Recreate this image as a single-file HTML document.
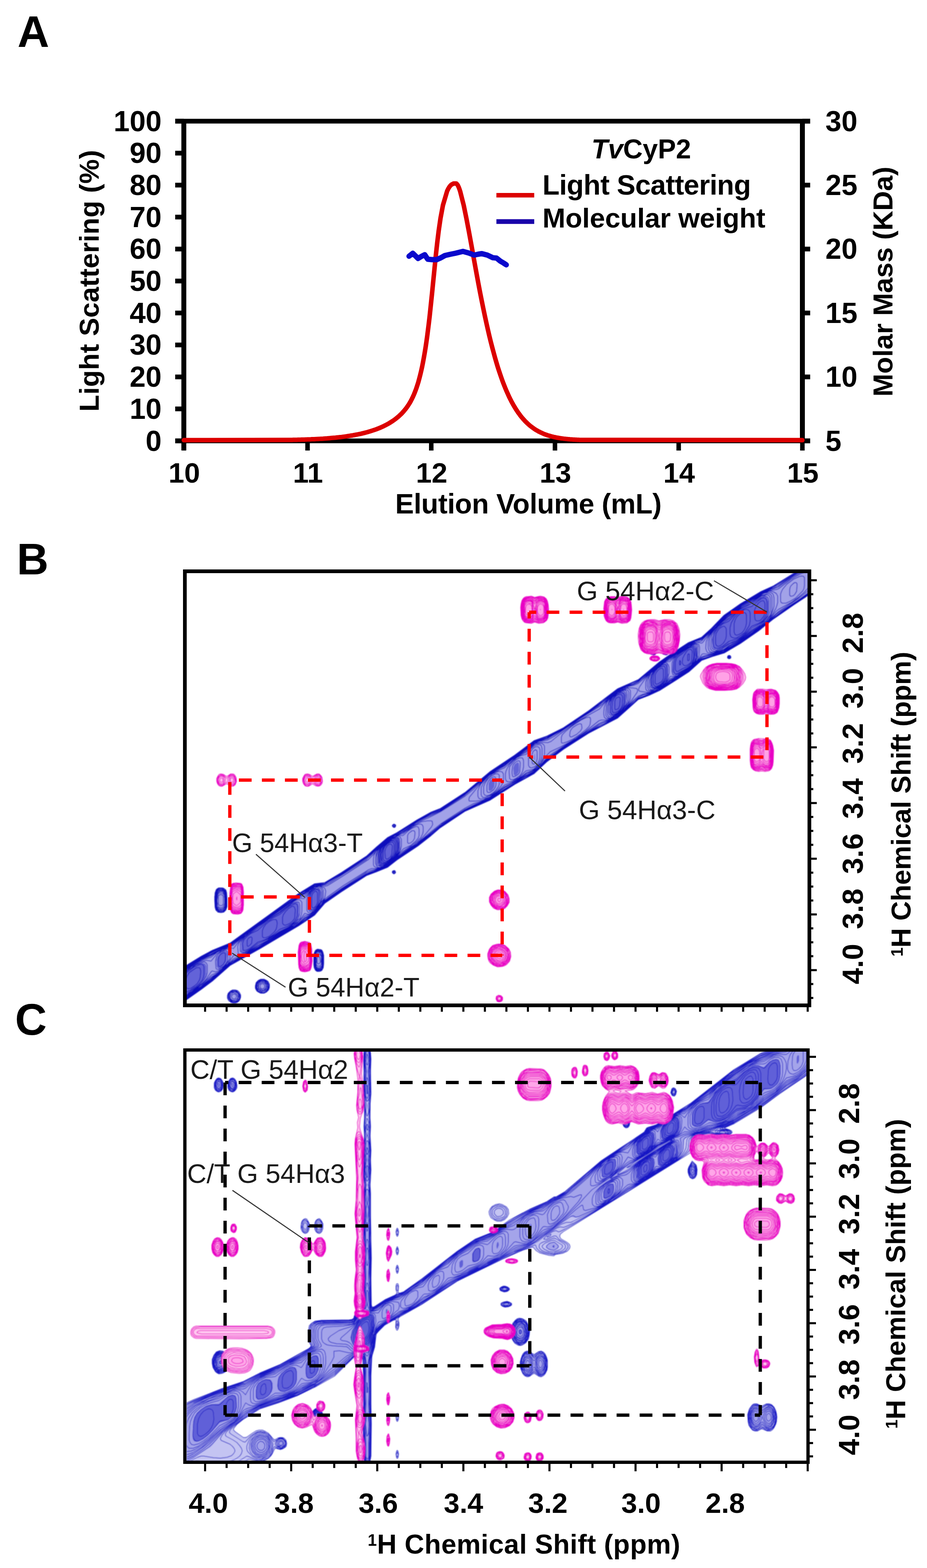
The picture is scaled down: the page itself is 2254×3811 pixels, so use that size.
<!DOCTYPE html>
<html><head><meta charset="utf-8"><title>Figure</title>
<style>html,body{margin:0;padding:0;background:#fff;}svg{display:block;}text{font-family:'Liberation Sans', Arial, Helvetica, sans-serif;}</style>
</head><body>
<svg width="2254" height="3811" viewBox="0 0 2254 3811">
<rect width="2254" height="3811" fill="#fff"/>
<text x="42.4" y="114.0" font-size="107" text-anchor="start" font-weight="bold" fill="#000" >A</text>
<line x1="426.0" y1="294.5" x2="1970.0" y2="294.5" stroke="#000" stroke-width="11.5"/>
<line x1="426.0" y1="1071.5" x2="1970.0" y2="1071.5" stroke="#000" stroke-width="11.5"/>
<line x1="447.0" y1="289.5" x2="447.0" y2="1094.5" stroke="#000" stroke-width="12"/>
<line x1="1951.0" y1="289.5" x2="1951.0" y2="1076.5" stroke="#000" stroke-width="12"/>
<line x1="426.0" y1="294.5" x2="447.0" y2="294.5" stroke="#000" stroke-width="11.5"/>
<text x="393.0" y="318.5" font-size="70" text-anchor="end" font-weight="bold" fill="#000" >100</text>
<line x1="426.0" y1="372.2" x2="447.0" y2="372.2" stroke="#000" stroke-width="11.5"/>
<text x="393.0" y="396.2" font-size="70" text-anchor="end" font-weight="bold" fill="#000" >90</text>
<line x1="426.0" y1="449.9" x2="447.0" y2="449.9" stroke="#000" stroke-width="11.5"/>
<text x="393.0" y="473.9" font-size="70" text-anchor="end" font-weight="bold" fill="#000" >80</text>
<line x1="426.0" y1="527.6" x2="447.0" y2="527.6" stroke="#000" stroke-width="11.5"/>
<text x="393.0" y="551.6" font-size="70" text-anchor="end" font-weight="bold" fill="#000" >70</text>
<line x1="426.0" y1="605.3" x2="447.0" y2="605.3" stroke="#000" stroke-width="11.5"/>
<text x="393.0" y="629.3" font-size="70" text-anchor="end" font-weight="bold" fill="#000" >60</text>
<line x1="426.0" y1="683.0" x2="447.0" y2="683.0" stroke="#000" stroke-width="11.5"/>
<text x="393.0" y="707.0" font-size="70" text-anchor="end" font-weight="bold" fill="#000" >50</text>
<line x1="426.0" y1="760.7" x2="447.0" y2="760.7" stroke="#000" stroke-width="11.5"/>
<text x="393.0" y="784.7" font-size="70" text-anchor="end" font-weight="bold" fill="#000" >40</text>
<line x1="426.0" y1="838.4" x2="447.0" y2="838.4" stroke="#000" stroke-width="11.5"/>
<text x="393.0" y="862.4" font-size="70" text-anchor="end" font-weight="bold" fill="#000" >30</text>
<line x1="426.0" y1="916.1" x2="447.0" y2="916.1" stroke="#000" stroke-width="11.5"/>
<text x="393.0" y="940.1" font-size="70" text-anchor="end" font-weight="bold" fill="#000" >20</text>
<line x1="426.0" y1="993.8" x2="447.0" y2="993.8" stroke="#000" stroke-width="11.5"/>
<text x="393.0" y="1017.8" font-size="70" text-anchor="end" font-weight="bold" fill="#000" >10</text>
<line x1="426.0" y1="1071.5" x2="447.0" y2="1071.5" stroke="#000" stroke-width="11.5"/>
<text x="393.0" y="1095.5" font-size="70" text-anchor="end" font-weight="bold" fill="#000" >0</text>
<line x1="1951.0" y1="294.5" x2="1970.0" y2="294.5" stroke="#000" stroke-width="11.5"/>
<text x="2007.0" y="318.5" font-size="70" text-anchor="start" font-weight="bold" fill="#000" >30</text>
<line x1="1951.0" y1="449.9" x2="1970.0" y2="449.9" stroke="#000" stroke-width="11.5"/>
<text x="2007.0" y="473.9" font-size="70" text-anchor="start" font-weight="bold" fill="#000" >25</text>
<line x1="1951.0" y1="605.3" x2="1970.0" y2="605.3" stroke="#000" stroke-width="11.5"/>
<text x="2007.0" y="629.3" font-size="70" text-anchor="start" font-weight="bold" fill="#000" >20</text>
<line x1="1951.0" y1="760.7" x2="1970.0" y2="760.7" stroke="#000" stroke-width="11.5"/>
<text x="2007.0" y="784.7" font-size="70" text-anchor="start" font-weight="bold" fill="#000" >15</text>
<line x1="1951.0" y1="916.1" x2="1970.0" y2="916.1" stroke="#000" stroke-width="11.5"/>
<text x="2007.0" y="940.1" font-size="70" text-anchor="start" font-weight="bold" fill="#000" >10</text>
<line x1="1951.0" y1="1071.5" x2="1970.0" y2="1071.5" stroke="#000" stroke-width="11.5"/>
<text x="2007.0" y="1095.5" font-size="70" text-anchor="start" font-weight="bold" fill="#000" >5</text>
<line x1="447.0" y1="1071.5" x2="447.0" y2="1095.0" stroke="#000" stroke-width="11"/>
<text x="448.0" y="1173.0" font-size="69" text-anchor="middle" font-weight="bold" fill="#000" >10</text>
<line x1="747.8" y1="1071.5" x2="747.8" y2="1095.0" stroke="#000" stroke-width="11"/>
<text x="748.8" y="1173.0" font-size="69" text-anchor="middle" font-weight="bold" fill="#000" >11</text>
<line x1="1048.6" y1="1071.5" x2="1048.6" y2="1095.0" stroke="#000" stroke-width="11"/>
<text x="1049.6" y="1173.0" font-size="69" text-anchor="middle" font-weight="bold" fill="#000" >12</text>
<line x1="1349.4" y1="1071.5" x2="1349.4" y2="1095.0" stroke="#000" stroke-width="11"/>
<text x="1350.4" y="1173.0" font-size="69" text-anchor="middle" font-weight="bold" fill="#000" >13</text>
<line x1="1650.2" y1="1071.5" x2="1650.2" y2="1095.0" stroke="#000" stroke-width="11"/>
<text x="1651.2" y="1173.0" font-size="69" text-anchor="middle" font-weight="bold" fill="#000" >14</text>
<line x1="1951.0" y1="1071.5" x2="1951.0" y2="1095.0" stroke="#000" stroke-width="11"/>
<text x="1952.0" y="1173.0" font-size="69" text-anchor="middle" font-weight="bold" fill="#000" >15</text>
<text x="961.0" y="1248.0" font-size="68" text-anchor="start" font-weight="bold" fill="#000" textLength="648" lengthAdjust="spacing">Elution Volume (mL)</text>
<text transform="translate(240.3,682.4) rotate(-90)" font-size="67" font-weight="bold" text-anchor="middle" textLength="636" lengthAdjust="spacing">Light Scattering (%)</text>
<text transform="translate(2169.6,684.4) rotate(-90)" font-size="67" font-weight="bold" text-anchor="middle" textLength="559" lengthAdjust="spacing">Molar Mass (KDa)</text>
<text x="1438" y="385" font-size="66" font-weight="bold"><tspan font-style="italic">Tv</tspan>CyP2</text>
<text x="1319.0" y="472.5" font-size="68" text-anchor="start" font-weight="bold" fill="#000" textLength="507" lengthAdjust="spacing">Light Scattering</text>
<text x="1319.0" y="552.6" font-size="67" text-anchor="start" font-weight="bold" fill="#000" textLength="542" lengthAdjust="spacing">Molecular weight</text>
<line x1="1207.0" y1="474.4" x2="1299.0" y2="474.4" stroke="#dc0000" stroke-width="11"/>
<line x1="1207.0" y1="538.4" x2="1299.0" y2="538.4" stroke="#1900aa" stroke-width="11.5"/>
<path d="M447.0,1069.8 L709.2,1069.2 L710.9,1069.2 L712.6,1069.1 L714.4,1069.1 L716.3,1069.0 L718.2,1069.0 L720.2,1068.9 L722.2,1068.9 L724.2,1068.8 L726.4,1068.8 L728.5,1068.7 L730.7,1068.7 L733.0,1068.6 L735.3,1068.5 L737.7,1068.4 L740.1,1068.4 L742.6,1068.3 L745.1,1068.2 L747.7,1068.1 L750.3,1068.0 L753.0,1067.9 L755.7,1067.8 L758.5,1067.6 L761.3,1067.5 L764.2,1067.4 L767.1,1067.2 L770.0,1067.1 L773.0,1066.9 L776.1,1066.7 L779.2,1066.6 L782.3,1066.4 L785.5,1066.2 L788.7,1065.9 L792.0,1065.7 L795.3,1065.5 L798.6,1065.2 L802.0,1064.9 L805.4,1064.6 L808.9,1064.3 L812.4,1064.0 L816.0,1063.7 L819.5,1063.3 L823.1,1062.9 L826.8,1062.5 L830.5,1062.1 L834.2,1061.6 L838.0,1061.1 L841.7,1060.6 L845.6,1060.0 L849.4,1059.4 L853.3,1058.8 L857.2,1058.2 L861.1,1057.5 L865.1,1056.7 L869.0,1056.0 L873.0,1055.1 L877.1,1054.3 L881.1,1053.3 L885.2,1052.3 L889.3,1051.3 L893.4,1050.2 L897.5,1049.0 L901.6,1047.8 L905.8,1046.4 L909.9,1045.1 L914.1,1043.6 L918.3,1042.0 L922.4,1040.3 L926.6,1038.6 L930.7,1036.7 L934.9,1034.7 L939.0,1032.6 L943.1,1030.4 L947.2,1028.0 L951.2,1025.5 L955.3,1022.9 L959.2,1020.1 L963.2,1017.1 L967.0,1014.0 L970.9,1010.6 L974.6,1007.1 L978.3,1003.3 L981.9,999.3 L985.4,995.1 L988.8,990.7 L992.1,985.9 L995.3,980.9 L998.4,975.6 L1001.3,969.9 L1004.2,964.0 L1007.0,957.6 L1009.7,950.9 L1012.3,943.8 L1014.8,936.3 L1017.3,928.3 L1019.6,919.8 L1021.9,910.8 L1024.2,901.3 L1026.4,891.3 L1028.5,880.6 L1030.6,869.2 L1032.7,857.2 L1034.8,844.5 L1036.8,831.0 L1038.8,816.8 L1040.7,801.6 L1042.7,785.6 L1044.7,768.6 L1046.6,750.5 L1048.6,731.4 L1050.7,711.2 L1052.8,689.7 L1055.1,667.0 L1057.5,642.9 L1060.1,617.3 L1063.1,590.2 L1066.6,561.5 L1071.0,531.1 L1077.0,498.9 L1087.1,464.7 L1090.1,458.5 L1092.0,455.4 L1094.2,452.2 L1097.2,449.1 L1102.7,446.0 L1106.0,446.0 L1109.7,446.0 L1112.4,449.1 L1114.1,452.2 L1115.5,455.4 L1116.7,458.5 L1118.8,464.7 L1127.5,498.9 L1134.1,531.1 L1139.9,561.5 L1145.2,590.2 L1150.1,617.3 L1154.7,642.9 L1159.1,667.0 L1163.3,689.7 L1167.4,711.2 L1171.4,731.4 L1175.3,750.5 L1179.1,768.6 L1182.8,785.6 L1186.4,801.6 L1189.9,816.8 L1193.4,831.0 L1196.9,844.5 L1200.3,857.2 L1203.6,869.2 L1206.9,880.6 L1210.1,891.3 L1213.3,901.3 L1216.5,910.8 L1219.6,919.8 L1222.7,928.3 L1225.8,936.3 L1228.8,943.8 L1231.8,950.9 L1234.8,957.6 L1237.7,964.0 L1240.6,969.9 L1243.5,975.6 L1246.4,980.9 L1249.2,985.9 L1252.1,990.7 L1254.8,995.1 L1257.6,999.3 L1260.3,1003.3 L1263.1,1007.1 L1265.7,1010.6 L1268.4,1014.0 L1271.1,1017.1 L1273.7,1020.1 L1276.3,1022.9 L1278.8,1025.5 L1281.4,1028.0 L1283.9,1030.4 L1286.4,1032.6 L1288.9,1034.7 L1291.4,1036.7 L1293.9,1038.6 L1296.3,1040.3 L1298.7,1042.0 L1301.1,1043.6 L1303.4,1045.1 L1305.8,1046.4 L1308.1,1047.8 L1310.4,1049.0 L1312.7,1050.2 L1315.0,1051.3 L1317.2,1052.3 L1319.4,1053.3 L1321.6,1054.3 L1323.8,1055.1 L1326.0,1056.0 L1328.1,1056.7 L1330.2,1057.5 L1332.3,1058.2 L1334.4,1058.8 L1336.5,1059.4 L1338.5,1060.0 L1340.6,1060.6 L1342.6,1061.1 L1344.6,1061.6 L1346.5,1062.1 L1348.5,1062.5 L1350.4,1062.9 L1352.3,1063.3 L1354.2,1063.7 L1356.0,1064.0 L1357.9,1064.3 L1359.7,1064.6 L1361.5,1064.9 L1363.3,1065.2 L1365.0,1065.5 L1366.7,1065.7 L1368.4,1065.9 L1370.1,1066.2 L1371.8,1066.4 L1373.4,1066.6 L1375.1,1066.7 L1376.7,1066.9 L1378.2,1067.1 L1379.8,1067.2 L1381.3,1067.4 L1382.8,1067.5 L1384.3,1067.6 L1385.7,1067.8 L1387.1,1067.9 L1388.5,1068.0 L1389.9,1068.1 L1391.3,1068.2 L1392.6,1068.3 L1393.9,1068.4 L1395.1,1068.4 L1396.4,1068.5 L1397.6,1068.6 L1398.8,1068.7 L1400.0,1068.7 L1401.1,1068.8 L1402.2,1068.8 L1403.3,1068.9 L1404.3,1068.9 L1405.4,1069.0 L1406.4,1069.0 L1407.3,1069.1 L1408.3,1069.1 L1409.2,1069.2 L1410.1,1069.2 L1951.0,1069.8" fill="none" stroke="#dc0000" stroke-width="11" stroke-linejoin="round" stroke-linecap="round"/>
<path d="M994.6,622.8 L1003.7,615.5 L1016.4,628.2 L1025.0,623.0 L1032.8,619.1 L1040.0,630.0 L1050.0,631.0 L1061.9,631.0 L1071.0,627.0 L1081.9,621.0 L1095.0,618.0 L1107.4,615.5 L1125.6,611.0 L1140.0,615.0 L1152.9,620.0 L1162.0,618.0 L1171.0,616.4 L1185.0,620.0 L1198.3,626.4 L1207.4,627.3 L1216.5,634.6 L1224.0,639.0 L1231.0,643.7" fill="none" stroke="#0a08cc" stroke-width="13" stroke-linejoin="round" stroke-linecap="round"/>
<text x="40.8" y="1395.8" font-size="107" text-anchor="start" font-weight="bold" fill="#000" >B</text>
<text x="36.5" y="2515.0" font-size="107" text-anchor="start" font-weight="bold" fill="#000" >C</text>
<defs><clipPath id="clipB"><rect x="454" y="1393" width="1510" height="1047"/></clipPath><filter id="soft" x="-5%" y="-5%" width="110%" height="110%"><feGaussianBlur stdDeviation="1.20"/></filter></defs>
<g clip-path="url(#clipB)"><g filter="url(#soft)">
<path fill="#bcbcf0" fill-rule="evenodd" stroke="none" d="M446 2435l-2 1 -1 -10 0 -64 1 -10 46 -28 26 -14 44 -18 166 -120 39 -24 25 -3 40 -24 61 -40 51 -45 23 -12 49 -31 34 -19 23 -9 60 -39 60 -50 60 -40 48 -36 31 -11 40 -20 61 -41 71 -54 50 -22 50 -42 26 -18 46 -30 32 -13 54 -53 40 -28 50 -30 31 -14 66 -41 27 -1 1 1 -1 58 -93 63 -35 28 -46 32 -39 23 -55 18 -30 27 -34 22 -38 24 -52 22 -50 45 -71 37 -61 39 -40 30 -31 29 -47 26 -61 39 -61 27 -60 40 -22 19 -32 25 -51 34 -23 18 -51 20 -62 40 -39 27 -25 29 -39 26 -166 96 -42 37 -28 21 -44 31M1590 1592l-8 -2 -1 -3 5 -3 7 1 2 3 -5 4M1620 1592l-8 -2 -1 -3 5 -3 7 1 3 3 -2 2 -4 2M1774 1601l-2 0 -3 -2 0 -3 3 -3 2 0 3 3 0 3 -3 2M960 2011l-3 0 -3 -3 2 -4 2 -1 4 2 0 3 -2 3M958 2124l-2 -1 -2 -2 0 -3 3 -2 3 0 2 4 -1 2 -3 2M544 2217l-7 1 -7 -1 -5 -5 -2 -7 0 -35 3 -8 6 -4 12 1 5 4 2 7 1 34 -3 8 -5 5M777 2361l-6 0 -4 -3 -4 -14 1 -28 3 -6 5 -3 8 1 3 2 4 12 -1 30 -3 6 -6 3M642 2414l-8 0 -6 -3 -4 -3 -3 -6 0 -6 2 -8 5 -5 6 -3 8 0 6 3 4 3 3 6 0 8 -2 6 -5 5 -6 3M573 2438l-6 0 -6 -2 -5 -4 -3 -6 0 -6 2 -6 5 -5 6 -3 6 0 6 2 4 4 3 6 0 6 -2 6 -4 5 -6 3"/>
<path fill="#a2a2e8" fill-rule="evenodd" stroke="none" d="M444 2432l-1 -38 1 -38 46 -29 73 -33 148 -108 30 -18 24 -17 25 -2 41 -24 60 -39 51 -48 34 -18 38 -23 57 -27 60 -39 60 -52 36 -22 72 -52 31 -10 40 -22 86 -59 46 -37 50 -20 53 -47 69 -45 32 -11 54 -54 42 -29 49 -30 41 -15 43 -29 24 -14 15 0 0 48 -34 26 -48 31 -42 38 -50 35 -40 23 -54 16 -32 30 -68 43 -18 9 -36 13 -50 47 -46 20 -86 55 -40 28 -31 31 -72 41 -36 24 -36 15 -24 11 -60 39 -57 47 -36 24 -36 28 -51 18 -59 39 -42 28 -25 31 -24 14 -31 22 -101 58 -45 25 -74 60 -46 32M542 2213l-8 0 -4 -1 -4 -5 -1 -7 0 -28 3 -6 6 -3 6 0 4 1 4 5 1 6 0 29 -3 6 -4 3M780 2355l-9 1 -3 -3 -2 -5 0 -28 2 -5 4 -3 8 1 4 7 1 24 -2 8 -3 3M644 2408l-10 0 -6 -5 -2 -9 3 -4 4 -4 9 0 4 3 3 3 0 10 -5 6M572 2432l-8 -1 -5 -7 2 -8 6 -4 7 2 5 6 -1 7 -6 5"/>
<path fill="#6464d8" fill-rule="evenodd" stroke="none" d="M1744 1578l-7 0 -4 -3 -2 -21 4 -15 11 -15 12 -10 15 -9 27 -23 12 -7 16 -5 23 -17 9 -3 5 2 3 9 0 25 -4 12 -8 11 -10 8 -18 9 -28 24 -12 7 -15 5 -15 11 -14 5M1644 1640l-6 -1 -3 -7 1 -21 4 -12 8 -9 26 -18 8 -2 6 0 3 6 0 17 -1 9 -4 8 -12 13 -30 17M1592 1673l-6 -1 -4 -4 0 -18 2 -10 8 -11 12 -10 10 -6 8 0 2 4 1 11 0 13 -3 9 -6 8 -8 7 -8 4 -8 4M1490 1739l-6 -2 -2 -5 0 -19 2 -9 6 -9 12 -10 8 -4 6 1 3 2 2 6 -1 16 -2 8 -6 10 -9 9 -13 6M1299 1848l0 -14 1 -2 1 13 -2 3M1254 1884l-3 1 -2 -3 -1 -16 3 -8 7 -5 3 1 1 3 0 17 -3 6 -5 4M1191 1923l-3 -3 0 -16 4 -8 8 -4 3 6 -1 14 -5 8 -6 3M933 2103l-9 0 -4 -5 -1 -20 4 -12 7 -11 12 -12 15 -7 11 0 2 2 1 8 0 16 -3 11 -6 9 -11 11 -9 7 -9 3M759 2214l-5 0 -3 -6 1 -30 3 -8 7 -7 3 -2 7 -1 5 3 2 5 -1 22 -3 8 -5 8 -5 5 -6 3M596 2313l-6 1 -4 -2 0 -16 2 -8 9 -11 12 -9 18 -11 27 -22 27 -16 25 -20 12 -6 5 0 2 1 2 8 0 22 -4 10 -8 8 -13 10 -22 11 -26 18 -26 12 -20 14 -12 6M534 2354l-4 0 -3 -4 -1 -16 2 -8 8 -10 7 -4 6 0 2 1 2 5 -2 18 -7 10 -10 8M448 2415l-4 0 0 -43 12 -12 20 -13 14 -7 9 2 3 6 0 18 -2 7 -4 7 -9 11 -13 11 -15 9 -11 4"/>
<path fill="none" stroke="#0c0cbc" stroke-width="1.60" stroke-linejoin="round" d="M446 2435l-2 1 -1 -10 0 -64 1 -10 46 -28 26 -14 44 -18 166 -120 39 -24 25 -3 40 -24 61 -40 24 -22 27 -23 23 -12 49 -31 34 -19 23 -9 60 -39 60 -50 60 -40 48 -36 31 -11 40 -20 61 -41 71 -54 50 -22 50 -42 26 -18 46 -30 32 -13 24 -22 30 -31 40 -28 50 -30 31 -14 66 -41 27 -1 1 1 0 45 -1 13 -44 29 -49 34 -35 28 -46 32 -39 23 -30 9 -25 9 -30 27 -34 22 -38 24 -26 12 -26 10 -50 45 -71 37 -61 39 -40 30 -31 29 -47 26 -61 39 -61 27 -60 40 -22 19 -32 25 -51 34 -23 18 -27 11 -24 9 -62 40 -39 27 -25 29 -39 26 -93 55 -73 41 -42 37 -28 21 -44 31M1590 1592l-8 -2 -1 -2 0 -1 5 -3 7 1 2 2 0 1 -2 3 -3 1M1620 1592l-8 -2 -1 -2 0 -1 5 -3 7 1 2 2 1 1 -2 2 -4 2M1774 1601l-2 0 -3 -2 0 -3 3 -3 2 0 3 3 0 3 -3 2M960 2011l-3 0 -3 -3 0 -2 2 -2 2 -1 4 2 0 3 -2 3M958 2124l-2 -1 -2 -2 0 -3 3 -2 3 0 2 4 -1 2 -3 2M544 2217l-7 1 -7 -1 -5 -5 -2 -7 -1 -19 1 -16 3 -8 4 -3 2 -1 8 0 4 1 5 4 2 7 1 14 0 20 -3 8 -5 5M777 2361l-6 0 -4 -3 -3 -6 -1 -8 0 -18 1 -10 3 -6 3 -2 2 -1 8 1 3 2 2 4 2 8 0 20 -1 10 -3 6 -3 2 -3 1M642 2414l-8 0 -6 -3 -4 -3 -3 -6 0 -6 2 -8 5 -5 6 -3 8 0 6 3 4 3 3 6 0 8 -2 6 -5 5 -6 3M573 2438l-6 0 -6 -2 -5 -4 -3 -6 0 -6 2 -6 5 -5 6 -3 6 0 6 2 4 4 3 6 0 6 -2 6 -4 5 -6 3M444 2435l-1 -8 0 -33 0 -33 1 -8 48 -29 26 -13 43 -19 71 -52 92 -66 41 -25 25 -4 41 -24 60 -39 51 -46 24 -12 48 -30 34 -18 22 -10 60 -38 61 -51 61 -41 48 -35 30 -11 40 -20 61 -41 71 -55 50 -21 50 -43 42 -28 32 -20 30 -12 24 -22 30 -31 40 -28 50 -30 30 -13 6 -4 63 -39 25 -1 1 1 0 43 -1 13 -86 58 -8 6 -30 26 -48 33 -42 25 -32 9 -22 8 -30 27 -32 21 -42 26 -50 21 -50 45 -70 36 -62 40 -40 30 -31 29 -46 26 -62 39 -60 27 -60 39 -23 19 -34 27 -48 32 -24 19 -26 11 -25 9 -63 41 -38 26 -25 29 -39 26 -94 56 -71 39 -43 38 -24 19 -50 34M1592 1591l-5 0 -3 -1 -2 -2 0 -1 4 -2 6 0 2 2 0 1 -2 3M1623 1590l-3 1 -4 0 -4 -2 0 -2 4 -2 6 0 2 2 0 1 -1 2M1773 1601l-3 -2 -1 -1 1 -4 3 -1 3 1 1 4 -1 1 -3 2M958 2011l-2 -1 -2 -3 1 -1 2 -2 3 0 2 3 -2 3 -2 1M960 2123l-3 0 -2 -1 -1 -2 2 -3 2 -1 3 2 0 3 -1 2M540 2217l-8 0 -4 -2 -3 -5 -2 -10 -1 -20 2 -11 2 -5 2 -3 6 -2 8 0 4 2 4 7 1 7 1 21 -2 12 -4 7 -6 2M778 2360l-6 0 -4 -2 -3 -4 -1 -6 -1 -18 1 -12 2 -5 2 -3 4 -2 6 0 4 2 3 4 1 8 1 18 -1 10 -3 7 -5 3M644 2412l-6 1 -6 -1 -5 -3 -4 -6 -1 -6 1 -6 4 -6 6 -3 6 -1 6 2 5 3 3 6 1 6 -2 6 -3 5 -5 3M573 2436l-6 1 -6 -3 -4 -4 -2 -4 0 -6 1 -5 4 -5 6 -2 6 0 4 1 4 4 3 5 1 4 -2 6 -3 5 -6 3M444 2434l-1 -8 0 -32 0 -32 1 -8 46 -28 29 -15 42 -18 72 -53 84 -60 48 -30 25 -3 41 -25 60 -38 51 -47 33 -18 37 -23 36 -19 22 -9 61 -40 29 -23 31 -27 60 -40 48 -35 31 -11 40 -21 62 -41 32 -24 38 -31 50 -21 52 -44 38 -26 32 -20 32 -12 54 -54 40 -28 50 -30 30 -13 10 -5 62 -39 22 -1 1 1 0 41 -1 13 -84 57 -10 8 -30 26 -50 34 -40 24 -30 8 -24 9 -30 27 -34 22 -38 25 -23 10 -29 11 -50 45 -40 19 -30 17 -62 40 -40 29 -31 30 -48 27 -60 38 -31 13 -29 14 -61 40 -22 18 -36 28 -38 26 -32 24 -20 8 -31 12 -60 38 -41 29 -25 30 -48 31 -84 49 -72 41 -42 36 -29 22 -46 32M1590 1590l-5 0 -2 -2 0 -1 4 -1 5 0 1 2 -3 2M1620 1590l-5 0 -2 -2 0 -1 4 -1 5 0 1 2 -3 2M1774 1599l-1 1 -2 -1 -1 -3 2 -1 2 -1 2 2 0 2 -2 1M960 2009l-3 1 -1 -2 0 -2 1 -2 3 1 1 2 -1 2M958 2123l-1 0 -2 -2 0 -1 2 -3 3 1 1 2 0 1 -3 2M542 2216l-8 0 -4 -2 -4 -4 -2 -6 -1 -18 1 -14 3 -8 3 -2 2 -2 8 0 4 2 4 4 2 6 1 20 -1 13 -3 7 -5 4M778 2358l-6 1 -4 -3 -2 -4 -2 -6 0 -16 1 -11 3 -7 4 -3 6 1 4 1 2 3 2 8 0 16 -1 11 -2 6 -5 3M644 2411l-5 1 -6 -1 -5 -3 -3 -5 -2 -6 2 -6 3 -5 5 -3 6 -1 6 2 4 4 3 4 1 5 -2 6 -3 5 -4 3M572 2435l-6 0 -5 -3 -3 -4 -2 -4 0 -4 2 -5 4 -4 5 -2 5 0 4 2 4 4 2 5 0 6 -3 4 -3 3 -4 2M446 2432l-2 1 -1 -12 0 -54 1 -12 46 -28 40 -20 31 -13 75 -55 76 -55 12 -8 18 -10 23 -16 25 -2 41 -24 60 -39 51 -48 36 -18 34 -22 36 -18 22 -9 61 -40 27 -22 33 -29 39 -25 48 -34 21 -16 31 -10 40 -22 61 -41 21 -15 50 -40 13 -6 24 -8 13 -6 50 -44 27 -18 15 -11 32 -19 30 -11 54 -54 40 -28 50 -30 18 -8 13 -4 11 -5 32 -22 32 -19 19 0 -1 51 -34 25 -50 32 -39 35 -48 33 -43 26 -44 13 -10 3 -30 29 -32 21 -15 8 -27 18 -20 8 -30 12 -50 46 -48 23 -23 13 -61 39 -40 28 -31 31 -22 11 -48 29 -38 25 -34 14 -26 12 -61 40 -58 47 -34 23 -36 28 -18 7 -18 6 -15 5 -60 39 -41 28 -25 31 -24 14 -17 12 -13 9 -78 45 -72 41 -33 28 -38 30 -44 31M1590 1589l-3 0 -2 -1 1 -1 2 0 2 0 1 1 -1 1M1620 1589l-3 0 -2 -1 1 -1 2 0 2 0 1 1 -1 1M1774 1598l-1 1 -1 -1 0 -2 1 -1 1 1 0 2M958 2009l-1 -1 -1 -1 1 -1 1 -1 2 2 -2 2M958 2122l-1 -1 0 -2 1 -1 2 2 -2 2M542 2214l-8 0 -4 -1 -4 -5 -2 -6 0 -16 0 -12 3 -8 3 -3 2 -1 8 0 4 1 4 5 2 6 0 18 -1 12 -3 7 -4 3M778 2357l-6 0 -2 -1 -4 -4 -1 -8 0 -16 0 -9 3 -6 4 -2 6 0 4 2 2 3 1 6 1 15 -1 11 -2 6 -5 3M642 2409l-6 1 -4 -2 -5 -4 -2 -4 0 -4 1 -5 4 -4 4 -3 5 0 5 1 3 3 3 4 1 6 -1 5 -4 4 -4 2M572 2433l-5 0 -5 -2 -2 -3 -2 -4 0 -4 2 -5 2 -2 5 -2 5 0 4 2 3 3 1 4 0 4 -2 4 -3 4 -3 1M446 2430l-2 1 -1 -11 0 -52 1 -12 46 -28 44 -22 29 -12 43 -33 104 -73 14 -10 17 -9 24 -18 25 -2 41 -24 60 -39 15 -13 19 -19 17 -16 35 -18 35 -22 59 -27 60 -39 24 -20 36 -32 37 -23 51 -36 20 -16 12 -4 19 -5 40 -23 86 -58 29 -25 17 -13 16 -7 21 -6 13 -6 12 -10 22 -21 19 -17 23 -14 18 -13 28 -18 15 -6 17 -4 54 -54 40 -29 50 -30 16 -7 15 -4 11 -4 34 -24 27 -15 10 -5 11 0 0 46 -36 28 -46 30 -41 38 -49 34 -42 25 -18 5 -29 7 -7 3 -18 18 -14 13 -30 20 -14 8 -24 15 -19 9 -23 7 -12 6 -13 11 -20 20 -17 16 -17 8 -19 7 -10 5 -86 54 -40 28 -31 32 -19 10 -23 14 -28 16 -38 25 -36 14 -24 12 -57 36 -62 50 -34 23 -36 29 -15 6 -21 6 -15 6 -60 38 -41 29 -25 31 -24 14 -17 12 -18 11 -100 59 -42 22 -32 27 -42 34 -44 30M540 2213l-6 0 -4 -2 -3 -5 -2 -6 0 -18 1 -10 3 -6 2 -2 3 -1 6 0 4 2 4 5 1 6 0 17 -1 11 -2 6 -3 2 -3 1M778 2355l-6 1 -2 -2 -3 -4 -1 -4 -1 -15 1 -11 2 -5 4 -3 8 1 2 3 2 6 1 12 -1 12 -2 6 -4 3M642 2408l-4 0 -5 -1 -3 -2 -2 -3 -1 -5 1 -5 2 -3 4 -3 5 0 5 1 2 3 3 4 0 4 -1 4 -2 2 -4 4M573 2430l-3 1 -4 0 -4 -2 -2 -3 0 -5 1 -3 5 -5 2 0 5 1 4 4 1 3 0 5 -5 4M444 2430l-1 -9 0 -27 0 -27 1 -9 24 -16 22 -13 23 -10 23 -12 24 -10 6 -3 36 -29 49 -35 65 -45 8 -6 17 -8 24 -18 11 -2 15 0 10 -5 30 -19 60 -38 13 -12 19 -21 19 -17 36 -17 34 -22 29 -12 30 -15 60 -38 21 -17 39 -37 15 -10 21 -11 30 -23 23 -15 19 -15 12 -5 19 -3 17 -9 57 -39 52 -33 8 -6 20 -20 18 -14 19 -8 19 -4 12 -5 11 -9 23 -24 20 -18 23 -13 17 -13 30 -19 13 -4 15 -2 3 -2 32 -35 21 -20 42 -30 27 -16 22 -13 17 -7 19 -3 6 -2 30 -23 23 -13 10 -4 8 -2 6 0 4 2 0 25 -6 10 -13 14 -14 12 -15 11 -33 18 -6 5 -18 22 -18 16 -23 15 -28 20 -40 24 -22 6 -25 5 -6 2 -3 2 -15 18 -13 12 -30 20 -17 8 -24 17 -19 9 -22 5 -12 5 -12 10 -20 22 -18 17 -18 8 -20 6 -8 4 -54 35 -55 35 -17 12 -18 21 -13 12 -19 10 -23 14 -30 16 -36 26 -13 5 -26 8 -21 11 -59 38 -31 25 -29 25 -34 23 -36 29 -18 7 -20 4 -13 5 -60 39 -30 21 -11 8 -25 32 -9 5 -15 7 -24 19 -66 39 -49 28 -36 19 -6 4 -23 20 -25 19 -23 20 -45 30M543 2210l-6 1 -6 -1 -3 -4 -2 -6 0 -16 1 -10 3 -7 4 -2 6 0 3 1 3 4 2 5 0 9 0 15 -2 7 -3 4M777 2354l-5 0 -2 -2 -2 -3 -2 -6 1 -21 2 -6 3 -2 5 0 3 1 2 4 2 6 0 13 -1 9 -2 5 -4 2M639 2406l-5 -1 -2 -2 -3 -3 0 -3 0 -3 3 -3 2 -2 4 -1 4 1 3 2 2 6 -2 6 -3 2 -3 1M573 2427l-5 1 -2 -1 -2 -1 -1 -5 3 -4 4 -1 4 2 1 4 -2 5M1911 1466l-5 0 -4 0 -3 -2 -1 -3 0 -17 2 -6 3 -6 10 -12 16 -12 15 -7 6 -1 4 1 2 3 0 3 0 15 -1 8 -3 6 -8 8 -10 10 -12 7 -11 5M1582 1682l-8 1 -19 -3 -2 -2 0 -4 3 -6 21 -30 10 -10 15 -14 14 -8 13 -7 15 -12 32 -21 10 -4 6 -1 4 0 8 2 3 0 3 -3 13 -18 9 -10 22 -23 6 -6 43 -31 26 -14 21 -13 12 -5 8 -3 6 0 6 2 6 4 3 6 0 15 -2 8 -3 8 -7 12 -8 11 -10 11 -11 9 -22 15 -28 20 -28 16 -12 7 -16 5 -12 3 -10 1 -12 -1 -3 1 -15 21 -18 17 -30 20 -15 6 -25 19 -22 9M1156 1947l-15 0 -1 -3 1 -6 28 -34 12 -12 11 -11 14 -8 21 -11 19 -16 16 -11 18 -10 20 -18 16 -3 16 1 8 -3 22 -18 38 -28 24 -14 34 -19 23 -27 21 -17 13 -6 12 -2 19 2 3 1 1 2 0 4 -1 3 -20 29 -11 13 -16 15 -11 5 -11 4 -7 1 -11 0 -6 2 -34 27 -22 16 -36 20 -26 12 -8 8 -17 23 -14 14 -19 9 -23 16 -13 7 -17 8 -21 16 -15 10 -18 7 -17 2M446 2428l-2 0 -1 -12 0 -44 1 -13 21 -14 24 -14 24 -10 25 -15 22 -7 7 -4 31 -26 54 -39 26 -18 39 -27 7 -5 17 -7 13 -11 11 -8 12 -2 13 2 5 -1 7 -4 32 -20 62 -40 10 -10 18 -23 18 -17 15 -7 23 -9 22 -15 14 -7 10 -4 14 -2 8 0 3 1 1 8 -3 6 -15 18 -13 14 -16 13 -25 17 -23 20 -15 12 -18 6 -8 1 -12 0 -8 3 -62 39 -28 20 -11 8 -5 4 -13 20 -12 14 -9 5 -15 6 -16 14 -9 7 -36 20 -30 19 -53 30 -30 14 -7 6 -23 20 -24 18 -24 20 -23 16 -20 14M542 2208l-6 1 -5 -2 -3 -3 -1 -5 0 -15 1 -9 2 -5 4 -3 6 0 3 2 2 3 2 4 0 23 -2 6 -3 3M778 2351l-4 1 -3 -1 -2 -2 -1 -5 -1 -10 1 -10 2 -5 2 -2 5 -1 2 2 3 6 1 19 -1 5 -4 3M639 2403l-3 0 -2 -1 -2 -5 2 -5 4 -1 4 1 2 5 -2 5 -3 1M1924 1449l-2 0 -2 -3 0 -12 1 -6 2 -4 5 -5 4 -3 4 0 2 3 0 3 -1 15 -4 7 -4 4 -5 1M1734 1587l-10 0 -4 -1 -2 -4 -2 -6 1 -16 3 -9 4 -7 9 -12 13 -14 14 -13 12 -8 26 -20 32 -17 20 -14 8 -4 10 -2 6 0 5 3 2 5 1 6 0 19 -2 9 -6 14 -12 14 -12 12 -23 14 -27 20 -27 15 -13 9 -14 4 -12 3M1582 1680l-7 0 -4 -3 -1 -6 0 -13 2 -8 4 -8 12 -14 16 -14 12 -7 14 -7 14 -12 30 -20 8 -3 8 -2 5 1 4 2 1 3 1 5 -1 19 -5 12 -11 13 -10 9 -26 17 -19 9 -13 11 -12 8 -12 6 -10 2M1485 1746l-6 1 -5 0 -4 -3 -1 -2 -1 -8 1 -14 2 -7 3 -6 11 -13 17 -14 8 -4 10 -2 6 -1 4 2 2 2 1 3 0 15 -1 7 -5 10 -9 12 -15 14 -9 5 -9 3M1370 1806l-4 0 -1 -2 0 -12 2 -6 8 -8 17 -14 21 -14 13 -6 6 -1 3 1 1 5 -1 11 -3 6 -7 7 -15 12 -16 11 -15 7 -9 3M1178 1941l-10 1 -4 -2 -2 -5 0 -13 3 -8 4 -8 17 -18 6 -5 12 -7 23 -10 21 -19 14 -10 18 -9 20 -19 12 -2 6 0 4 3 2 4 0 4 0 14 -1 7 -4 7 -4 8 -13 14 -8 5 -14 5 -18 14 -14 8 -21 8 -17 15 -12 9 -7 5 -13 4M924 2109l-8 0 -6 -3 -2 -4 0 -14 1 -8 5 -10 7 -9 6 -7 17 -15 16 -8 20 -5 18 -13 10 -6 10 -4 5 0 3 1 2 3 1 3 0 10 -1 6 -5 10 -8 8 -15 12 -20 13 -20 19 -18 15 -18 6M446 2426l-2 1 -1 -12 0 -41 1 -13 21 -14 23 -14 25 -10 18 -11 11 -6 25 -8 23 -21 16 -13 106 -75 12 -7 17 -5 13 -14 11 -8 9 -1 6 0 5 2 4 2 2 4 1 4 -1 9 -1 6 -9 17 -16 19 -11 6 -13 3 -17 16 -13 10 -31 18 -24 15 -50 29 -18 9 -20 7 -28 27 -10 8 -17 10 -25 23 -22 15 -20 13M542 2205l-5 1 -5 -1 -1 -1 -2 -5 -1 -9 1 -12 2 -6 3 -2 8 1 2 3 1 2 1 8 0 12 -2 5 -2 4M778 2348l-6 0 -2 -2 -1 -3 0 -17 1 -4 2 -2 6 0 3 5 0 15 0 4 -3 4M1740 1584l-10 1 -4 -1 -2 -3 -2 -6 0 -15 1 -9 3 -7 8 -11 9 -11 17 -15 13 -9 19 -15 11 -8 25 -13 24 -15 14 -4 4 0 4 2 2 3 1 6 0 28 -2 8 -3 6 -10 13 -12 11 -22 13 -28 22 -27 14 -13 9 -11 4 -9 2M1588 1677l-6 1 -5 -1 -2 -5 -1 -6 0 -12 2 -7 4 -9 8 -9 11 -10 7 -6 11 -5 13 -5 15 -15 29 -19 6 -2 8 -2 4 0 3 2 2 3 0 5 -1 21 -4 10 -8 11 -10 9 -27 17 -18 7 -13 12 -11 8 -17 7M1484 1745l-5 0 -3 -2 -2 -2 -1 -4 1 -21 1 -6 3 -6 9 -10 15 -13 14 -5 5 0 5 1 2 3 1 3 0 15 -1 8 -5 8 -8 11 -12 11 -11 6 -8 3M1390 1791l-3 0 -2 -3 1 -9 2 -5 5 -6 11 -7 6 -2 4 1 1 10 -3 6 -10 9 -12 6M1245 1899l-6 1 -5 0 -3 -2 -2 -5 0 -12 1 -6 4 -9 5 -8 8 -8 11 -9 8 -4 14 -4 13 -15 7 -6 10 -2 3 0 3 2 1 3 1 5 0 19 -3 9 -6 10 -7 7 -4 4 -6 2 -11 2 -3 1 -16 16 -17 9M1179 1938l-5 0 -2 -2 -2 -4 0 -18 5 -10 12 -14 11 -9 14 -6 4 0 5 1 3 5 0 15 -2 8 -4 7 -8 9 -12 10 -7 4 -12 4M926 2108l-7 0 -4 -4 -2 -6 0 -13 1 -7 2 -6 4 -8 7 -9 15 -14 6 -3 18 -7 4 -1 8 1 3 -1 12 -11 9 -6 9 -4 3 0 3 1 2 6 0 15 -2 6 -6 7 -13 11 -17 8 -19 22 -20 17 -16 6M444 2424l-1 -14 0 -40 1 -7 3 -2 18 -13 21 -12 10 -4 18 -6 15 -12 11 -6 15 -4 7 0 5 1 1 0 13 -17 16 -16 57 -41 26 -17 28 -21 16 -9 6 -1 8 1 3 -1 11 -15 6 -6 7 -6 12 -1 5 2 2 2 2 4 0 6 0 11 -1 7 -8 13 -12 16 -6 3 -6 3 -5 0 -7 -2 -14 18 -15 12 -32 18 -24 16 -29 15 -25 16 -11 5 -9 3 -6 0 -8 -1 -14 20 -14 13 -10 8 -16 7 -22 22 -15 12 -18 12 -15 8M540 2201l-6 0 -2 -2 -1 -3 0 -16 1 -4 4 -2 4 1 2 1 1 5 0 15 -1 3 -2 2M777 2342l-3 1 -2 -1 -1 -4 0 -8 1 -4 2 -1 3 1 1 2 1 10 -2 4M1737 1583l-7 -2 -3 -5 -1 -7 0 -17 2 -6 3 -7 7 -9 8 -9 14 -12 12 -7 19 -16 11 -8 26 -13 23 -16 12 -3 4 0 3 2 2 2 1 6 0 29 -5 12 -10 13 -10 9 -21 12 -27 22 -27 13 -17 11 -10 4 -9 2M1588 1676l-6 0 -3 -4 -1 -6 0 -12 0 -6 2 -6 3 -6 7 -7 12 -11 9 -6 7 -3 10 -1 2 -1 14 -16 30 -21 10 -3 5 0 3 1 2 4 0 4 0 22 -4 10 -7 9 -9 8 -27 17 -7 2 -10 0 -11 14 -9 8 -10 5 -12 5M1488 1742l-4 0 -4 0 -3 -5 0 -21 3 -10 7 -11 15 -13 12 -4 7 0 3 4 1 7 0 15 -3 9 -7 11 -12 11 -7 4 -8 3M1293 1866l-3 0 -3 -2 -2 -4 0 -16 1 -8 4 -9 6 -8 6 -4 6 0 3 2 2 5 0 17 -1 7 -4 8 -4 6 -5 4 -6 2M1248 1895l-6 0 -3 -3 -1 -18 1 -10 6 -8 9 -9 9 -5 7 0 2 3 1 5 0 14 -2 10 -3 6 -5 6 -7 5 -8 4M1184 1934l-4 -1 -2 -1 -2 -4 0 -16 3 -8 7 -10 8 -7 10 -6 7 0 3 3 0 6 0 15 -2 7 -6 8 -6 6 -9 6 -7 2M998 2049l-5 1 -2 -2 0 -11 0 -6 2 -5 5 -4 4 -3 4 0 2 1 1 4 -1 13 -3 6 -7 6M926 2106l-7 -2 -2 -2 -1 -5 0 -19 2 -8 3 -6 9 -10 12 -12 10 -6 10 -3 6 -1 4 1 2 3 2 4 0 16 -2 10 -4 8 -12 14 -16 13 -10 4 -6 1M756 2219l-3 0 -3 -1 -2 -2 -2 -5 0 -23 2 -10 6 -10 10 -9 6 -2 7 1 4 2 2 6 0 16 -2 8 -5 10 -8 11 -4 4 -8 4M586 2319l-5 0 -2 -3 -1 -16 2 -6 3 -5 11 -12 12 -10 22 -15 23 -17 29 -18 30 -23 8 -5 6 -2 5 0 3 3 2 3 0 6 0 15 -1 8 -4 10 -10 10 -13 10 -26 14 -29 19 -24 13 -25 15 -16 6M444 2422l-1 -28 1 -28 21 -16 24 -13 13 -3 11 2 1 -1 13 -16 11 -8 12 -4 5 0 3 1 1 6 0 16 -5 8 -8 10 -9 8 -7 4 -6 2 -8 -2 -2 1 -12 18 -13 14 -23 17 -12 7 -10 5M1742 1580l-6 -1 -4 -2 -1 -2 -1 -6 0 -17 1 -7 3 -6 5 -7 7 -9 14 -11 13 -8 16 -14 11 -9 10 -6 18 -7 23 -16 9 -3 6 2 2 3 1 6 0 26 -4 12 -8 11 -9 7 -20 11 -18 16 -10 8 -10 6 -18 7 -17 11 -13 5M1642 1641l-2 0 -4 -1 -1 -4 -1 -4 0 -20 2 -7 3 -6 9 -9 26 -18 9 -3 3 0 3 1 2 2 1 4 0 18 -1 8 -4 8 -6 7 -7 6 -26 16 -6 2M1593 1673l-7 0 -2 -1 -2 -2 -1 -18 2 -11 7 -11 12 -11 12 -7 4 -1 4 1 3 4 2 6 0 14 -3 11 -4 7 -8 8 -8 6 -11 5M1492 1739l-7 0 -2 -1 -2 -2 -1 -6 0 -14 2 -10 7 -11 13 -11 8 -3 5 -1 3 1 3 3 1 6 -1 16 -2 8 -6 10 -9 8 -4 3 -8 4M1299 1857l-3 0 -2 -3 -1 -18 3 -9 3 -3 3 -2 3 2 1 3 0 17 -2 8 -5 5M1252 1887l-4 1 -2 -2 -1 -8 1 -14 2 -6 4 -4 5 -4 5 -1 2 2 1 3 -1 20 -1 4 -3 4 -8 5M1191 1926l-5 0 -2 -3 0 -13 1 -6 3 -6 4 -5 6 -4 5 -1 2 2 1 4 0 12 -1 6 -5 8 -9 6M933 2103l-9 1 -3 -2 -2 -4 0 -20 1 -6 2 -6 8 -11 12 -12 16 -8 5 -1 5 1 3 3 1 8 0 18 -3 9 -6 9 -12 11 -9 7 -9 3M758 2216l-5 -1 -3 -5 0 -22 1 -10 4 -9 7 -7 4 -2 8 0 4 3 2 5 0 16 -1 8 -5 8 -6 9 -3 3 -7 4M594 2315l-6 0 -3 -2 -1 -5 0 -10 1 -6 2 -4 9 -11 12 -9 20 -13 26 -21 27 -16 27 -21 12 -5 4 0 3 1 1 3 1 6 0 15 -1 7 -4 10 -8 8 -14 11 -22 11 -28 18 -24 12 -21 14 -13 7M532 2356l-4 0 -2 -1 -1 -3 -1 -16 2 -10 4 -6 7 -6 7 -3 6 -1 3 3 1 3 0 14 -1 6 -4 6 -5 6 -6 4 -6 4M447 2417l-3 0 0 -46 13 -13 20 -13 15 -6 5 -1 4 2 2 3 1 3 0 18 -2 8 -5 8 -9 11 -14 11 -15 10 -12 5M1748 1575l-6 1 -5 -2 -2 -4 -1 -7 0 -13 2 -8 4 -8 7 -8 11 -10 14 -6 17 -18 11 -8 12 -6 16 -4 16 -14 7 -5 6 -2 5 2 2 3 1 6 0 24 -4 10 -6 10 -10 7 -17 7 -16 17 -12 10 -12 5 -16 5 -14 11 -10 5M1647 1637l-3 1 -3 -1 -2 -2 -1 -5 0 -20 2 -6 2 -5 7 -7 25 -18 8 -3 4 1 2 2 1 4 0 15 -1 9 -3 8 -4 6 -7 6 -27 15M1596 1670l-8 1 -1 -1 -2 -4 -1 -18 2 -8 6 -10 10 -9 10 -6 6 0 3 3 1 6 0 17 -2 7 -3 6 -6 7 -7 6 -8 3M1494 1736l-4 0 -3 0 -3 -5 0 -18 2 -9 6 -9 8 -8 8 -3 6 0 3 2 1 4 0 17 -2 7 -4 8 -6 6 -4 4 -8 4M934 2102l-4 1 -4 -1 -3 -2 -1 -3 -1 -23 4 -10 6 -9 11 -11 15 -7 5 -1 4 1 2 3 1 8 0 16 -2 9 -6 9 -9 9 -10 8 -8 3M762 2211l-4 1 -2 -1 -2 -3 -1 -9 1 -19 2 -8 5 -6 4 -3 6 -1 4 2 1 5 0 21 -2 6 -3 6 -6 7 -3 2M596 2310l-4 0 -1 -3 -1 -15 3 -8 7 -7 10 -8 17 -8 23 -21 12 -8 19 -10 24 -20 11 -5 2 -1 4 2 1 2 1 5 -1 21 -4 9 -6 7 -13 9 -20 8 -16 13 -12 8 -8 4 -17 6 -18 14 -7 4 -6 2M536 2349l-4 0 -1 -3 0 -14 1 -6 2 -4 3 -3 5 -3 4 0 2 2 0 2 0 11 -1 6 -4 7 -7 5M453 2411l-6 0 -2 -2 -1 -3 0 -24 3 -9 9 -11 15 -11 15 -7 4 0 4 1 1 3 1 2 0 17 -1 7 -3 8 -8 9 -10 8 -12 8 -9 4M1845 1509l-6 0 -3 -3 -1 -8 0 -16 4 -9 5 -7 6 -5 6 -1 2 2 2 5 0 17 -1 8 -2 6 -4 5 -3 4 -5 2M1791 1550l-5 1 -4 -1 -4 -2 -2 -3 -1 -6 0 -13 3 -12 8 -14 11 -11 12 -7 5 -1 5 1 2 2 2 2 1 6 0 17 -2 11 -5 8 -7 10 -10 7 -9 5M1746 1571l-4 -2 -2 -5 0 -16 1 -8 4 -7 5 -6 6 -4 5 -1 4 4 1 4 0 15 -1 7 -4 8 -3 4 -6 5 -6 2M1648 1632l-2 0 -2 -1 -2 -4 0 -17 3 -10 5 -5 10 -7 12 -11 6 -3 5 0 2 2 1 4 1 12 -1 10 -3 8 -5 5 -4 4 -14 6 -12 7M1599 1667l-5 1 -2 -1 -3 -3 -1 -16 1 -8 4 -8 7 -8 8 -4 6 -1 2 1 2 4 0 17 -1 7 -3 6 -4 5 -5 5 -6 3M1498 1731l-6 1 -3 -2 -1 -10 1 -14 4 -8 5 -7 6 -3 6 0 2 1 2 5 -1 19 -2 6 -3 5 -5 4 -5 3M934 2100l-6 0 -2 -2 -2 -2 0 -22 2 -10 6 -9 10 -10 12 -6 6 -1 3 1 2 3 2 7 0 17 -3 8 -4 8 -9 9 -9 7 -8 2M762 2207l-3 -1 -1 -4 0 -22 1 -6 3 -4 3 -3 3 -1 3 2 1 4 0 20 -1 4 -3 6 -3 3 -3 2M693 2249l-4 -2 -2 -3 0 -14 2 -7 5 -7 8 -8 8 -5 4 0 2 2 2 6 -1 15 -1 7 -5 6 -6 5 -6 3 -6 2M646 2279l-6 0 -2 -3 0 -14 3 -8 5 -7 10 -8 8 -4 7 0 2 3 1 6 -1 9 -2 6 -4 6 -7 6 -6 5 -8 3M604 2300l-2 0 -1 -2 0 -12 3 -6 6 -3 2 1 1 2 -1 12 -3 4 -5 4M458 2403l-4 -1 -2 -5 0 -17 3 -8 5 -8 10 -7 8 -5 7 0 2 3 1 6 -1 13 -2 8 -5 8 -7 6 -9 6 -6 1M1791 1544l-4 -2 -2 -6 0 -20 2 -8 4 -8 6 -6 7 -5 6 0 4 2 1 6 0 18 -2 9 -4 8 -5 6 -7 4 -6 2M1671 1617l-6 1 -2 -1 -3 -3 -1 -4 1 -10 4 -8 5 -8 5 -5 5 -1 3 2 1 4 -1 20 -1 4 -3 4 -7 5M1653 1617l-1 -5 1 -7 1 1 1 4 0 4 -2 3M1600 1662l-4 1 -2 -1 -1 -3 0 -12 0 -7 3 -6 4 -5 5 -4 5 -1 2 2 1 3 0 19 -2 5 -3 4 -8 5M1498 1725l-2 0 -1 -3 0 -16 1 -5 2 -4 4 -2 2 -1 3 1 1 3 -1 16 -3 8 -6 3M939 2097l-7 1 -4 -1 -1 -3 -1 -18 2 -10 5 -10 9 -9 10 -5 8 -1 3 3 1 5 0 17 -2 8 -4 8 -6 6 -8 7 -5 2M1674 1606l-2 -1 0 -6 0 -7 2 -3 2 1 0 6 0 8 -2 2M938 2096l-4 0 -2 -1 -3 -4 0 -18 2 -9 4 -8 7 -7 9 -5 6 0 3 2 1 4 0 17 -1 7 -3 6 -7 8 -8 6 -4 2M939 2093l-5 -1 -2 -4 0 -16 1 -8 3 -6 6 -7 6 -3 6 -1 3 2 1 5 0 13 -1 7 -3 6 -4 6 -6 5 -5 2M942 2088l-3 0 -1 -2 -1 -2 -1 -14 1 -6 2 -4 3 -5 4 -3 5 0 2 2 1 2 -1 18 -3 8 -5 4 -3 2"/>
<path fill="#ffc4ef" fill-rule="evenodd" stroke="none" d="M1320 1514l-10 1 -10 -3 -8 3 -10 -1 -6 -1 -4 -4 -5 -13 -1 -20 3 -16 6 -8 9 -2 8 -1 8 3 14 -3 9 2 5 4 3 6 2 9 0 24 -4 14 -5 4 -4 2M1524 1514l-12 1 -10 -3 -8 2 -9 0 -6 -1 -5 -4 -5 -12 -1 -18 2 -17 6 -9 9 -3 9 0 8 2 13 -3 9 2 6 4 5 15 0 24 -3 14 -8 6M1618 1590l-16 -3 -14 3 -14 -1 -8 -3 -7 -6 -6 -18 -1 -22 5 -20 9 -10 8 -3 8 -1 20 3 14 -3 12 0 10 3 8 7 5 12 2 14 -1 15 -3 15 -4 9 -5 5 -8 3 -14 1M1596 1607l-12 -2 -4 -3 0 -3 4 -4 4 -1 12 1 4 4 0 3 -3 3 -5 2M1779 1677l-39 1 -12 -3 -9 -4 -10 -11 -5 -12 0 -8 7 -12 5 -6 8 -5 19 -5 36 1 9 2 10 5 7 8 6 10 2 8 -1 6 -6 10 -8 8 -8 5 -11 2M1881 1736l-9 0 -9 -1 -17 1 -7 -2 -5 -4 -3 -11 -1 -19 2 -14 6 -8 10 -3 15 1 12 -1 11 3 4 4 4 7 1 7 -1 24 -4 11 -9 5M1868 1874l-30 0 -6 -3 -5 -5 -3 -18 0 -27 3 -17 3 -4 4 -3 10 -2 22 1 8 4 3 6 4 18 -1 28 -4 16 -4 4 -4 2M566 1911l-6 -1 -10 -5 -10 6 -8 -2 -3 -4 -2 -6 0 -7 3 -6 7 -5 6 1 7 5 11 -6 5 0 3 1 5 8 1 9 -3 8 -6 4M774 1911l-6 -1 -8 -5 -10 6 -4 0 -4 -1 -4 -5 -2 -6 0 -7 3 -6 3 -4 5 -1 13 6 11 -6 7 2 5 7 1 9 -4 9 -6 3M578 2222l-11 -1 -4 -3 -3 -7 -2 -13 1 -29 2 -15 5 -7 8 -1 11 1 3 2 3 7 1 13 0 31 -2 14 -4 6 -8 2M1218 2211l-9 0 -9 -4 -6 -7 -4 -8 0 -11 4 -8 8 -7 8 -3 11 0 7 4 7 8 3 9 0 9 -5 9 -6 6 -9 3M747 2361l-6 1 -11 -3 -3 -7 -1 -10 -1 -28 2 -16 5 -8 9 -2 12 3 3 5 2 11 1 29 -2 14 -4 9 -6 2M1221 2349l-11 1 -10 -4 -8 -6 -5 -10 -1 -12 4 -11 8 -9 10 -3 10 -1 10 4 9 8 4 8 1 11 -3 11 -7 8 -11 5M1216 2435l-7 -1 -3 -6 1 -6 5 -3 6 1 4 4 0 6 -6 5"/>
<path fill="#ffa2e6" fill-rule="evenodd" stroke="none" d="M1314 1508l-8 -2 -6 -6 -10 7 -9 0 -6 -3 -3 -10 -1 -18 2 -10 3 -7 5 -2 9 0 10 7 8 -7 8 0 6 1 3 3 4 12 -1 24 -5 8 -9 3M1518 1508l-8 -1 -8 -7 -10 7 -8 0 -6 -3 -4 -8 -1 -18 2 -12 4 -7 5 -2 8 0 10 7 10 -7 9 0 6 3 4 13 -1 23 -4 8 -8 4M1630 1581l-14 0 -14 -7 -9 6 -6 2 -13 -1 -8 -4 -5 -11 -2 -18 2 -18 5 -11 6 -3 10 -2 11 2 9 6 15 -7 13 0 8 3 4 6 3 9 0 29 -5 13 -4 4 -6 2M1594 1602l-4 0 -2 -2 5 -1 3 1 -2 2M1760 1673l-24 -3 -9 -4 -5 -6 -3 -8 1 -16 3 -8 7 -6 14 -4 28 0 13 3 9 8 2 7 1 12 -2 10 -3 6 -12 6 -20 3M1882 1729l-12 0 -7 -5 -11 5 -8 0 -5 -3 -4 -7 -1 -13 1 -14 4 -7 5 -2 8 0 11 5 6 -4 6 -1 7 0 5 3 4 10 0 18 -3 10 -6 5M1868 1865l-8 0 -8 -3 -7 3 -7 0 -5 -2 -2 -3 -3 -12 -1 -24 3 -12 4 -6 10 -1 8 3 6 -3 8 0 4 1 4 4 3 14 -1 26 -3 10 -5 5M580 2214l-6 1 -8 -2 -4 -5 -1 -9 0 -25 1 -14 4 -5 8 -2 12 3 4 12 -1 37 -3 7 -6 2M1216 2204l-6 -1 -6 -2 -4 -5 -3 -6 1 -8 3 -6 5 -4 6 -2 6 1 6 3 5 6 2 6 -1 6 -3 6 -5 4 -6 2M744 2355l-10 -1 -4 -3 -2 -17 0 -22 2 -11 3 -5 9 -2 11 4 3 8 1 12 -1 19 -2 12 -2 4 -8 2M1218 2342l-8 0 -7 -3 -5 -5 -3 -8 -1 -7 3 -7 6 -7 7 -3 8 0 8 4 5 6 3 7 -1 7 -3 8 -6 5 -6 3"/>
<path fill="none" stroke="#e800c4" stroke-width="1.60" stroke-linejoin="round" d="M1320 1514l-10 1 -10 -3 -8 3 -10 -1 -6 -1 -4 -4 -3 -5 -2 -8 -1 -20 1 -8 2 -8 3 -5 3 -3 5 -2 4 0 8 -1 8 3 8 -2 6 -1 9 2 5 4 3 6 2 9 1 12 -1 12 -1 8 -3 6 -5 4 -4 2M1524 1514l-12 1 -10 -3 -8 2 -9 0 -6 -1 -5 -4 -3 -6 -2 -6 -1 -18 2 -17 2 -4 4 -5 3 -2 6 -1 9 0 8 2 7 -2 6 -1 9 2 6 4 4 7 1 8 1 12 -1 12 -1 8 -2 6 -4 3 -4 3M1618 1590l-16 -3 -14 3 -14 -1 -8 -3 -7 -6 -3 -8 -3 -10 -1 -11 0 -11 2 -12 3 -8 4 -6 5 -4 8 -3 8 -1 10 0 10 3 14 -3 12 0 10 3 4 4 4 3 5 12 2 14 -1 15 -3 15 -4 9 -5 5 -8 3 -14 1M1596 1607l-6 0 -6 -2 -4 -3 0 -3 4 -4 4 -1 6 0 6 1 4 4 0 3 -3 3 -5 2M1779 1677l-17 1 -22 0 -12 -3 -9 -4 -5 -5 -5 -6 -5 -12 -1 -4 1 -4 7 -12 5 -6 8 -5 8 -3 11 -2 23 0 13 1 9 2 10 5 7 8 6 10 2 8 -1 6 -6 10 -8 8 -8 5 -11 2M1881 1736l-9 0 -9 -1 -9 1 -8 0 -7 -2 -5 -4 -2 -5 -1 -6 -1 -19 2 -14 2 -4 4 -4 4 -3 6 0 6 0 9 1 12 -1 11 3 4 4 4 7 1 7 0 14 -1 10 -2 6 -2 5 -4 3 -5 2M1868 1874l-8 1 -8 -1 -7 1 -7 -1 -6 -3 -5 -5 -2 -8 -1 -10 0 -27 1 -9 2 -8 3 -4 4 -3 10 -2 22 1 4 1 4 3 3 6 2 6 2 12 -1 28 -1 8 -3 8 -4 4 -4 2M566 1911l-6 -1 -6 -4 -4 -1 -10 6 -4 0 -4 -2 -3 -4 -2 -6 0 -7 3 -6 3 -4 4 -1 6 1 7 5 4 -1 7 -5 5 0 3 1 3 4 2 4 1 9 -3 8 -4 3 -2 1M774 1911l-6 -1 -8 -5 -2 1 -8 5 -4 0 -4 -1 -4 -5 -2 -6 0 -7 3 -6 3 -4 5 -1 5 1 6 4 2 1 11 -6 5 0 2 2 3 3 2 4 1 9 -1 5 -3 4 -3 2 -3 1M578 2222l-11 -1 -4 -3 -3 -7 -2 -13 1 -29 2 -15 1 -4 4 -3 8 -1 11 1 3 2 3 7 1 13 0 31 -2 14 -4 6 -8 2M1218 2211l-9 0 -9 -4 -6 -7 -4 -8 0 -11 4 -8 8 -7 8 -3 11 0 7 4 7 8 3 9 0 9 -5 9 -6 6 -9 3M747 2361l-6 1 -7 -1 -4 -2 -3 -7 -1 -10 -1 -28 2 -16 2 -5 3 -3 9 -2 12 3 3 5 2 11 1 29 -2 14 -2 6 -2 3 -6 2M1221 2349l-11 1 -10 -4 -8 -6 -3 -4 -2 -6 -1 -6 0 -6 4 -11 4 -5 4 -4 10 -3 10 -1 10 4 9 8 4 8 1 11 -3 11 -7 8 -5 3 -6 2M1216 2435l-4 0 -3 -1 -3 -6 1 -6 5 -3 6 1 4 4 0 6 -2 3 -4 2M1322 1512l-12 1 -10 -3 -8 3 -10 0 -6 -2 -4 -3 -2 -5 -2 -7 -1 -18 2 -16 2 -4 4 -4 5 -2 8 -1 5 0 7 3 8 -3 6 0 9 1 5 4 2 5 2 7 1 11 -1 12 -1 9 -2 6 -3 3 -4 3M1524 1512l-12 1 -10 -3 -8 3 -9 0 -6 -1 -5 -4 -2 -5 -2 -6 -1 -18 2 -15 2 -6 3 -3 3 -3 6 -1 9 0 8 3 7 -3 6 0 7 1 6 3 4 6 2 7 1 12 -1 12 0 6 -3 8 -3 4 -4 2M1632 1587l-16 1 -14 -3 -12 3 -12 0 -9 -2 -6 -4 -4 -6 -3 -8 -1 -10 -1 -12 1 -10 1 -9 3 -7 5 -6 5 -4 7 -2 14 0 12 3 10 -3 8 0 15 2 7 5 4 6 4 12 1 15 -1 15 -2 9 -4 8 -6 5 -6 2M1599 1605l-6 1 -7 -1 -5 -3 0 -3 3 -2 4 -2 10 1 3 2 2 2 -1 4 -3 1M1768 1677l-19 0 -13 -1 -11 -4 -8 -6 -3 -4 -3 -6 -2 -12 1 -6 2 -8 7 -8 6 -4 11 -4 12 -1 19 0 11 1 8 2 8 3 6 5 5 10 2 8 0 10 -5 10 -5 6 -7 5 -11 3 -11 1M1881 1734l-9 1 -9 -3 -9 3 -8 0 -6 -2 -4 -3 -3 -6 -2 -6 0 -18 2 -12 2 -5 3 -3 2 -2 6 -1 8 0 9 2 6 -2 6 0 9 1 6 5 3 6 1 7 0 23 -2 6 -3 5 -3 3 -5 1M1866 1872l-6 1 -8 -2 -7 2 -7 -1 -6 -3 -4 -5 -2 -6 -2 -10 1 -28 3 -14 3 -4 3 -3 10 -2 8 2 8 -2 6 1 6 2 4 6 3 9 1 11 -1 28 -2 8 -3 6 -4 3 -4 1M564 1910l-4 -2 -8 -7 -2 0 -8 8 -5 0 -3 -1 -3 -3 -3 -6 0 -6 3 -6 5 -4 4 0 4 2 6 6 2 0 5 -5 4 -3 5 0 2 1 5 6 1 9 -2 5 -2 3 -3 2 -3 1M747 1910l-3 -1 -3 -2 -2 -3 -2 -5 1 -9 4 -6 4 -1 4 0 4 3 5 5 1 0 6 -6 5 -2 5 0 4 4 3 6 0 6 -3 6 -3 3 -3 1 -4 0 -10 -8 -1 0 -7 7 -5 2M579 2220l-12 0 -3 -2 -4 -7 -1 -12 0 -29 2 -14 1 -4 4 -3 8 -2 11 2 3 2 3 6 1 11 0 28 -1 15 -2 5 -3 3 -7 1M1218 2210l-9 0 -7 -4 -7 -6 -4 -8 0 -10 4 -8 7 -6 8 -4 10 1 7 3 7 7 3 7 0 10 -4 8 -7 7 -8 3M748 2360l-7 1 -9 -2 -4 -5 -2 -10 0 -28 2 -18 2 -4 2 -3 9 -2 9 2 3 1 3 6 2 9 0 27 -1 15 -3 7 -2 3 -4 1M1221 2348l-11 0 -8 -2 -9 -8 -5 -8 -1 -11 4 -11 7 -8 10 -4 10 0 9 3 8 7 5 8 1 11 -4 11 -7 7 -9 5M1218 2433l-3 1 -3 0 -4 -3 -1 -5 1 -4 2 -2 4 0 2 0 5 4 0 4 -3 5M1322 1511l-12 1 -10 -4 -8 3 -8 1 -6 -1 -4 -4 -3 -4 -2 -6 -1 -19 2 -14 2 -5 3 -4 5 -2 8 -1 5 1 7 3 6 -3 6 -1 10 1 4 3 4 6 1 6 0 23 -1 9 -2 4 -2 4 -4 3M1524 1511l-12 1 -10 -4 -8 3 -9 1 -6 -2 -3 -2 -4 -6 -1 -6 -1 -20 2 -14 3 -4 3 -3 4 -2 9 -1 5 1 6 3 8 -3 6 -1 8 1 4 4 3 4 2 9 1 21 -1 7 -2 6 -4 5 -3 2M1632 1586l-16 0 -14 -4 -12 4 -12 0 -8 -1 -6 -4 -3 -5 -3 -7 -2 -11 0 -12 0 -10 2 -9 3 -7 3 -5 6 -4 6 -1 14 0 12 4 10 -4 8 -1 14 2 7 4 4 6 3 11 1 13 0 15 -2 10 -4 8 -5 5 -6 3M1596 1605l-6 1 -4 -2 -3 -2 0 -3 3 -2 4 -1 4 0 5 1 2 2 0 3 -5 3M1773 1676l-21 0 -14 -1 -10 -3 -8 -6 -4 -4 -2 -6 -2 -12 2 -12 3 -4 3 -5 6 -4 8 -3 9 -2 15 0 15 0 9 2 8 3 6 4 5 7 3 10 0 10 -3 9 -3 6 -7 6 -7 3 -11 2M1882 1733l-10 0 -9 -3 -9 3 -8 0 -6 -1 -3 -2 -3 -5 -2 -6 0 -17 1 -13 2 -5 3 -3 4 -2 4 -1 8 0 9 3 6 -2 6 -1 7 1 6 4 3 5 2 6 0 12 0 12 -2 6 -2 4 -2 2 -5 3M1864 1871l-6 0 -6 -2 -8 2 -8 -1 -4 -2 -4 -6 -2 -6 -1 -11 1 -27 3 -12 3 -4 2 -2 8 -1 10 2 8 -2 6 1 6 2 4 6 2 6 1 12 0 18 -1 12 -2 6 -2 4 -5 4 -5 1M542 1907l-5 0 -3 -1 -2 -2 -2 -5 0 -5 1 -4 3 -4 3 -1 3 0 4 2 2 3 2 4 -1 6 -5 7M567 1907l-3 0 -4 -1 -4 -4 -2 -4 0 -4 2 -4 4 -4 2 -1 4 0 2 1 4 7 0 8 -2 3 -3 3M750 1907l-4 0 -4 -1 -3 -7 0 -5 1 -4 2 -4 4 -1 2 0 5 2 2 3 2 4 0 4 -2 4 -5 5M776 1907l-5 0 -3 -1 -3 -4 -2 -4 1 -5 2 -5 4 -3 2 0 4 0 2 2 3 7 -1 8 -2 3 -2 2M580 2219l-6 0 -8 -1 -4 -3 -2 -7 -1 -18 1 -27 2 -10 2 -2 3 -1 9 -1 9 1 3 2 3 8 1 24 -1 24 -2 6 -2 3 -2 1 -5 1M1220 2208l-10 0 -7 -2 -6 -6 -4 -7 -1 -9 3 -8 7 -7 7 -3 9 0 8 3 6 6 3 7 0 10 -3 7 -5 5 -7 4M742 2360l-10 -3 -3 -3 -2 -11 -1 -18 1 -18 2 -11 3 -3 10 -3 10 2 3 4 2 10 1 19 -1 19 -2 10 -3 4 -10 2M1221 2346l-11 1 -8 -3 -8 -7 -4 -7 -1 -11 3 -9 6 -8 10 -4 10 -1 9 3 7 7 4 9 1 9 -3 9 -6 7 -9 5M1215 2433l-5 -1 -2 -4 0 -2 1 -3 5 -2 2 0 3 1 1 5 -1 5 -4 1M1322 1509l-12 1 -10 -5 -8 5 -10 0 -4 -1 -4 -3 -2 -4 -2 -6 -1 -18 2 -14 4 -7 5 -3 8 0 5 1 7 4 8 -5 6 0 8 1 4 3 2 4 2 8 0 22 -2 12 -3 4 -3 1M1524 1509l-4 1 -8 0 -10 -5 -8 5 -9 0 -5 -1 -4 -3 -2 -4 -2 -6 -1 -18 2 -12 1 -6 4 -4 4 -2 9 0 5 1 6 4 8 -5 6 0 8 1 4 3 3 4 1 8 1 21 -3 12 -3 4 -3 2M1630 1584l-14 1 -14 -6 -12 5 -12 1 -8 -2 -6 -4 -3 -5 -2 -6 -2 -10 0 -12 0 -10 2 -9 2 -6 4 -5 5 -3 6 -2 14 1 12 5 10 -5 8 -1 14 1 6 4 4 6 3 10 1 13 -1 17 -2 10 -3 6 -6 4 -6 2M1598 1604l-5 1 -5 -1 -2 -1 -2 -3 2 -2 2 -1 8 0 3 2 1 1 0 2 -2 2M1774 1674l-19 1 -15 -1 -10 -3 -8 -5 -5 -7 -2 -12 1 -13 2 -5 3 -5 5 -4 6 -2 8 -2 12 -1 26 1 8 3 7 4 5 6 3 7 0 12 -1 10 -4 6 -5 5 -7 3 -10 2M1882 1731l-10 1 -9 -4 -9 4 -8 0 -6 -1 -2 -3 -4 -8 -2 -14 2 -16 4 -7 4 -3 8 0 6 0 6 3 12 -3 8 1 5 2 3 5 2 6 0 20 -1 8 -2 4 -3 4 -4 1M1862 1869l-10 -2 -8 2 -8 -1 -4 -2 -3 -4 -3 -14 0 -27 3 -12 3 -5 2 -2 10 -1 8 2 8 -2 6 0 6 3 3 5 2 7 1 11 0 17 -1 12 -2 6 -3 4 -4 2 -6 1M538 1905l-4 -2 -2 -3 -1 -4 1 -4 2 -3 4 -2 4 1 1 2 2 6 -2 6 -1 2 -4 1M564 1905l-3 -1 -2 -2 -2 -6 2 -6 2 -2 3 -1 4 2 3 7 -3 7 -4 2M747 1905l-5 -2 -2 -7 2 -7 5 -2 3 1 2 2 2 6 -2 6 -2 2 -3 1M772 1905l-2 -1 -2 -2 -2 -6 2 -6 2 -2 2 -1 5 2 2 3 1 4 -1 4 -2 3 -5 2M582 2217l-8 1 -8 -2 -3 -2 -2 -4 -1 -16 0 -28 2 -11 2 -2 3 -2 9 -1 9 1 3 3 2 6 1 18 0 27 -3 9 -3 3 -3 0M1218 2207l-8 0 -7 -3 -5 -5 -4 -7 0 -8 3 -8 6 -6 7 -3 8 0 8 3 4 5 4 7 0 8 -3 8 -5 6 -8 3M744 2358l-3 0 -7 -1 -4 -2 -2 -7 -1 -14 0 -24 2 -12 3 -4 10 -2 10 2 2 2 2 8 1 12 0 22 -2 12 -1 4 -2 2 -8 2M1220 2345l-10 0 -8 -3 -7 -6 -4 -8 0 -9 3 -9 6 -7 9 -4 9 0 8 3 6 5 5 9 0 9 -3 9 -6 6 -8 5M1216 2432l-4 0 -3 -3 0 -4 3 -3 4 0 3 4 0 2 -3 4M1322 1508l-5 1 -7 0 -5 -2 -5 -4 -1 0 -6 5 -5 1 -8 -1 -5 -3 -2 -3 -2 -6 -1 -17 2 -13 4 -8 5 -3 9 0 3 1 6 5 1 0 6 -5 6 -1 8 1 4 2 3 4 2 8 1 20 -3 12 -3 4 -2 2M1515 1509l-6 -1 -6 -5 -1 0 -6 5 -6 1 -10 -1 -4 -4 -2 -6 -2 -6 0 -18 2 -10 2 -4 3 -3 5 -2 8 0 5 2 5 4 8 -5 8 -1 6 1 4 4 2 6 2 8 0 16 -1 8 -3 6 -2 3 -5 2 -6 0M1630 1583l-14 0 -14 -6 -10 5 -14 1 -8 -1 -5 -4 -3 -4 -2 -8 -2 -21 1 -11 1 -7 3 -6 3 -4 8 -3 12 -1 7 1 7 5 4 0 8 -5 10 -1 12 1 6 4 3 6 3 9 1 13 -1 16 -1 7 -4 7 -5 5 -6 2M1594 1604l-6 -1 -2 -1 0 -2 1 -1 3 -1 6 1 2 1 0 2 -4 2M1776 1673l-14 1 -19 -1 -11 -2 -7 -5 -6 -7 -2 -11 1 -13 4 -9 4 -4 6 -3 8 -2 9 -1 27 1 9 3 6 3 5 6 2 6 1 11 -1 10 -3 6 -4 5 -6 3 -9 3M1882 1730l-10 0 -9 -4 -9 4 -8 1 -6 -2 -2 -2 -2 -3 -2 -6 -1 -16 1 -10 4 -8 4 -2 8 -1 6 1 7 4 6 -4 5 -1 8 1 5 3 3 4 1 6 0 21 -3 9 -2 4 -4 1M1869 1866l-9 1 -8 -3 -7 3 -7 0 -5 -2 -3 -3 -2 -6 -1 -8 0 -24 2 -14 3 -4 2 -2 10 -1 8 3 6 -3 8 0 4 2 4 4 2 6 1 7 0 26 -2 12 -3 4 -3 2M540 1901l-3 0 -1 -1 -2 -2 1 -5 2 -2 3 0 2 3 0 5 -2 2M566 1901l-4 0 -2 -3 0 -5 4 -3 2 2 2 2 -1 5 -1 2M748 1901l-2 0 -3 -3 1 -5 3 -3 3 2 1 2 0 5 -3 2M774 1901l-3 0 -2 -3 0 -5 3 -3 4 2 1 2 -1 5 -2 2M580 2216l-6 0 -8 -1 -4 -5 -2 -10 0 -28 2 -14 4 -5 8 -1 10 1 2 1 3 4 2 10 0 25 -1 13 -4 8 -6 2M1218 2205l-8 0 -6 -2 -5 -5 -3 -6 0 -8 2 -7 5 -5 7 -3 8 0 6 2 5 5 3 8 0 8 -3 6 -5 5 -6 2M744 2357l-3 0 -7 -2 -4 -2 -2 -7 -1 -14 0 -20 2 -12 3 -4 10 -3 10 2 2 3 2 8 1 10 0 21 -2 12 -3 6 -8 2M1218 2343l-9 0 -7 -3 -6 -6 -3 -8 0 -8 3 -8 6 -6 8 -3 8 0 8 3 6 6 3 8 0 8 -3 8 -6 6 -8 3M1215 2430l-3 0 -2 -2 1 -2 3 -3 2 1 2 3 -2 3 -1 0M1322 1506l-5 1 -7 0 -5 -2 -5 -5 -1 0 -5 5 -4 2 -9 0 -5 -3 -2 -3 -2 -5 -1 -17 2 -13 3 -7 5 -2 9 0 4 2 5 5 1 0 5 -5 5 -2 8 0 4 1 2 2 3 4 1 6 1 20 -2 10 -3 4 -2 2M1524 1506l-6 1 -8 0 -2 -2 -5 -5 -1 0 -5 5 -5 2 -8 0 -4 -1 -2 -2 -4 -8 -1 -14 1 -14 4 -8 2 -2 4 -1 8 0 5 2 5 5 1 0 5 -5 4 -2 9 0 5 3 3 4 1 6 1 18 -2 12 -2 4 -3 2M1629 1581l-9 1 -6 -1 -4 -3 -6 -4 -2 0 -9 6 -6 1 -13 0 -5 -2 -3 -3 -3 -4 -2 -6 -2 -18 2 -18 2 -6 3 -5 6 -3 10 -2 6 1 5 1 9 6 3 -1 6 -4 6 -2 13 0 8 4 4 5 3 9 0 12 0 17 -2 7 -3 7 -5 3 -6 2M1594 1602l-4 0 -1 -2 4 -1 2 1 -1 2M1778 1671l-12 1 -22 0 -10 -2 -8 -4 -5 -7 -2 -11 1 -13 2 -5 3 -4 5 -4 6 -2 16 -2 24 1 8 2 6 3 4 5 2 7 1 11 -1 9 -3 6 -3 4 -5 3 -7 2M1882 1728l-7 1 -5 0 -7 -6 -1 1 -6 4 -4 1 -8 0 -5 -3 -2 -2 -2 -5 -1 -13 1 -14 4 -7 5 -2 8 0 4 1 6 4 1 0 6 -4 6 -1 7 1 4 2 3 4 1 6 1 18 -3 10 -2 3 -4 1M1868 1865l-8 0 -8 -3 -7 3 -7 0 -5 -2 -2 -3 -3 -12 0 -24 2 -12 2 -3 2 -3 10 -1 8 3 6 -3 8 0 4 2 4 3 2 6 0 8 0 26 -3 10 -3 3 -2 2M580 2214l-6 1 -8 -2 -4 -5 -1 -8 0 -25 1 -15 4 -5 8 -2 10 1 2 2 3 4 1 8 0 24 -1 13 -3 7 -1 1 -5 1M1216 2204l-6 -1 -6 -2 -4 -5 -2 -6 0 -8 3 -6 5 -4 6 -2 6 1 6 3 5 6 2 6 -1 6 -3 5 -5 4 -6 3M744 2355l-3 1 -9 -4 -3 -6 -1 -12 0 -22 2 -11 2 -3 2 -1 8 -3 10 3 1 2 2 7 1 12 0 19 -2 11 -2 5 -8 2M1216 2342l-7 -1 -7 -4 -5 -5 -3 -7 1 -7 3 -8 6 -5 8 -3 8 1 7 4 5 6 2 7 -1 8 -3 6 -6 5 -8 3M1320 1505l-8 1 -4 -1 -3 -3 -5 -6 -1 0 -5 7 -4 2 -9 0 -5 -2 -3 -7 -1 -14 1 -14 3 -7 5 -2 9 0 4 2 5 7 1 0 5 -6 5 -3 8 0 5 2 3 4 1 5 1 20 -2 10 -3 3 -3 2M1522 1505l-7 1 -5 -1 -4 -3 -3 -6 -1 0 -5 6 -5 3 -8 0 -5 -2 -4 -7 -1 -16 1 -13 4 -6 5 -2 8 0 5 3 5 6 1 0 5 -7 4 -2 9 0 5 2 2 3 1 6 1 20 -2 10 -2 3 -4 2M1628 1580l-8 0 -6 -1 -4 -3 -6 -6 -2 0 -8 7 -6 2 -13 0 -5 -1 -2 -2 -4 -4 -2 -6 -1 -15 1 -19 2 -6 3 -5 3 -3 5 -1 13 0 6 2 8 7 2 0 7 -7 6 -2 13 0 5 1 3 3 4 6 2 7 0 16 -1 13 -2 7 -3 5 -4 3 -6 2M1764 1671l-16 0 -10 -1 -7 -3 -6 -5 -2 -4 -1 -5 -1 -13 3 -10 5 -6 7 -3 7 -1 24 -1 13 2 6 3 4 4 3 6 2 7 -1 12 -2 7 -4 5 -6 3 -8 2 -10 1M1882 1727l-7 1 -5 -1 -2 -2 -5 -5 -1 1 -5 4 -5 2 -8 0 -4 -2 -4 -6 -1 -11 1 -13 3 -8 5 -2 8 -1 4 2 6 5 1 1 5 -5 4 -2 9 0 5 2 2 3 1 5 1 18 -2 9 -2 3 -4 2M1866 1863l-8 0 -6 -4 -7 4 -7 0 -4 -1 -2 -3 -3 -11 -1 -22 2 -12 4 -6 4 -1 6 0 8 4 6 -4 8 0 4 2 3 3 2 6 1 8 -1 24 -3 10 -3 2 -3 1M578 2213l-4 0 -8 -2 -4 -6 -1 -9 0 -22 2 -12 3 -5 8 -2 10 1 2 2 3 6 1 10 0 20 -2 12 -3 5 -7 2M1220 2201l-5 1 -6 -1 -5 -3 -3 -5 -2 -6 2 -6 3 -5 5 -3 6 -1 6 2 5 4 2 4 1 6 -2 5 -3 5 -4 3M744 2354l-3 0 -9 -4 -3 -6 -1 -12 0 -19 2 -11 4 -3 8 -3 8 2 3 3 2 6 1 11 0 18 -2 10 -2 5 -8 3M1220 2339l-8 0 -6 -1 -5 -4 -4 -6 -1 -8 2 -6 5 -6 6 -3 7 0 6 2 6 5 3 6 0 7 -2 6 -4 5 -5 3M1290 1504l-8 0 -4 -2 -3 -4 -1 -4 -1 -12 1 -12 2 -7 5 -2 7 -1 5 2 3 5 2 6 2 9 -2 10 -3 8 -5 4M1320 1503l-8 1 -4 -1 -4 -5 -3 -8 0 -11 2 -9 3 -8 5 -2 6 0 5 2 2 3 2 5 1 12 -1 12 -2 6 -4 3M1492 1503l-7 1 -5 -2 -2 -3 -2 -5 -1 -12 1 -12 3 -7 5 -3 7 0 5 2 2 5 3 7 0 11 -1 9 -3 6 -5 3M1522 1503l-7 1 -5 -1 -4 -5 -2 -7 -2 -9 2 -10 3 -8 5 -4 6 0 4 1 4 2 2 5 1 10 0 14 -3 8 -4 3M1632 1577l-10 1 -8 -1 -4 -3 -6 -9 -2 0 -7 9 -5 3 -4 1 -10 0 -7 -3 -5 -7 -2 -14 1 -20 1 -6 4 -5 2 -3 5 -1 13 0 6 3 8 9 2 0 6 -9 6 -3 13 0 5 1 2 2 4 5 2 6 1 9 0 15 -1 7 -3 6 -3 4 -4 3M1766 1670l-24 -1 -8 -3 -6 -4 -4 -8 0 -13 1 -9 5 -6 6 -3 7 -2 24 -1 13 3 5 2 4 4 3 6 0 6 0 11 -2 7 -4 5 -6 3 -6 2 -8 1M1882 1725l-7 1 -5 -1 -3 -3 -4 -8 -1 1 -4 7 -4 3 -9 1 -5 -2 -3 -5 -1 -9 1 -14 3 -7 2 -2 3 -1 9 1 3 2 5 8 1 1 4 -8 3 -3 8 -1 6 2 2 2 2 5 1 15 -2 10 -1 3 -4 2M1868 1861l-8 0 -8 -5 -1 0 -5 4 -4 1 -6 -1 -4 -3 -3 -11 0 -19 2 -11 3 -6 4 -1 6 0 8 5 6 -4 6 -1 5 1 3 3 3 11 0 22 -3 11 -4 4M580 2210l-6 1 -8 -3 -2 -3 -2 -6 0 -23 1 -12 3 -4 8 -3 11 2 2 4 2 6 0 21 -1 12 -2 6 -6 2M1215 2199l-5 0 -4 -3 -3 -4 -1 -5 1 -5 3 -4 3 -2 5 -1 4 0 4 3 3 4 1 5 -1 5 -3 4 -2 2 -5 1M742 2352l-8 -3 -3 -3 -2 -8 0 -13 0 -13 2 -8 3 -3 8 -3 9 3 2 3 2 8 0 13 0 13 -2 8 -2 3 -9 3M1215 2337l-6 -1 -5 -2 -3 -4 -2 -6 1 -6 3 -6 5 -4 6 -1 6 1 5 4 3 4 1 6 -1 6 -3 4 -4 4 -6 1M1288 1502l-6 0 -3 -2 -3 -3 -1 -6 -1 -13 1 -8 3 -6 4 -2 6 0 4 1 2 4 2 6 1 12 -1 9 -3 5 -5 3M1317 1502l-6 0 -3 -2 -2 -3 -2 -6 -1 -12 1 -9 2 -5 5 -3 6 0 5 2 2 3 1 6 1 13 -2 9 -2 5 -5 2M1491 1502l-6 0 -4 -2 -3 -3 -1 -5 -1 -13 1 -9 2 -4 5 -3 6 -1 4 2 2 3 2 5 1 10 -1 10 -2 7 -5 3M1520 1502l-6 0 -4 -1 -2 -4 -2 -6 -1 -12 1 -9 3 -5 5 -3 6 0 3 2 3 3 1 6 1 13 -1 8 -3 6 -4 2M1588 1575l-10 1 -6 -2 -4 -4 -3 -7 -2 -15 2 -15 1 -5 3 -4 6 -3 12 0 6 2 5 7 3 10 1 12 -3 12 -5 7 -6 4M1630 1575l-12 1 -6 -3 -4 -5 -4 -11 -1 -11 3 -13 5 -9 6 -3 11 -1 6 2 4 5 2 6 2 15 -2 15 -4 8 -6 4M1764 1668l-14 0 -8 -1 -8 -3 -4 -4 -4 -7 0 -13 2 -8 4 -5 6 -3 6 -1 23 -1 12 2 5 3 2 3 3 5 1 7 0 11 -3 6 -3 4 -5 3 -6 1 -9 1M1852 1724l-6 0 -4 -1 -2 -3 -2 -4 -1 -12 1 -9 2 -4 5 -3 6 0 3 1 3 3 2 6 1 10 -1 8 -2 4 -5 4M1881 1724l-6 0 -5 -1 -2 -3 -2 -6 -1 -7 1 -9 2 -6 4 -4 6 0 4 1 3 3 2 3 1 9 -1 12 -2 4 -4 4M1863 1859l-5 -1 -6 -7 -1 0 -5 6 -2 1 -8 0 -3 -3 -3 -10 0 -19 2 -10 4 -4 6 -1 3 1 6 7 1 0 5 -5 3 -2 8 0 3 3 2 5 1 6 -1 22 -3 8 -2 2 -5 1M578 2208l-4 0 -8 -3 -2 -3 -1 -8 0 -18 1 -10 3 -4 7 -2 11 2 2 4 1 8 0 19 -1 9 -2 4 -7 2M1215 2196l-5 0 -2 -2 -3 -4 0 -3 0 -3 3 -4 2 -2 4 0 4 1 3 2 2 6 -2 6 -3 2 -3 1M744 2349l-3 1 -9 -5 -2 -5 0 -8 0 -16 1 -9 3 -3 8 -4 10 5 2 5 0 9 0 15 -1 9 -1 2 -8 4M1215 2334l-5 0 -4 -3 -3 -5 -1 -4 1 -4 3 -5 3 -2 5 -1 4 0 4 3 3 5 1 4 -1 4 -3 5 -2 2 -5 1M1290 1499l-3 0 -6 0 -3 -3 -2 -4 0 -10 0 -10 3 -5 3 -2 8 1 3 2 1 5 1 9 -1 9 -1 5 -3 3M1318 1499l-6 0 -2 -1 -3 -2 -1 -5 -1 -9 1 -9 2 -6 3 -2 6 0 3 1 3 6 1 7 0 12 -2 6 -4 2M1491 1499l-6 0 -3 -1 -2 -2 -2 -5 0 -12 1 -7 2 -5 4 -2 5 0 2 1 3 2 1 5 1 9 -1 9 -2 6 -3 2M1521 1499l-6 0 -3 0 -3 -3 -1 -5 -1 -9 1 -9 2 -6 4 -2 7 1 3 2 2 4 0 7 0 12 -2 5 -3 3M1590 1572l-6 1 -10 -1 -5 -3 -3 -6 -1 -12 1 -17 3 -7 3 -2 3 -2 9 0 6 1 4 3 3 6 1 11 0 14 -3 10 -5 4M1630 1573l-8 0 -6 -1 -5 -3 -3 -7 -1 -11 1 -15 3 -9 3 -2 3 -2 9 0 6 1 4 4 3 5 1 12 -1 17 -3 7 -6 4M1773 1665l-9 1 -16 0 -8 -2 -6 -3 -4 -5 -2 -8 1 -10 3 -8 4 -2 4 -2 12 -2 20 0 6 2 4 3 4 5 1 4 0 15 -2 5 -2 2 -4 3 -6 2M1852 1721l-4 1 -4 -1 -4 -3 -1 -4 0 -16 2 -4 4 -3 7 0 4 2 1 3 1 6 0 11 -2 6 -4 2M1881 1721l-6 1 -3 -1 -3 -3 -1 -4 -1 -7 1 -9 1 -4 5 -3 7 0 3 2 2 4 0 7 0 10 -2 5 -3 2M1845 1854l-3 1 -6 -1 -3 -3 -1 -5 -1 -10 1 -12 2 -6 4 -3 6 0 2 1 3 5 1 6 0 17 -2 6 -3 4M1868 1855l-6 0 -4 -1 -3 -6 -2 -8 0 -10 2 -8 3 -6 4 -1 4 0 3 1 3 8 0 22 -2 5 -2 4M578 2205l-4 0 -7 -3 -2 -4 -1 -8 0 -16 2 -7 1 -1 9 -3 9 4 1 3 1 8 0 14 -1 7 -2 3 -6 3M1214 2192l-3 -2 -1 -3 1 -3 4 -1 3 2 0 3 -2 3 -2 1M744 2347l-3 0 -7 -5 -2 -4 -1 -7 0 -13 1 -8 2 -2 6 -4 2 -1 10 6 1 10 0 15 -1 6 -2 3 -6 4M1216 2330l-6 -1 -2 -2 -2 -3 0 -4 1 -2 5 -4 6 1 3 3 1 2 -1 6 -5 4M1287 1496l-6 -2 -2 -2 -1 -4 0 -9 1 -6 2 -3 3 -1 3 -1 3 2 2 2 1 4 0 9 -1 6 -2 3 -3 2M1314 1496l-3 -1 -2 -3 -2 -4 0 -6 0 -6 2 -4 2 -3 3 -1 4 1 3 3 1 4 0 6 0 6 -1 4 -3 3 -4 1M1488 1496l-4 -1 -3 -3 -1 -4 0 -6 0 -6 1 -4 3 -3 4 -1 3 1 2 3 2 4 0 6 0 6 -2 4 -2 3 -3 1M1516 1496l-2 -1 -3 -3 -2 -7 1 -12 2 -3 3 -2 5 1 2 1 1 3 1 5 0 10 -1 4 -2 3 -5 1M1588 1570l-6 0 -7 0 -5 -4 -2 -4 -1 -11 1 -14 2 -7 5 -4 7 0 6 0 5 4 2 4 1 11 -1 13 -2 7 -5 5M1630 1569l-7 1 -6 0 -5 -4 -2 -4 -1 -11 1 -13 2 -8 5 -4 6 0 7 1 5 3 2 4 1 10 0 14 -3 8 -5 3M1770 1664l-22 0 -8 -2 -4 -3 -3 -5 -2 -7 1 -9 3 -6 7 -4 10 -2 18 0 6 2 4 2 2 4 2 4 1 9 -1 6 -2 5 -3 2 -9 4M1851 1718l-5 0 -2 -1 -3 -5 1 -14 2 -3 2 -1 6 1 3 5 0 13 -1 3 -3 2M1880 1718l-6 0 -3 -2 -1 -3 0 -13 1 -4 3 -2 4 0 3 1 3 5 0 13 -2 3 -2 2M1844 1850l-5 1 -3 -1 -2 -6 0 -18 2 -5 3 -2 3 0 3 2 2 6 0 17 -1 4 -2 2M1868 1850l-5 1 -3 -1 -3 -6 0 -18 1 -4 4 -3 6 1 2 6 0 16 -1 6 -1 2M576 2201l-3 -1 -6 -5 -1 -11 1 -11 6 -5 3 -1 8 7 1 3 0 7 0 7 -1 3 -8 7M742 2344l-2 -2 -6 -8 -1 -9 1 -9 6 -8 2 -2 8 8 1 11 -1 11 -8 8M1314 1483l0 -2 0 2M1488 1483l0 -2 0 2M1516 1483l0 -1 0 -1 0 2M1587 1566l-5 1 -6 -1 -3 -2 -3 -4 -1 -9 1 -12 2 -6 4 -3 6 -1 5 1 4 3 2 5 0 7 0 12 -2 6 -4 3M1628 1566l-6 1 -5 -1 -3 -3 -2 -5 0 -10 0 -10 2 -5 4 -3 8 -1 4 2 4 3 1 4 1 10 -1 10 -3 6 -4 2M1770 1661l-8 1 -13 -1 -6 -1 -4 -2 -3 -5 -1 -6 1 -8 2 -5 6 -4 10 -2 14 1 8 3 3 3 2 5 -1 12 -3 6 -7 3M576 2188l-1 -4 1 -4 0 8M742 2338l-1 0 -1 -3 -1 -10 1 -10 1 -3 1 0 3 4 0 9 0 9 -3 4M1584 1560l-4 0 -4 -1 -2 -5 0 -8 0 -6 2 -3 4 -1 6 0 2 3 1 3 0 14 -2 3 -3 1M1624 1560l-2 0 -4 -1 -1 -2 -1 -5 0 -12 2 -3 4 -1 4 0 3 2 2 6 -1 12 -1 2 -5 2M1764 1658l-14 -1 -4 -1 -3 -2 -2 -4 -1 -4 1 -6 2 -4 6 -3 9 -1 9 1 6 3 2 5 0 11 -5 4 -6 2"/>
</g></g>
<defs><clipPath id="clipC"><rect x="454" y="2556" width="1507" height="994"/></clipPath><filter id="softC" x="-5%" y="-5%" width="110%" height="110%"><feGaussianBlur stdDeviation="1.20"/></filter></defs>
<g clip-path="url(#clipC)"><g filter="url(#softC)">
<path fill="#c4c4f2" fill-rule="evenodd" stroke="none" d="M578 3560l-135 0 0 -114 1 -32 96 -39 51 -17 41 -21 48 -20 41 -23 29 -16 6 -6 -5 -15 -1 -23 2 -12 6 -6 8 -5 16 -2 74 -2 4 -3 8 -20 11 -8 3 -4 2 -65 -1 -48 2 -103 0 -56 1 -20 -2 -37 2 -127 0 -32 -2 -26 1 -54 -1 -26 1 -23 4 -9 8 0 2 4 3 24 -1 30 1 54 -2 26 0 32 2 127 -2 37 1 20 0 56 2 102 -1 50 1 62 1 6 2 1 4 -1 26 -17 27 -13 2 -4 -2 -16 3 -6 3 6 -1 16 4 1 9 -3 45 -32 86 -67 43 -29 45 -18 39 -29 49 -26 41 -18 18 -12 5 0 22 -13 88 -75 104 -69 6 -10 23 -8 85 -53 104 -81 66 -40 44 -14 53 -1 24 0 1 1 -1 61 -121 85 -65 39 -23 10 -1 1 18 7 1 4 -3 3 -9 3 -13 1 -31 -5 -35 6 -4 4 -2 5 -1 30 -313 194 -7 6 -1 6 3 5 14 8 7 7 0 8 -6 7 -11 5 -18 3 -4 3 -34 -7 -8 -5 -8 -9 -24 7 -50 22 -109 53 -87 57 -53 30 -5 6 2 16 -2 8 -2 3 -4 -7 1 -17 -1 -2 -6 2 -21 12 -20 21 -4 32 -7 26 -2 44 0 195 -2 11 -4 7 -5 0 -3 -3 -4 -14 0 -194 -2 -40 -3 -8 -11 -4 -8 5 -47 46 -90 47 -45 17 -46 15 -41 26 -15 12 -8 10 0 4 24 18 8 -1 14 -10 8 -5 16 -2 7 3 7 4 14 16 15 -5 9 1 5 5 2 8 -1 7 -8 6 -6 2 -12 -3 -2 1 -10 18 -6 6 -7 4 -15 3 -26 -5 -26 13M532 2654l-4 -1 -4 -3 -3 -12 3 -12 4 -5 4 -1 5 2 3 4 3 12 -3 11 -3 3 -5 2M566 2654l-5 -1 -4 -3 -3 -12 3 -12 4 -5 5 -1 4 2 3 4 3 12 -3 11 -3 3 -4 2M1640 2664l-5 -1 -4 -7 2 -8 5 -4 4 2 3 6 -2 8 -3 4M1524 2741l-3 0 -4 -3 -3 -10 2 -11 6 -4 6 3 4 10 -2 10 -6 5M1688 2864l-5 1 -5 -3 -3 -6 -2 -7 2 -13 8 -14 10 10 2 11 -1 12 -3 6 -3 3M1218 2968l-9 0 -7 -3 -8 -5 -4 -8 -1 -7 3 -7 5 -6 7 -4 10 -2 8 2 9 5 5 7 1 10 -4 8 -6 6 -9 4M742 2998l-4 -2 -3 -3 -3 -13 3 -13 3 -3 4 -2 4 1 3 5 3 12 -2 12 -3 4 -5 2M776 2998l-5 -2 -3 -3 -3 -13 3 -13 3 -3 5 -2 2 1 4 5 3 12 -2 12 -3 4 -4 2M966 3005l-2 -3 -1 -8 1 -6 2 -3 2 3 1 6 -1 8 -2 3M1333 3006l7 -6 -5 2 -5 4 3 0M966 3050l-2 -3 -1 -7 1 -6 2 -4 2 4 1 6 -1 7 -2 3M966 3095l-2 -3 -1 -8 1 -6 2 -3 2 3 1 6 -1 8 -2 3M1233 3139l-7 1 -6 -2 -4 -2 -1 -5 4 -3 5 -2 10 2 4 3 1 3 -6 5M1236 3176l-14 -1 -4 -3 0 -4 3 -2 6 -2 12 1 5 3 0 4 -8 4M1270 3269l-8 1 -10 -5 -6 -9 -4 -14 1 -14 4 -12 7 -8 9 -4 7 1 9 5 5 10 4 12 -1 12 -2 10 -7 10 -8 5M540 3338l-8 1 -8 -5 -6 -10 -2 -10 0 -10 4 -10 6 -8 8 -3 8 1 6 4 5 8 3 10 0 11 -4 11 -4 6 -8 4M1317 3346l-7 -1 -11 -7 -11 7 -7 1 -6 -3 -4 -5 -5 -12 -1 -16 5 -16 6 -8 5 -2 5 0 13 8 11 -7 6 -1 6 3 4 5 5 14 0 17 -5 15 -4 5 -5 3M1874 3478l-8 0 -12 -5 -12 5 -6 0 -6 -2 -5 -6 -6 -15 -1 -17 4 -13 8 -11 4 -2 6 0 14 5 10 -5 6 0 6 2 6 6 6 16 0 19 -6 15 -8 8M776 3470l-6 1 -6 -3 -4 -6 -3 -10 0 -10 3 -11 4 -5 6 -4 4 1 5 3 5 8 1 8 1 8 -2 10 -4 6 -4 4M966 3455l-2 -3 -1 -8 1 -6 2 -3 2 3 1 6 -1 8 -2 3M966 3545l-2 -3 -1 -8 1 -6 2 -3 2 3 1 6 -1 8 -2 3"/>
<path fill="#a4a4ea" fill-rule="evenodd" stroke="none" d="M446 3556l-2 1 -1 -25 1 -105 27 -16 29 -14 60 -24 34 -10 38 -21 46 -19 54 -29 27 -16 7 -6 0 -4 -6 -11 -1 -9 1 -20 5 -8 9 -5 12 -2 70 -1 6 -6 9 -18 13 -8 2 -10 2 -63 -1 -49 4 -132 -2 -26 3 -11 4 3 1 8 -2 26 4 130 -1 38 2 78 2 8 2 2 13 -6 21 -14 43 -18 46 -31 86 -69 42 -28 45 -18 86 -52 38 -16 23 -15 29 -14 55 -47 31 -30 11 -7 55 -35 23 -18 18 -12 7 -9 22 -7 36 -24 34 -18 102 -78 51 -33 29 -16 61 -21 36 -1 25 1 -1 51 -25 20 -34 21 -28 22 -44 31 -56 34 -47 20 -48 10 -19 9 -7 7 -1 21 -5 12 -12 14 -19 14 -68 42 -32 16 -36 26 -24 14 -60 29 -8 1 -8 -2 -4 1 -66 43 -32 23 -38 13 -38 22 -100 49 -98 63 -76 43 -17 14 -6 7 -4 8 -3 25 -7 21 -1 10 -2 35 0 77 2 49 -2 77 -1 7 -3 4 -4 -2 -2 -9 -2 -77 2 -49 0 -77 -1 -30 -3 -12 -4 -3 -8 -2 -8 2 -14 9 -36 33 -48 32 -60 29 -74 26 -35 18 -55 45 -30 35 -42 26 -24 13M892 2678l-4 -14 -1 -20 3 -40 -2 -24 1 -14 1 -8 2 -4 4 2 1 8 1 16 -2 24 3 40 -1 22 -2 8 -4 4M534 2647l-3 0 -3 -1 -3 -7 1 -7 5 -5 5 1 3 6 -1 8 -4 5M567 2647l-3 0 -3 -1 -3 -7 1 -7 5 -5 4 1 4 6 -1 8 -4 5M1638 2659l-3 -5 3 -5 3 5 -3 5M1522 2735l-2 -2 -2 -5 1 -6 3 -3 5 3 1 6 -2 6 -4 1M894 2748l-2 0 -2 -6 2 -11 2 1 2 6 -2 10M1762 2756l-13 0 -6 -4 3 -4 9 -1 10 1 5 4 -2 2 -6 2M892 2872l-3 -10 -1 -19 2 -23 -1 -19 0 -18 3 -12 4 4 1 8 1 18 -2 19 2 23 -1 21 -3 7 -2 1M1507 2852l23 -12 32 -23 68 -43 4 -3 0 -1 -5 1 -28 15 -32 22 -38 22 -28 22 4 0M1686 2857l-3 1 -3 -2 -3 -7 1 -9 5 -7 5 3 3 7 -1 9 -4 5M1347 3040l-14 -4 -6 -4 1 -4 8 -7 10 -3 2 1 10 7 1 4 -2 4 -10 6M1230 3136l-6 0 -2 -4 4 -2 4 0 2 2 -2 4M1232 3173l-6 -1 0 -4 6 -1 4 1 0 4 -4 1M1269 3263l-7 0 -8 -4 -5 -8 -2 -11 0 -10 4 -10 6 -7 7 -3 6 1 7 5 4 8 2 9 0 11 -3 8 -5 8 -6 3M537 3334l-6 -1 -6 -5 -4 -6 -1 -10 0 -7 4 -9 6 -6 6 -2 6 2 5 4 4 8 1 8 0 8 -4 8 -5 6 -6 2M1316 3338l-8 -2 -9 -12 -12 13 -6 1 -5 -3 -5 -9 -1 -12 1 -10 5 -9 5 -3 6 1 12 13 7 -10 5 -4 6 0 5 4 4 10 1 14 -4 12 -7 6M1869 3470l-6 -2 -9 -7 -15 9 -6 -1 -5 -5 -4 -9 -1 -13 3 -12 6 -8 4 -2 4 0 14 9 14 -9 6 1 4 4 5 13 0 16 -5 12 -4 3 -5 1M774 3466l-4 0 -6 -4 -3 -6 -2 -7 1 -7 2 -8 4 -5 5 -2 5 2 3 3 4 12 -2 14 -7 8M640 3541l-10 0 -9 -3 -8 -8 -4 -9 0 -11 4 -10 8 -9 9 -4 9 0 9 4 6 7 4 10 0 10 -3 10 -6 8 -9 5M687 3515l-6 1 -6 -4 0 -6 3 -5 6 -1 6 4 1 6 -4 5"/>
<path fill="#6060d8" fill-rule="evenodd" stroke="none" d="M1940 2585l-2 0 -1 -3 0 -10 1 -5 3 -3 2 3 0 11 -3 7M1698 2738l-8 1 -5 -3 -3 -4 0 -6 2 -22 5 -10 7 -7 11 -6 15 -3 18 -24 15 -14 15 -10 21 -10 19 -17 12 -8 11 -4 7 -2 17 5 14 -14 8 -4 8 -2 7 4 4 12 -1 28 -5 14 -10 10 -10 5 -12 1 -3 1 -16 23 -13 12 -16 10 -21 8 -27 19 -12 5 -10 2 -20 -5 -14 11 -10 4M1616 2770l-6 -2 -2 -6 0 -16 4 -10 8 -8 12 -9 10 -4 6 1 3 6 1 8 -1 14 -2 8 -9 8 -24 10M1556 2807l-6 -1 -3 -5 0 -17 3 -8 6 -8 12 -9 13 -7 6 0 3 3 1 7 0 12 -3 9 -6 7 -7 7 -11 7 -8 3M1611 2833l-7 1 -4 -4 -1 -14 2 -9 6 -9 10 -8 12 -7 7 0 3 5 0 7 0 11 -3 7 -10 11 -15 9M1558 2866l-6 0 -3 -5 0 -17 2 -8 8 -10 10 -7 11 -5 7 -1 4 5 0 6 0 10 -4 9 -11 12 -18 11M1470 2861l-4 1 -3 -4 0 -14 2 -7 6 -7 9 -9 10 -4 6 0 1 3 1 11 -3 11 -11 12 -14 7M1473 2914l-5 -1 -1 -4 0 -12 2 -6 4 -6 7 -6 6 -2 5 0 2 7 -2 14 -7 10 -11 6M1290 2993l-2 -1 -1 -5 1 -9 2 -4 2 2 1 8 -3 9M1210 3034l-1 1 -1 -1 -1 -5 1 -7 2 -4 2 2 1 6 -3 8M1155 3068l-5 0 -2 -4 0 -17 7 -11 9 -4 3 2 2 4 -1 18 -4 8 -9 4M1119 3082l-2 -4 0 -10 3 -4 4 -2 2 3 0 9 -2 5 -5 3M940 3193l-2 -1 0 -2 0 -6 2 -3 2 1 0 4 -2 7M874 3275l-10 0 -7 -9 -5 -15 4 -15 20 -33 16 -10 14 2 3 2 1 5 1 18 -13 46 -6 8 -7 -1 -11 2M1264 3244l-2 -3 -1 -3 1 -5 2 -3 4 2 1 6 -1 4 -4 2M758 3350l-8 1 -5 -4 -2 -9 1 -20 3 -8 7 -10 8 -5 8 -1 3 2 2 6 0 27 -7 13 -10 8M537 3316l-3 0 -2 -4 1 -4 3 -2 2 1 2 3 -1 4 -2 2M694 3382l-12 0 -6 -5 -2 -9 2 -16 7 -12 10 -10 13 -7 10 0 4 3 2 8 0 18 -2 8 -4 8 -6 6 -16 8M634 3401l-7 1 -5 -5 0 -17 2 -10 6 -10 8 -5 10 -3 9 1 3 3 3 6 0 12 -2 8 -5 7 -6 6 -16 6M483 3503l-6 1 -5 -1 -3 -5 -1 -8 2 -35 3 -11 6 -10 10 -9 12 -8 13 -4 18 -1 24 -19 10 -3 6 2 3 8 1 20 -3 11 -5 9 -13 11 -21 7 -27 30 -13 10 -11 5"/>
<path fill="none" stroke="#1414c4" stroke-width="1.40" stroke-linejoin="round" d="M578 3560l-134 1 -1 -1 0 -114 1 -32 27 -12 69 -27 51 -17 41 -21 48 -20 41 -23 29 -16 4 -3 2 -3 0 -3 -4 -6 -1 -6 -1 -23 2 -12 6 -6 8 -5 16 -2 67 -1 7 -1 4 -3 4 -14 4 -6 4 -4 7 -4 3 -4 2 -65 -1 -48 2 -103 0 -56 1 -20 -2 -19 0 -18 1 -23 -1 -25 2 -35 -1 -22 1 -22 0 -32 -2 -26 1 -54 -1 -26 1 -23 2 -6 2 -3 8 0 2 4 2 8 1 16 -1 30 1 54 -2 26 0 32 1 22 -1 22 2 36 -1 24 1 23 -1 19 -1 18 1 20 0 56 2 102 -1 50 1 62 1 6 2 1 4 -1 26 -17 22 -10 5 -3 2 -4 -2 -8 0 -8 1 -5 2 -1 2 1 1 5 -1 16 4 1 9 -3 45 -32 86 -67 43 -29 45 -18 39 -29 49 -26 41 -18 18 -12 5 0 22 -13 88 -75 104 -69 6 -10 4 -2 13 -4 6 -2 85 -53 104 -81 66 -40 44 -14 53 -1 24 0 1 1 0 45 -1 16 -75 51 -46 34 -65 39 -23 10 -1 1 12 4 6 3 1 3 0 1 -3 3 -9 3 -13 1 -12 -1 -11 -3 -8 -1 -19 3 -16 3 -4 4 -2 5 -1 30 -313 194 -7 6 -1 4 0 2 3 5 14 8 5 4 2 3 1 4 -1 4 -3 4 -3 3 -11 5 -18 3 -3 3 -1 0 -11 -1 -23 -6 -8 -5 -8 -9 -4 1 -20 6 -50 22 -109 53 -87 57 -53 30 -4 3 -1 3 2 9 0 7 -2 8 -2 3 -2 -1 -2 -6 1 -17 -1 -2 -6 2 -21 12 -15 15 -5 6 -1 6 -3 26 -6 20 -1 6 -2 44 0 68 1 49 -1 78 -2 11 -2 4 -2 3 -5 0 -3 -3 -2 -4 -2 -10 -1 -79 1 -49 0 -66 -2 -40 -1 -6 -2 -2 -11 -4 -2 1 -6 4 -47 46 -43 24 -47 23 -45 17 -46 15 -41 26 -15 12 -8 10 0 4 4 4 20 14 5 0 3 -1 14 -10 8 -5 8 -2 8 0 7 3 7 4 14 16 3 0 7 -4 5 -1 5 0 4 1 5 5 2 8 -1 7 -3 3 -5 3 -6 2 -12 -3 -2 1 -6 12 -4 6 -6 6 -7 4 -7 2 -8 1 -21 -5 -5 0 -4 2 -15 8 -7 3M532 2654l-4 -1 -4 -3 -3 -6 0 -6 0 -6 3 -6 4 -5 4 -1 5 2 3 4 2 4 1 8 0 6 -3 5 -3 3 -5 2M566 2654l-5 -1 -4 -3 -3 -6 0 -6 0 -6 3 -6 4 -5 5 -1 4 2 3 4 2 4 1 8 0 6 -3 5 -3 3 -4 2M1640 2664l-5 -1 -2 -3 -2 -4 2 -8 2 -3 3 -1 4 2 3 6 -2 8 -3 4M1524 2741l-3 0 -4 -3 -2 -4 -1 -6 1 -6 1 -5 4 -3 2 -1 4 0 2 3 3 4 1 6 -1 6 -1 4 -3 4 -3 1M1688 2864l-5 1 -5 -3 -3 -6 -2 -7 0 -7 2 -6 8 -14 6 6 4 4 2 11 -1 12 -3 6 -3 3M1218 2968l-9 0 -7 -3 -8 -5 -4 -8 -1 -7 3 -7 5 -6 7 -4 10 -2 8 2 9 5 5 7 1 10 -4 8 -6 6 -9 4M742 2998l-4 -2 -3 -3 -3 -6 0 -7 1 -8 2 -5 3 -3 4 -2 4 1 3 5 3 6 0 6 0 6 -2 6 -3 4 -5 2M776 2998l-5 -2 -3 -3 -3 -6 0 -7 1 -8 2 -5 3 -3 5 -2 2 1 4 5 3 6 0 6 0 6 -2 6 -3 4 -4 2M966 3005l-2 -3 -1 -8 1 -6 2 -3 2 3 1 6 -1 8 -2 3M1333 3006l5 -2 2 -4 -2 0 -3 2 -5 4 0 1 3 -1M966 3050l-2 -3 -1 -7 1 -6 2 -4 2 4 1 6 -1 7 -2 3M966 3095l-2 -3 -1 -8 1 -6 2 -3 2 3 1 6 -1 8 -2 3M1233 3139l-7 1 -6 -2 -4 -2 -1 -5 4 -3 5 -2 4 0 6 2 4 3 1 3 -3 3 -3 2M1236 3176l-8 1 -6 -2 -4 -3 0 -4 3 -2 6 -2 6 -1 6 2 5 3 0 4 -3 2 -5 2M1270 3269l-4 1 -4 0 -5 -2 -5 -3 -6 -9 -4 -14 1 -14 4 -12 7 -8 4 -3 5 -1 7 1 9 5 5 10 4 12 -1 12 -2 10 -7 10 -8 5M540 3338l-8 1 -4 -2 -4 -3 -6 -10 -2 -10 0 -10 4 -10 6 -8 8 -3 8 1 6 4 5 8 3 10 0 11 -4 11 -4 6 -8 4M1317 3346l-3 0 -4 -1 -11 -7 -3 1 -8 6 -4 1 -3 0 -6 -3 -4 -5 -5 -12 -1 -8 0 -8 2 -8 3 -8 2 -4 4 -4 5 -2 5 0 4 2 6 5 3 1 11 -7 6 -1 6 3 4 5 3 7 2 7 0 17 -1 7 -4 8 -4 5 -5 3M1874 3478l-8 0 -12 -5 -3 0 -9 5 -6 0 -6 -2 -5 -6 -4 -6 -2 -9 -1 -17 4 -13 4 -6 4 -5 4 -2 6 0 11 5 3 0 10 -5 6 0 6 2 6 6 4 8 2 8 1 8 -1 11 -2 7 -4 8 -4 5 -4 3M776 3470l-6 1 -6 -3 -4 -6 -3 -10 0 -10 3 -11 4 -5 6 -4 4 1 5 3 5 8 1 8 1 8 -2 10 -4 6 -4 4M966 3455l-2 -3 -1 -8 1 -6 2 -3 2 3 1 6 -1 8 -2 3M966 3545l-2 -3 -1 -8 1 -6 2 -3 2 3 1 6 -1 8 -2 3M552 3560l-108 1 -1 -1 0 -108 1 -35 26 -12 70 -29 51 -17 41 -21 48 -20 43 -24 29 -16 4 -3 2 -3 0 -3 -4 -7 -1 -5 -1 -21 2 -12 2 -4 3 -4 9 -4 14 -2 66 -1 8 -1 3 -2 2 -3 4 -12 3 -6 5 -4 7 -4 2 -3 1 -7 2 -59 -1 -49 2 -103 0 -56 1 -20 -2 -19 0 -18 1 -23 -1 -25 2 -35 -1 -22 2 -22 -1 -32 -3 -26 2 -54 -1 -28 1 -20 2 -6 3 -3 3 -1 2 1 3 5 1 8 1 14 -1 30 1 54 -2 26 -1 32 2 22 -1 22 2 35 -1 25 1 23 0 18 -2 19 1 20 0 56 1 24 -1 28 2 50 -1 36 2 76 0 6 1 2 2 1 6 -3 26 -17 22 -10 6 -4 6 -1 9 -3 44 -31 87 -68 43 -29 45 -18 33 -23 17 -11 38 -21 41 -18 18 -11 6 -2 21 -12 88 -75 102 -69 4 -3 3 -6 3 -2 17 -6 6 -2 82 -52 105 -80 50 -31 17 -10 47 -15 49 -1 24 0 1 1 0 44 -1 15 -69 48 -52 37 -65 39 -24 11 -5 2 2 2 12 2 5 2 3 4 -1 2 -4 3 -6 1 -12 1 -11 -1 -12 -4 -8 -1 -34 6 -3 1 -4 4 -3 4 -2 21 -3 9 -8 8 -21 15 -172 107 -82 49 -18 10 -12 6 -4 1 -6 -3 -7 2 -15 9 -7 8 -1 1 1 1 6 0 18 -8 5 0 8 9 14 7 5 4 2 4 0 4 -3 4 -3 4 -10 4 -15 3 -3 2 -11 -1 -14 -3 -10 -4 -5 -5 -2 -2 -2 -6 -1 -2 -2 0 -40 15 -148 72 -88 57 -51 28 -9 7 -7 2 -21 13 -18 16 -4 8 -4 30 -7 24 -2 37 0 77 1 49 -1 77 -1 10 -2 4 -2 3 -5 0 -3 -3 -2 -6 -1 -7 -1 -78 1 -49 0 -66 -1 -40 -2 -7 -2 -2 -10 -5 -4 1 -8 6 -44 42 -42 25 -49 25 -42 16 -49 16 -42 26 -15 12 -14 13 -3 5 0 3 3 3 30 19 5 1 2 -2 12 -13 10 -7 7 -3 7 -1 10 2 7 4 6 6 6 9 3 4 12 -8 6 -1 4 1 6 6 2 4 0 4 -3 6 -3 3 -4 2 -8 0 -10 -5 -2 1 -5 15 -4 6 -7 6 -8 4 -8 1 -8 0 -8 -3 -14 -6 -4 -1 -22 14 -12 4 -14 3M532 2653l-4 -2 -3 -2 -3 -5 0 -6 1 -8 2 -4 3 -3 4 -2 5 2 3 4 2 5 0 6 -1 6 -2 4 -3 4 -4 1M566 2653l-5 -2 -3 -2 -3 -5 0 -6 1 -8 2 -4 3 -3 5 -2 4 2 3 4 2 5 0 6 -1 6 -2 4 -4 4 -2 1M1641 2662l-1 1 -4 0 -2 -3 -2 -3 1 -7 3 -5 4 0 1 1 3 5 0 6 -3 5M1524 2740l-3 0 -3 -3 -2 -3 -1 -6 2 -10 3 -3 2 -1 4 1 2 2 2 5 1 4 -2 9 -2 3 -3 2M1686 2863l-3 1 -6 -4 -2 -6 -1 -6 0 -6 2 -6 7 -11 5 3 3 4 2 5 1 6 0 7 -2 6 -3 5 -3 2M1218 2965l-8 0 -7 -2 -6 -5 -3 -6 -1 -6 1 -6 4 -6 6 -3 8 -2 9 2 7 3 4 6 1 8 -2 8 -5 5 -8 4M744 2995l-3 0 -4 -2 -2 -5 -2 -6 0 -6 2 -6 3 -4 3 -1 3 0 3 3 3 4 1 6 -2 10 -2 5 -3 2M777 2995l-3 0 -4 -2 -2 -5 -2 -6 0 -6 2 -6 3 -4 3 -1 3 0 3 3 3 4 1 6 -2 10 -2 5 -3 2M966 3001l-2 -3 0 -4 1 -2 1 -3 1 3 1 2 0 4 -2 3M966 3046l-2 -3 0 -3 1 -4 1 -2 1 2 1 4 0 3 -2 3M966 3091l-2 -3 0 -4 1 -2 1 -3 1 3 1 2 0 4 -2 3M966 3137l-2 -2 0 -4 0 -5 2 -2 2 2 0 5 0 4 -2 2M1230 3139l-6 0 -4 -2 -4 -3 1 -3 3 -2 4 -2 6 0 4 2 3 2 0 3 -2 3 -5 2M1238 3175l-8 1 -6 -1 -4 -3 0 -4 2 -2 5 -2 11 1 3 2 2 3 -2 3 -3 2M1270 3268l-4 1 -4 -1 -8 -4 -7 -8 -3 -12 0 -14 4 -12 6 -8 4 -3 5 -1 7 0 8 6 5 8 4 12 -1 12 -3 10 -5 8 -8 6M966 3229l-2 -2 -1 -7 1 -8 2 -2 2 4 1 6 -1 7 -2 2M542 3337l-8 1 -4 -2 -4 -2 -6 -8 -3 -10 0 -11 4 -11 5 -6 8 -4 8 1 6 5 5 8 2 8 0 10 -2 8 -5 8 -6 5M1316 3344l-6 -1 -11 -8 -3 1 -8 7 -4 1 -6 -1 -5 -5 -4 -6 -2 -8 -1 -13 3 -13 4 -6 3 -4 5 -2 5 0 4 2 6 6 3 1 9 -8 3 -1 5 0 4 2 4 4 4 7 2 7 1 10 -1 8 -2 8 -4 6 -4 4 -4 2M1872 3476l-8 0 -10 -6 -3 1 -9 5 -6 0 -6 -2 -5 -6 -3 -6 -2 -7 -1 -15 2 -8 2 -7 4 -6 5 -4 4 -1 4 0 11 5 3 1 10 -6 6 0 6 2 6 6 3 6 2 9 1 9 -1 8 -2 8 -3 6 -6 6 -4 2M772 3470l-6 -1 -5 -5 -3 -8 -1 -8 1 -10 3 -7 4 -5 6 -2 5 1 4 5 4 7 1 9 -1 9 -2 6 -4 6 -6 3M966 3451l-2 -3 0 -4 1 -2 1 -3 1 3 1 2 0 4 -2 3M966 3541l-2 -3 0 -4 1 -2 1 -3 1 3 1 2 0 4 -2 3M453 3560l-9 0 -1 -99 1 -41 27 -14 69 -28 52 -18 41 -21 47 -20 49 -26 25 -15 7 -6 0 -3 -4 -7 -2 -5 0 -23 1 -10 3 -4 3 -3 9 -4 12 -2 73 -2 3 -1 2 -3 4 -11 4 -8 4 -4 7 -3 3 -3 1 -8 2 -61 -1 -48 2 -51 -1 -28 1 -24 0 -56 2 -20 -3 -19 0 -18 1 -23 -1 -25 1 -17 2 -18 -2 -22 2 -22 -1 -32 -3 -26 0 -20 2 -34 -1 -26 1 -20 2 -6 2 -3 1 -1 3 1 3 5 1 7 1 15 -1 28 2 35 0 19 -3 26 -1 32 2 22 -2 22 2 23 1 17 -1 20 1 23 0 18 -3 19 2 20 0 56 1 22 -1 30 2 50 -1 36 2 76 1 8 3 2 5 -2 27 -18 22 -10 6 -3 15 -5 44 -30 87 -69 44 -30 44 -17 34 -23 52 -30 43 -19 18 -12 5 -2 24 -12 53 -46 33 -29 65 -43 41 -28 6 -10 22 -7 36 -23 38 -22 10 -7 104 -80 43 -26 23 -13 52 -18 45 -1 24 0 1 1 0 40 -1 16 -123 87 -64 39 -30 13 -4 3 16 2 6 2 4 4 -2 2 -8 4 -12 0 -11 -2 -10 -4 -8 -1 -35 6 -6 3 -4 4 -4 4 -1 4 -1 14 -1 6 -3 6 -5 6 -14 12 -16 11 -65 41 -43 24 -59 39 -74 42 -20 9 -4 1 -8 -1 -6 2 -27 16 -21 17 -20 11 -38 15 -41 21 -97 48 -88 56 -51 29 -7 5 -9 4 -19 11 -16 15 -7 7 -3 6 -2 25 -7 22 -1 11 -2 41 0 68 1 49 -1 48 0 29 -1 8 -3 7 -4 1 -3 -3 -2 -5 -1 -7 0 -31 -1 -47 1 -49 0 -66 -1 -40 -1 -7 -2 -3 -4 -3 -8 -2 -6 2 -13 11 -37 34 -44 28 -48 24 -41 15 -49 16 -41 25 -26 21 -14 13 -3 5 0 3 2 3 17 9 9 6 7 8 4 6 2 6 -2 7 -4 6 -7 5 -7 4 -8 3 -21 3 -26 0 -37 -3 -9 3 -15 6M532 2651l-2 0 -4 -3 -2 -4 -1 -6 0 -6 2 -5 3 -3 4 -1 4 1 3 3 2 5 0 6 0 4 -2 4 -3 4 -4 1M566 2651l-4 0 -3 -3 -2 -4 -1 -6 0 -6 2 -5 3 -3 5 -1 2 1 4 3 2 5 0 6 0 4 -2 4 -4 4 -2 1M1638 2662l-3 -2 -2 -6 2 -6 3 -2 3 2 2 6 -2 6 -3 2M1524 2738l-3 0 -3 -3 -2 -7 1 -8 3 -3 2 -2 4 1 2 2 2 8 -1 8 -2 3 -3 1M1686 2861l-3 1 -5 -3 -2 -4 -1 -6 0 -6 1 -6 7 -9 3 1 3 3 3 5 1 6 0 6 -1 6 -3 4 -3 2M1220 2960l-6 1 -6 0 -5 -3 -4 -4 -2 -4 0 -6 2 -5 4 -3 6 -3 7 0 6 2 5 4 2 6 0 6 -3 6 -6 3M744 2992l-3 0 -3 -2 -3 -8 1 -8 2 -4 3 -2 3 0 3 2 2 8 -1 9 -4 5M777 2992l-3 0 -3 -2 -3 -8 1 -8 2 -4 3 -2 3 0 3 2 2 8 -1 9 -4 5M1347 3047l-12 -2 -12 -3 -6 -3 -4 -4 -2 -3 0 -4 1 -4 4 -3 4 -2 27 -10 5 2 21 13 2 4 0 2 -1 4 -2 2 -7 5 -15 3 -3 3M1232 3138l-6 0 -5 -1 -3 -3 0 -3 3 -2 5 -1 7 1 2 2 1 3 -4 4M1234 3175l-6 0 -4 -1 -3 -2 0 -4 3 -2 4 -1 10 1 3 2 0 4 -2 1 -5 2M1269 3266l-5 1 -4 -1 -8 -5 -5 -9 -3 -12 1 -12 4 -10 7 -8 4 -2 4 -1 8 2 7 6 5 9 2 10 -1 11 -4 11 -5 6 -7 4M966 3224l-1 -4 1 -4 1 4 -1 4M542 3335l-8 1 -8 -3 -5 -7 -3 -9 0 -12 3 -9 5 -7 8 -3 8 1 6 4 4 7 2 8 0 10 -2 8 -4 7 -6 4M1318 3341l-4 1 -4 -1 -11 -9 -1 0 -8 8 -4 2 -6 0 -6 -4 -3 -4 -2 -8 -2 -14 1 -7 2 -6 3 -5 3 -4 5 -2 5 0 4 2 8 8 1 0 9 -8 4 -2 6 1 5 4 3 5 2 6 2 7 0 7 -2 8 -2 8 -3 4 -5 3M1874 3473l-4 1 -4 0 -12 -6 -3 0 -9 6 -4 0 -6 -2 -5 -4 -2 -4 -3 -8 -2 -13 3 -13 3 -6 4 -5 4 -3 5 0 5 1 7 5 3 0 10 -6 5 0 6 1 5 4 3 7 2 6 2 8 -1 8 -1 8 -3 8 -4 4 -4 3M772 3469l-6 -1 -3 -4 -4 -6 -1 -9 0 -9 3 -8 4 -5 6 -2 5 1 4 5 3 7 1 8 0 8 -3 7 -4 6 -5 2M636 3547l-10 -1 -12 -6 -10 -10 -3 -4 -1 -5 0 -6 2 -6 3 -7 5 -8 5 -5 6 -4 6 -3 6 -1 11 2 8 6 7 9 5 12 -3 16 -5 10 -10 7 -10 4M684 3520l-4 -1 -5 -2 -4 -3 -2 -5 1 -3 2 -4 4 -4 5 -2 5 1 4 2 3 3 1 4 0 4 -2 5 -4 3 -4 2M446 3560l-2 0 -1 -27 0 -83 1 -26 26 -15 30 -13 56 -23 37 -11 39 -21 46 -19 54 -29 25 -15 6 -6 1 -3 -6 -12 -1 -11 1 -19 2 -5 4 -4 8 -4 12 -2 72 -2 5 -3 6 -15 3 -5 4 -4 7 -3 3 -3 1 -7 0 -32 2 -31 -1 -48 2 -51 -1 -28 2 -24 0 -34 -1 -22 3 -20 -4 -22 0 -18 2 -21 -2 -21 1 -21 4 -17 -3 -14 0 -8 3 -20 2 2 2 7 1 13 -3 20 4 22 1 18 -2 20 2 24 -1 18 -3 18 3 20 -1 21 0 33 2 26 -1 28 2 50 -1 36 2 46 0 32 1 6 1 2 1 1 6 -2 28 -18 43 -18 45 -31 87 -69 42 -28 45 -18 26 -17 60 -36 41 -17 20 -13 5 -2 24 -13 54 -45 32 -30 8 -6 61 -40 19 -14 18 -12 8 -10 22 -7 32 -22 40 -21 104 -81 10 -6 40 -25 26 -15 31 -11 19 -5 7 -3 40 -1 24 0 1 1 0 39 -1 15 -25 19 -34 21 -28 22 -34 24 -26 17 -40 24 -34 14 -10 6 -50 9 -13 6 -5 4 -2 5 -2 19 -5 11 -14 15 -20 14 -33 20 -34 23 -35 18 -36 25 -30 18 -65 33 -8 4 -11 0 -11 4 -40 25 -21 16 -17 11 -38 14 -38 20 -100 49 -24 15 -65 43 -85 48 -16 14 -7 7 -3 6 -3 27 -7 23 -2 11 -1 31 0 77 2 49 -2 47 0 30 -1 7 -2 6 -4 1 -2 -3 -2 -4 -1 -7 0 -30 -2 -47 2 -49 0 -77 -2 -31 -1 -6 -2 -5 -7 -3 -5 -1 -6 3 -14 10 -36 33 -44 29 -47 23 -13 6 -29 11 -49 16 -31 17 -11 7 -42 35 -8 9 -4 8 0 2 2 3 21 9 6 5 4 5 2 4 0 4 -3 5 -5 5 -11 4 -16 2 -16 -1 -25 -4 -6 0 -9 3 -34 18M892 2713l-2 -11 1 -18 -4 -21 -1 -19 3 -40 -2 -24 1 -18 2 -8 2 -3 2 0 2 3 2 8 1 18 -2 24 3 40 -1 19 -4 24 1 16 -2 8 -2 2M536 2648l-4 1 -4 -1 -2 -3 -2 -5 0 -6 1 -4 3 -4 3 -1 3 0 3 2 3 6 0 9 -4 6M568 2648l-2 1 -5 -1 -2 -3 -2 -5 0 -6 1 -4 3 -4 3 -1 3 0 3 2 3 6 0 9 -5 6M1638 2660l-3 -2 -1 -4 1 -4 3 -2 3 2 1 4 -1 4 -3 2M1524 2737l-3 -1 -2 -1 -1 -3 -1 -4 2 -8 3 -3 4 1 1 2 2 6 -1 8 -4 3M1767 2756l-9 1 -10 -1 -8 -3 -1 -3 1 -2 6 -1 10 -1 10 1 4 2 3 3 -2 2 -4 2M1526 2838l8 -4 35 -23 60 -37 3 -3 -2 0 -29 17 -26 17 -33 20 -18 13 2 0M1684 2860l-2 -1 -4 -3 -2 -8 1 -10 6 -7 3 1 3 3 2 3 1 6 0 6 -2 5 -2 4 -4 1M1218 2956l-8 1 -3 -1 -3 -4 -2 -2 0 -5 1 -3 3 -3 4 -2 5 0 5 2 3 3 1 3 0 5 -2 2 -4 4M744 2988l-3 0 -1 -1 -3 -5 1 -7 3 -3 3 0 3 6 -1 6 -2 4M777 2988l-3 0 -2 -1 -2 -5 1 -7 3 -3 3 0 3 6 -1 6 -2 4M1347 3043l-12 -1 -12 -6 -4 -4 -1 -3 2 -3 6 -5 12 -5 9 -2 20 12 1 4 -3 5 -5 3 -10 3 -3 2M1228 3137l-4 0 -3 -1 -1 -2 0 -3 3 -1 4 -1 6 2 1 1 0 2 -2 2 -4 1M1236 3173l-4 1 -5 0 -3 -2 -1 -2 1 -2 3 -2 7 0 4 2 1 2 0 2 -3 1M1269 3265l-7 0 -5 -2 -3 -3 -5 -8 -3 -12 0 -12 4 -10 7 -7 7 -2 8 2 6 5 4 8 3 10 -1 11 -3 9 -6 7 -6 4M542 3334l-8 1 -6 -3 -6 -6 -3 -9 0 -9 3 -10 4 -7 8 -4 6 1 6 3 4 7 3 7 0 9 -2 9 -4 6 -5 5M1317 3340l-3 0 -4 -1 -11 -11 -3 2 -6 7 -4 3 -6 0 -5 -4 -5 -10 -1 -12 0 -8 2 -6 5 -8 5 -2 6 1 5 3 6 7 1 1 7 -9 5 -3 6 0 5 3 2 5 3 6 1 7 0 7 -1 8 -2 6 -3 5 -5 3M1872 3472l-3 0 -5 -1 -10 -7 -3 1 -7 6 -5 1 -6 -1 -5 -4 -5 -11 -1 -7 0 -7 3 -12 3 -6 4 -4 4 -2 4 0 5 2 6 5 3 1 9 -6 6 -2 6 2 4 4 3 6 3 7 0 7 0 8 -2 8 -3 6 -4 3 -4 3M774 3467l-4 1 -6 -4 -4 -8 -1 -7 0 -9 2 -6 4 -5 3 -2 3 -1 5 2 3 3 3 6 1 7 0 10 -2 6 -3 4 -4 3M638 3544l-11 -1 -11 -5 -7 -8 -2 -6 -1 -4 1 -12 2 -6 4 -6 8 -8 5 -2 6 -2 10 1 9 6 6 9 4 10 -1 12 -5 11 -9 7 -8 4M687 3517l-3 1 -4 -1 -5 -2 -2 -3 -1 -3 1 -5 2 -2 3 -3 3 -1 5 0 3 2 3 3 1 3 0 4 -3 5 -3 2M446 3556l-2 0 -1 -26 0 -75 1 -27 27 -17 30 -14 55 -22 40 -12 36 -21 46 -19 26 -14 29 -15 29 -18 4 -4 0 -4 -5 -11 -1 -9 1 -20 1 -4 4 -4 8 -4 12 -2 70 -2 4 -2 2 -2 5 -14 4 -6 13 -8 2 -8 0 -32 2 -33 -1 -51 2 -48 0 -28 2 -24 -1 -17 2 -13 -2 -26 0 -6 2 -4 2 1 2 3 0 6 -2 26 2 13 -1 18 2 23 0 28 2 48 -1 38 2 46 0 32 1 8 3 2 5 -1 8 -5 21 -14 34 -13 9 -5 19 -14 27 -17 32 -26 31 -23 23 -20 42 -27 31 -12 14 -6 21 -14 36 -20 30 -20 36 -14 7 -4 17 -12 29 -14 16 -13 36 -31 34 -32 10 -7 22 -15 34 -20 23 -19 18 -12 7 -8 22 -8 34 -23 14 -8 16 -7 6 -3 30 -24 26 -19 44 -35 16 -10 40 -26 26 -14 32 -11 18 -5 12 -5 35 -1 24 0 1 1 -1 50 -10 8 -20 16 -29 18 -26 21 -48 33 -54 33 -48 20 -46 10 -12 4 -9 5 -4 2 -3 5 -1 21 -1 6 -4 6 -11 14 -19 14 -30 17 -38 25 -32 15 -36 27 -26 15 -57 26 -7 1 -6 -3 -5 1 -47 32 -22 14 -16 13 -16 10 -38 13 -38 22 -27 12 -23 12 -50 25 -23 13 -33 23 -45 29 -39 21 -34 20 -17 14 -6 6 -4 10 -3 24 -7 21 -2 12 -1 33 1 43 -1 34 2 49 -2 47 0 28 -1 9 -3 4 -3 -1 -1 -2 -2 -8 0 -29 -2 -48 2 -49 -1 -34 1 -43 -1 -30 -2 -9 -1 -4 -4 -2 -8 -2 -8 2 -14 9 -12 11 -24 22 -48 32 -43 21 -17 8 -74 25 -35 19 -7 5 -49 40 -25 28 -8 7 -38 26 -24 13M892 2677l-2 -7 -2 -6 -1 -20 4 -40 -3 -24 1 -14 1 -8 2 -3 2 0 2 2 1 8 1 15 -3 24 4 40 -1 22 -2 7 -2 3 -2 1M534 2647l-3 0 -3 -2 -3 -6 1 -7 2 -3 3 -2 5 1 3 6 -1 8 -4 5M567 2647l-3 0 -3 -2 -3 -6 1 -7 2 -3 3 -2 4 1 4 6 -1 8 -4 5M1640 2658l-2 0 -2 0 -1 -2 1 -5 2 -1 2 0 1 2 0 4 -1 2M1526 2734l-2 1 -3 -1 -3 -5 1 -6 2 -3 1 -1 4 1 2 4 0 5 -2 5M894 2746l-2 1 -1 -5 0 -6 1 -3 2 0 1 5 -1 8M1761 2756l-12 -1 -5 -2 -1 -1 1 -2 3 -2 9 0 8 0 4 2 2 2 -1 1 -2 1 -6 2M1504 2854l14 -6 10 -6 29 -22 17 -11 22 -13 16 -11 21 -13 2 -1 0 -1 -5 0 -30 16 -31 22 -39 22 -12 8 -17 16 1 0 2 0M894 2870l-2 1 -1 -2 -1 -5 -2 -21 3 -23 -2 -25 1 -17 2 -6 2 1 2 4 1 21 -2 21 2 21 0 18 -1 8 -2 4M1686 2857l-3 1 -2 -2 -2 -2 -2 -5 1 -9 5 -7 5 3 3 7 -1 9 -4 5M1347 3039l-7 -1 -6 -2 -5 -4 0 -2 0 -2 5 -5 4 -2 9 -2 1 0 8 7 2 4 -3 4 -8 5M1228 3136l-4 -1 -2 -1 0 -2 4 -2 5 1 1 1 0 2 -4 2M1234 3172l-6 0 -2 0 -1 -2 1 -2 2 0 5 -1 3 1 1 2 -3 2M1268 3263l-8 0 -7 -6 -4 -7 -2 -11 1 -11 3 -8 6 -7 7 -2 6 1 7 4 5 10 1 8 0 10 -4 10 -5 7 -6 2M542 3332l-8 1 -6 -2 -5 -7 -3 -8 0 -10 3 -8 5 -7 6 -2 6 0 4 3 5 6 3 7 0 7 -2 10 -3 6 -5 4M1318 3337l-4 1 -4 -1 -5 -5 -6 -9 -1 0 -6 10 -5 4 -6 1 -5 -3 -5 -9 -1 -10 2 -12 4 -9 5 -3 3 0 3 1 5 5 6 9 1 0 6 -9 5 -5 6 -1 4 3 3 3 2 6 2 6 0 7 -3 12 -2 5 -4 3M1872 3469l-4 1 -4 -1 -10 -8 -3 1 -6 5 -5 2 -6 0 -4 -3 -5 -10 -2 -13 3 -12 6 -8 4 -2 4 0 5 2 6 5 3 1 9 -7 5 -2 6 2 4 3 2 5 3 7 0 13 -1 6 -3 6 -3 4 -4 3M774 3466l-4 0 -6 -4 -3 -6 -2 -7 1 -7 2 -8 4 -5 5 -1 5 1 3 3 2 5 2 7 -1 8 -1 6 -3 4 -4 4M639 3541l-5 0 -6 0 -8 -5 -7 -8 -3 -8 0 -11 4 -11 8 -7 10 -4 8 1 9 4 6 8 3 10 -1 11 -3 9 -8 7 -7 4M686 3515l-6 0 -3 -1 -2 -4 0 -2 1 -4 4 -3 6 0 4 4 0 5 -1 4 -3 1M444 3551l-1 -51 1 -68 27 -18 27 -14 63 -25 15 -5 14 -2 7 -3 35 -21 46 -20 26 -14 28 -13 33 -21 5 -4 1 -3 -6 -11 -1 -4 0 -22 2 -8 5 -5 7 -2 12 -2 64 -1 4 -1 3 -3 3 -4 6 -14 4 -5 10 -4 2 -4 1 -5 0 -34 3 -32 0 -14 -2 -38 1 -20 2 -18 1 -6 2 1 1 5 2 23 1 19 -2 34 0 16 3 30 0 33 1 8 2 2 2 1 6 -2 8 -5 20 -14 32 -12 11 -5 21 -15 24 -15 34 -29 30 -22 23 -19 42 -28 12 -5 18 -6 15 -7 21 -13 23 -11 10 -6 33 -23 11 -5 24 -8 8 -5 17 -12 29 -14 18 -13 34 -30 34 -34 12 -9 22 -14 24 -12 8 -6 22 -19 21 -14 7 -8 21 -7 19 -15 17 -10 12 -6 15 -6 4 -2 32 -25 26 -19 40 -32 20 -14 37 -24 29 -14 8 -3 24 -10 22 -5 12 -6 31 -1 24 0 1 1 -1 47 -18 16 -18 13 -23 13 -28 23 -26 17 -25 19 -49 29 -22 10 -24 9 -58 14 -15 4 -9 5 -2 3 2 9 0 17 -1 6 -2 6 -5 7 -6 6 -18 13 -30 17 -18 13 -19 12 -11 4 -13 4 -7 4 -34 26 -16 11 -14 8 -12 4 -26 7 -4 -1 -1 -1 -2 -10 -1 -1 -3 1 -13 10 -26 23 -30 22 -24 14 -20 15 -12 9 -10 3 -20 5 -8 3 -26 17 -12 7 -27 12 -19 11 -30 14 -40 21 -10 6 -30 22 -48 30 -18 10 -18 9 -34 21 -18 14 -5 6 -5 10 -3 25 -7 23 -3 16 -1 26 1 44 -1 32 2 52 -2 47 0 29 0 5 -2 2 -2 0 -1 -1 -1 -6 0 -29 -2 -47 2 -52 -1 -32 1 -44 -1 -26 -2 -10 -2 -7 -5 -3 -7 -2 -5 1 -4 1 -20 12 -30 27 -14 10 -24 19 -12 8 -30 13 -11 6 -17 8 -74 26 -35 17 -7 5 -23 20 -26 20 -31 30 -16 13 -24 17 -26 12M892 2588l-1 -3 -1 -6 2 -17 2 2 2 15 -2 9 -2 0M892 2669l-1 -2 -2 -5 0 -18 1 -9 2 -16 2 2 3 23 -1 19 -2 6 -2 0M534 2644l-3 1 -1 -1 -3 -5 1 -6 3 -4 3 1 3 4 0 6 -3 4M567 2644l-3 1 -2 -1 -2 -5 1 -6 3 -4 3 1 3 4 0 6 -3 4M1524 2732l-2 0 -1 -1 -1 -3 0 -4 2 -2 3 1 1 3 0 3 -2 3M1761 2755l-8 -1 -4 -1 -1 -1 2 -2 6 -1 6 1 3 2 0 1 -4 2M1487 2864l15 -7 16 -6 8 -4 7 -5 14 -14 11 -8 17 -11 21 -11 18 -13 24 -14 2 -3 -10 1 -16 9 -14 6 -19 15 -13 9 -14 7 -24 12 -10 7 -36 30 3 0M892 2806l-1 -6 1 -11 2 2 1 9 -1 5 -2 1M892 2862l-1 -6 0 -13 0 -6 1 -4 2 1 1 2 0 7 -1 17 0 1 -2 1M1686 2854l-3 1 -3 -3 -1 -3 1 -7 3 -6 4 2 2 5 0 6 -3 5M892 2993l-1 -12 0 -5 1 -4 2 1 1 8 -1 10 -2 2M1347 3032l-3 -2 0 -1 3 -2 0 5M1266 3262l-6 -1 -6 -5 -4 -8 -2 -10 1 -10 3 -8 6 -6 6 -2 6 2 6 5 5 8 1 9 -1 10 -4 8 -5 5 -6 3M540 3331l-6 1 -6 -3 -4 -6 -3 -7 0 -10 3 -7 4 -6 6 -3 6 1 4 3 4 5 3 7 0 8 -2 8 -4 6 -5 3M1284 3335l-4 -1 -5 -4 -2 -6 -2 -7 1 -7 2 -8 4 -5 4 -2 5 1 4 4 4 8 1 6 -1 6 -2 8 -5 5 -4 2M1316 3335l-5 0 -5 -5 -4 -7 -1 -7 1 -8 4 -8 4 -4 4 -1 4 1 4 4 3 6 1 8 -1 8 -2 6 -3 4 -4 3M1874 3466l-5 1 -5 -1 -10 -10 -3 1 -6 7 -5 3 -4 0 -4 -3 -5 -8 -2 -10 1 -10 5 -10 5 -3 4 0 5 3 6 7 3 1 8 -8 4 -2 4 -1 5 3 3 3 2 5 2 12 -2 12 -3 4 -3 4M772 3465l-4 -1 -4 -3 -3 -6 -1 -7 1 -8 3 -6 2 -3 5 -2 5 2 2 3 3 6 1 6 -1 6 -2 6 -3 4 -4 3M639 3538l-9 0 -8 -4 -6 -7 -3 -9 0 -9 4 -9 7 -7 8 -3 7 1 7 3 6 6 3 9 0 9 -3 9 -6 7 -7 4M686 3512l-5 1 -3 -3 0 -2 2 -4 4 -1 3 2 1 4 -2 3M444 3545l-1 -45 1 -62 26 -20 18 -10 73 -32 12 -3 18 -2 6 -2 21 -15 14 -9 14 -6 24 -9 34 -18 26 -12 41 -25 3 -3 1 -3 -7 -15 0 -21 2 -7 5 -5 7 -2 8 -2 58 -1 7 -1 5 -1 4 -6 8 -15 4 -4 8 -3 4 -7 1 -7 0 -35 3 -19 2 1 3 19 1 40 2 6 2 1 3 0 13 -6 20 -15 36 -12 7 -4 21 -16 24 -14 34 -30 30 -20 23 -20 43 -29 30 -10 14 -7 12 -8 10 -6 26 -9 9 -6 19 -17 11 -7 12 -5 17 -4 6 -3 25 -18 17 -8 12 -5 8 -5 14 -11 33 -29 31 -33 12 -10 23 -14 23 -10 7 -4 6 -5 17 -18 22 -15 8 -8 6 -2 13 -3 21 -17 16 -10 12 -6 14 -3 4 -2 26 -22 32 -22 20 -18 18 -14 59 -39 13 -7 16 -7 8 -3 26 -10 26 -6 11 -7 26 -1 25 1 -1 42 -8 9 -19 16 -12 8 -20 10 -26 24 -29 18 -18 15 -13 9 -42 24 -18 9 -16 6 -18 6 -12 2 -19 6 -36 6 -18 8 -17 4 -14 8 -17 7 -19 16 -22 13 -12 6 -13 3 -5 3 -7 5 -17 17 -16 13 -49 33 -19 20 -12 14 -35 34 -27 22 -28 15 -25 21 -6 3 -7 3 -23 3 -7 2 -24 19 -12 8 -12 5 -17 7 -23 13 -24 11 -46 24 -32 23 -29 17 -25 17 -16 10 -18 7 -34 22 -20 16 -3 4 -5 8 -2 8 -2 21 -8 24 -4 26 -2 2 -4 -27 -3 -6 -3 -2 -8 -2 -6 1 -24 10 -10 8 -20 17 -13 10 -22 22 -9 6 -8 5 -27 11 -17 10 -16 7 -16 6 -18 5 -35 13 -13 6 -23 9 -6 4 -21 21 -31 23 -31 28 -18 14 -20 14 -12 6 -14 5M532 2641l-1 -1 -1 -2 0 -4 2 0 2 1 0 3 -2 3M566 2641l-2 -1 -1 -2 0 -4 3 0 1 1 0 3 -1 3M892 2659l0 -15 0 -7 2 2 0 5 0 14 -2 1M1454 2932l-9 0 -4 -4 -1 -4 0 -10 2 -8 5 -8 6 -7 7 -7 16 -12 16 -9 11 -4 17 -3 6 -3 6 -5 14 -17 10 -8 18 -12 22 -11 15 -12 13 -9 17 -8 5 0 3 1 2 4 1 6 0 13 -1 7 -5 11 -10 9 -18 13 -24 12 -19 15 -18 11 -11 4 -14 1 -6 2 -6 5 -18 18 -14 11 -20 12 -8 4 -6 2M1684 2851l-1 0 -1 -3 0 -4 1 -3 2 1 2 2 -1 5 -2 2M892 3076l-2 -17 1 -19 1 -7 2 1 1 6 1 19 -2 16 -2 1M1269 3259l-6 0 -6 -3 -5 -6 -2 -10 0 -8 3 -10 5 -6 6 -2 6 2 5 4 3 6 2 7 0 9 -2 8 -4 6 -5 3M540 3329l-6 1 -4 -2 -5 -5 -3 -7 0 -8 2 -8 4 -5 6 -3 6 1 4 3 4 4 2 6 0 8 -2 6 -3 6 -5 3M1284 3332l-4 -1 -4 -3 -2 -5 -1 -6 1 -7 2 -6 2 -4 4 -2 5 1 3 3 2 6 1 6 0 6 -2 6 -3 4 -4 2M1316 3332l-5 0 -3 -3 -3 -6 -1 -7 0 -6 2 -7 4 -4 4 -1 3 0 4 4 2 6 1 6 0 6 -2 6 -3 4 -3 2M892 3385l0 -7 0 -18 1 2 0 8 1 3 0 5 0 6 -2 1M1842 3463l-4 1 -5 -2 -4 -6 -2 -7 0 -7 2 -8 4 -6 5 -2 4 1 4 4 4 7 2 6 0 4 -3 7 -3 5 -4 3M1872 3463l-4 1 -5 -3 -5 -6 -3 -9 1 -6 4 -8 3 -3 5 -3 4 1 3 3 3 4 2 8 0 7 -2 6 -2 5 -4 3M772 3463l-4 -1 -3 -2 -2 -5 -2 -7 1 -8 2 -4 4 -4 3 -1 3 1 4 4 2 4 1 6 -2 10 -3 5 -4 2M892 3491l-1 -9 -2 -21 2 -20 1 -7 2 1 1 3 2 23 -1 21 -2 7 -2 2M636 3535l-8 -1 -6 -4 -4 -8 -2 -7 1 -7 4 -8 6 -5 7 -1 6 1 6 4 5 6 2 9 -1 7 -4 7 -6 5 -6 2M1443 2882l-5 0 -2 -2 0 -1 0 -9 1 -6 7 -12 9 -12 9 -11 8 -7 20 -13 13 -7 11 -2 13 2 11 -19 9 -12 9 -7 17 -12 7 -6 6 -3 12 -2 2 -1 18 -16 12 -8 11 -5 11 -4 10 0 3 -1 27 -25 12 -9 20 -13 32 -28 59 -39 21 -12 14 -5 8 -3 22 -9 10 -3 21 -3 6 -4 8 -7 22 -1 24 1 0 35 -15 19 -9 8 -11 8 -24 11 -25 25 -11 7 -19 11 -19 17 -16 10 -50 28 -24 10 -14 4 -12 2 -27 8 -17 2 -14 0 -16 10 -18 6 -16 9 -14 4 -15 14 -9 6 -12 8 -12 6 -7 2 -5 1 -13 -5 -16 24 -17 17 -16 12 -20 12 -8 3 -7 2M1550 2875l-6 0 -5 -1 -3 -4 -1 -4 0 -11 2 -7 5 -10 6 -7 8 -7 10 -8 15 -8 13 -6 18 -14 14 -9 14 -5 4 0 3 2 2 7 -1 19 -3 10 -6 7 -10 8 -12 8 -23 11 -13 11 -12 8 -11 6 -8 4M1462 2927l-4 1 -4 0 -4 -1 -1 -5 0 -16 2 -8 4 -6 5 -6 8 -7 18 -11 16 -6 4 -1 4 2 3 3 1 2 0 12 -3 8 -4 8 -8 8 -11 9 -14 9 -12 5M444 3538l0 -92 18 -18 12 -10 18 -10 16 -8 24 -8 26 -12 16 -5 17 1 6 -2 19 -16 16 -11 14 -6 23 -8 36 -20 25 -10 26 -17 23 -12 2 -2 0 -3 -7 -12 -1 -6 0 -18 3 -6 5 -5 9 -2 58 -1 7 -1 5 -2 4 -5 6 -13 3 -4 3 -3 9 -4 5 -8 2 -7 -1 -14 0 -16 1 -6 2 1 1 5 0 18 -1 13 3 9 2 3 4 2 11 -3 7 -4 18 -15 11 -4 12 -2 10 -2 30 -23 10 -6 14 -6 6 -5 16 -16 12 -11 11 -7 19 -12 23 -22 27 -17 16 -11 12 -5 18 -4 14 -8 14 -9 10 -5 9 -2 12 1 5 -1 4 -3 16 -21 14 -11 6 -3 9 -4 21 -3 6 -4 20 -17 13 -7 9 -3 14 -3 6 -1 7 2 15 -6 4 0 0 4 -1 2 -7 11 -30 33 -8 8 -12 10 -12 8 -9 5 -12 4 -5 3 -16 16 -10 8 -8 4 -10 2 -8 -1 -12 -3 -4 1 -20 22 -14 11 -13 7 -18 6 -23 14 -22 10 -21 11 -29 13 -21 18 -11 8 -11 7 -17 7 -19 15 -13 9 -12 5 -16 6 -20 15 -12 8 -14 10 -9 9 -5 8 -2 9 -4 23 -10 25 -2 1 -7 -11 -6 -2 -9 0 -16 5 -6 0 -22 -5 -14 1 0 14 -5 10 -20 32 -8 8 -9 8 -16 8 -20 8 -17 10 -17 8 -12 4 -20 6 -50 19 -16 4 -5 2 -5 3 -12 15 -10 9 -12 10 -21 14 -29 26 -16 14 -14 9 -10 6 -12 4 -12 3M1268 3257l-6 0 -5 -3 -4 -6 -2 -9 0 -7 3 -8 4 -5 6 -2 5 0 5 4 3 6 2 7 0 8 -3 8 -4 5 -4 2M538 3328l-6 0 -4 -4 -3 -6 -1 -6 0 -7 2 -5 5 -5 5 -1 4 1 4 3 3 6 1 6 0 6 -2 6 -3 3 -5 3M1286 3328l-4 1 -2 -2 -3 -4 -2 -6 0 -6 2 -5 3 -3 2 -2 4 1 2 3 3 7 -1 10 -2 3 -2 3M1317 3328l-5 1 -2 -3 -3 -3 -1 -6 0 -6 2 -5 3 -4 3 -1 4 3 3 4 1 4 -1 10 -4 6M1839 3460l-3 -1 -4 -3 -2 -4 -1 -6 1 -6 2 -5 2 -4 4 -1 2 1 4 3 3 4 1 6 -1 6 -2 5 -3 3 -3 2M1870 3460l-4 -1 -3 -3 -3 -4 -1 -6 1 -6 2 -4 2 -4 5 -2 3 1 3 3 2 4 1 6 -1 6 -1 5 -2 3 -4 2M771 3461l-3 -1 -3 -3 -2 -5 -1 -4 1 -6 2 -5 3 -3 3 -1 3 1 3 3 2 5 1 6 -1 4 -2 5 -3 3 -3 1M638 3530l-6 0 -6 -3 -4 -5 -2 -6 0 -6 3 -6 4 -4 6 -2 6 0 5 3 3 5 2 6 0 6 -3 6 -4 4 -4 2M1551 2813l-7 1 -4 -2 -2 -6 0 -12 2 -8 3 -8 6 -7 6 -6 28 -19 5 -2 10 0 2 -1 11 -11 7 -7 11 -7 12 -6 7 -3 5 0 5 2 6 5 1 0 11 -17 8 -9 10 -9 12 -8 18 -11 22 -21 15 -12 30 -19 24 -17 19 -10 11 -4 13 -3 16 -8 8 -4 11 -2 15 1 4 0 5 -4 13 -13 17 -1 21 1 0 20 -1 10 -6 12 -9 12 -8 7 -9 6 -7 3 -12 3 -4 1 -15 19 -10 10 -12 8 -18 10 -19 17 -14 10 -12 7 -20 10 -24 14 -12 5 -12 4 -22 4 -21 8 -17 2 -6 0 -4 -1 -4 -3 -5 -5 -1 1 -8 13 -7 6 -8 4 -11 3 -16 9 -6 1 -6 0 -3 1 -10 12 -9 8 -17 11 -12 5M1548 2873l-4 -1 -3 -4 -1 -6 0 -10 1 -6 2 -6 8 -10 9 -8 12 -8 9 -5 15 -6 14 -12 13 -9 13 -6 5 0 3 1 1 3 1 4 0 18 -3 10 -6 7 -9 8 -12 8 -22 9 -13 12 -13 9 -12 6 -8 2M1455 2875l-5 0 -2 -2 -1 -5 0 -10 4 -10 9 -14 4 -5 9 -8 18 -11 12 -5 5 0 2 1 3 6 -1 13 -2 7 -7 10 -9 9 -14 10 -12 8 -13 6M1466 2924l-8 1 -3 -2 -1 -3 0 -17 1 -6 4 -6 10 -11 15 -9 13 -6 5 0 2 1 3 6 0 12 -1 7 -4 6 -6 7 -10 9 -12 7 -8 4M1282 3017l-7 1 -6 -2 -3 -4 -2 -6 0 -16 1 -9 3 -7 6 -10 12 -9 12 -5 8 -1 11 3 3 0 3 -2 13 -17 11 -9 17 -7 6 -1 4 2 8 14 0 2 -1 5 -4 7 -9 11 -14 13 -13 9 -9 3 -9 -1 -3 1 -13 17 -7 7 -12 9 -6 2M987 3179l-6 1 -4 -1 -3 -3 0 -3 0 -7 2 -5 10 -12 10 -9 12 -7 8 -3 10 -2 3 -1 14 -19 11 -10 8 -7 9 -5 18 -7 17 -20 9 -9 23 -14 18 -13 12 -4 14 -2 4 -1 24 -17 11 -5 7 -1 4 1 2 2 2 4 0 6 0 12 -1 8 -3 6 -3 6 -11 10 -15 8 -18 5 -21 15 -26 11 -20 12 -14 5 -12 2 -3 1 -16 18 -13 10 -14 8 -6 2 -8 0 -3 2 -11 13 -9 7 -11 8 -11 4M894 3288l-3 0 -5 -6 -4 -1 -8 0 -18 3 -3 -2 -7 -7 -4 -2 -32 -2 -14 -2 -6 -3 -5 -4 -3 -8 0 -16 1 -6 4 -5 8 -2 39 -2 21 -3 5 -2 2 -3 9 -15 3 -4 11 -6 7 -7 8 5 9 -1 11 -3 16 -15 6 -3 10 -3 16 2 2 3 1 6 -1 5 -2 5 -6 4 -11 12 -30 20 -6 7 -7 17 -6 28 -4 10 -4 6M1268 3254l-6 0 -5 -3 -2 -5 -2 -7 0 -7 3 -6 4 -5 4 -2 5 1 4 4 3 4 1 6 0 6 -2 7 -3 5 -4 2M464 3527l-11 1 -9 -3 0 -65 6 -11 7 -11 8 -8 9 -8 10 -7 14 -7 34 -13 22 -11 12 -5 10 -1 8 1 6 4 7 7 8 -14 6 -10 9 -8 12 -9 13 -6 24 -7 35 -20 10 -4 18 -6 22 -17 14 -7 8 -2 6 -1 4 2 3 3 2 6 1 8 0 16 -2 10 -3 10 -5 7 -12 13 -16 8 -20 6 -18 13 -16 7 -13 4 -19 5 -22 9 -24 9 -7 2 -6 -1 -5 -2 -6 -4 -1 0 -14 26 -15 15 -12 9 -20 14 -28 25 -18 14 -16 10 -10 4M536 3326l-5 -2 -3 -2 -2 -5 -1 -6 1 -6 2 -5 3 -2 5 -2 4 1 4 3 2 5 1 6 -1 6 -2 5 -4 3 -4 1M1284 3324l-3 -1 -1 -1 -2 -5 1 -7 3 -4 4 2 2 6 -1 7 -3 3M1316 3324l-4 0 -1 -2 -2 -5 1 -7 2 -4 2 0 3 2 2 6 -1 6 -2 4M772 3459l-2 0 -3 -3 -3 -7 1 -9 3 -4 3 -1 3 1 2 2 2 8 -1 8 -2 2 -3 3M1840 3454l-2 1 -2 -1 -2 -2 -2 -4 1 -8 2 -3 3 -2 2 1 2 2 2 5 0 6 -4 5M1870 3454l-2 0 -2 -1 -2 -3 -1 -4 1 -7 2 -2 3 -2 3 2 1 1 2 6 -1 6 -4 4M638 3525l-5 0 -3 -1 -3 -3 -2 -5 0 -4 2 -4 3 -3 3 -2 5 1 2 1 3 4 1 3 -1 8 -3 3 -2 2M1929 2611l-5 -1 -4 -2 -4 -6 -1 -5 1 -18 5 -15 7 -10 7 -8 25 0 1 8 0 18 -1 7 -3 7 -6 10 -7 7 -8 5 -7 3M1698 2744l-12 1 -7 -1 -5 -4 -1 -6 0 -18 2 -10 8 -12 11 -10 10 -8 20 -10 20 -22 17 -13 12 -8 18 -10 21 -15 15 -10 13 -5 18 -3 17 -10 11 -4 10 0 6 2 4 4 4 7 2 6 0 13 -2 10 -4 12 -5 10 -7 9 -8 8 -11 7 -18 9 -19 18 -14 11 -14 8 -18 8 -25 15 -11 5 -12 4 -22 3 -15 6 -9 3M1550 2812l-5 -1 -3 -4 0 -17 1 -6 2 -6 8 -10 13 -10 20 -12 4 -1 3 1 2 1 4 4 8 -13 5 -6 10 -8 12 -8 7 -3 6 -2 5 1 3 2 2 3 1 6 -1 18 -2 7 -5 8 -8 5 -12 4 -16 8 -8 0 -6 -4 -1 0 -7 14 -10 11 -18 12 -8 4 -6 2M1554 2870l-4 1 -4 -1 -2 -3 -1 -6 0 -12 1 -6 4 -7 4 -6 10 -8 12 -8 8 -4 11 -3 3 -1 14 -13 13 -10 12 -5 3 0 3 1 2 3 1 4 0 16 -3 10 -6 7 -7 7 -12 8 -10 4 -12 3 -10 11 -9 7 -12 7 -9 4M1460 2870l-4 0 -2 -3 -1 -13 2 -10 7 -10 11 -10 13 -10 12 -5 4 0 2 1 3 4 0 14 -2 6 -4 8 -9 8 -10 9 -12 7 -10 4M1467 2921l-6 0 -2 -1 -1 -4 0 -16 4 -9 8 -9 14 -9 10 -4 3 -1 3 2 2 4 0 12 -1 6 -3 6 -6 8 -7 6 -11 6 -7 3M1340 2975l-4 0 -2 -1 -2 -5 -1 -17 4 -10 5 -8 7 -6 11 -5 4 -1 3 1 3 4 3 12 0 5 -2 6 -7 8 -7 8 -8 6 -7 3M1286 3013l-5 0 -5 -1 -2 -2 -2 -4 -1 -6 0 -12 1 -12 5 -8 9 -9 8 -5 5 -1 4 1 5 3 2 6 0 15 -1 9 -3 7 -6 8 -7 7 -7 4M1110 3098l-6 1 -3 -1 -1 -2 -2 -4 1 -12 1 -6 3 -6 5 -8 6 -6 8 -6 18 -10 16 -12 8 -3 8 -1 13 3 3 -2 15 -15 9 -7 9 -3 3 0 3 2 2 8 0 20 -4 8 -7 8 -8 6 -8 3 -5 0 -11 -1 -2 2 -11 12 -9 7 -9 4 -15 6 -18 11 -12 4M1052 3137l-6 1 -4 -2 -1 -12 3 -10 6 -8 9 -9 11 -7 6 0 2 2 1 4 0 11 -3 7 -3 6 -7 8 -8 6 -6 3M993 3173l-6 1 -2 -2 -1 -11 3 -7 6 -8 8 -6 7 -3 3 -1 3 1 2 3 0 6 0 6 -2 4 -8 10 -6 4 -7 3M894 3283l-3 0 -5 -3 -4 -2 -18 3 -4 -1 -4 -2 -6 -6 -4 -3 -6 -2 -21 -1 -13 -3 -4 -2 -3 -3 -1 -4 2 -3 4 -4 20 -13 11 -4 17 -5 6 -3 6 -6 10 -18 11 -5 6 -5 3 0 8 2 18 1 11 -15 7 -6 8 -3 6 0 4 3 1 3 0 12 -2 6 -4 6 -6 5 -15 9 -9 2 -3 4 -11 23 -6 30 -4 9 -3 4M1268 3251l-5 1 -4 -2 -3 -5 -1 -6 0 -6 2 -5 3 -4 4 -2 4 1 3 3 3 4 1 4 0 6 -1 5 -3 5 -3 1M622 3412l-7 -1 -2 -1 -3 -3 -1 -7 0 -16 1 -7 4 -7 5 -8 8 -7 6 -4 11 -5 20 -5 6 -2 23 -15 13 -7 10 -3 16 -2 4 -4 16 -14 13 -8 11 -2 4 1 2 2 3 5 1 7 0 18 -1 9 -3 8 -3 6 -5 6 -6 6 -8 4 -7 4 -19 3 -18 15 -16 8 -13 4 -18 2 -24 12 -23 8M538 3323l-4 0 -3 -1 -3 -5 -1 -5 0 -4 2 -4 2 -4 5 -2 2 1 4 2 2 4 1 5 0 4 -2 4 -5 5M470 3520l-10 0 -5 -4 -4 -6 -1 -10 1 -24 2 -15 5 -13 9 -14 11 -10 16 -11 14 -7 24 -7 24 -14 8 -2 8 -2 6 1 3 2 3 4 2 6 0 24 -4 12 -8 12 -7 7 -7 6 -26 16 -24 23 -14 11 -14 10 -12 5M772 3456l-2 0 -2 -1 -2 -3 -1 -4 2 -6 1 -3 3 -1 4 2 2 6 -1 6 -4 4M1936 2602l-2 0 -4 0 -3 -5 -1 -11 1 -18 2 -7 5 -7 7 -6 6 -1 4 2 2 6 0 17 0 8 -3 8 -3 5 -5 5 -6 4M1698 2741l-9 1 -6 -1 -4 -5 -1 -6 0 -18 3 -8 5 -10 9 -9 11 -7 16 -6 4 -4 16 -18 14 -14 16 -10 19 -9 19 -16 14 -9 9 -4 7 -2 17 0 5 -2 12 -10 10 -4 9 0 3 2 3 2 2 5 2 7 0 20 -1 10 -3 8 -3 8 -6 7 -6 6 -10 6 -12 4 -5 2 -19 21 -16 13 -12 6 -19 8 -25 17 -11 5 -11 3 -7 0 -12 -1 -3 1 -15 8 -9 3M1616 2771l-7 0 -3 -3 0 -3 0 -17 4 -10 7 -9 13 -10 12 -5 5 -1 3 1 3 4 1 8 0 16 -3 10 -4 4 -5 3 -26 12M1556 2809l-5 0 -3 0 -2 -2 -1 -3 0 -18 4 -10 8 -10 11 -8 16 -9 3 -1 3 1 2 1 1 4 1 12 -1 10 -3 7 -6 7 -8 7 -12 8 -8 4M1552 2869l-4 -2 -1 -3 -1 -16 3 -11 7 -9 10 -8 12 -7 8 -2 8 1 15 -17 14 -10 11 -5 2 0 3 2 2 2 0 5 0 17 -3 7 -6 7 -10 9 -11 5 -6 2 -9 -1 -2 1 -9 13 -9 8 -13 8 -11 4M1464 2866l-3 -1 -1 -1 -2 -6 1 -12 4 -10 8 -10 11 -7 10 -6 7 0 2 1 1 4 0 10 -1 8 -3 6 -7 7 -9 8 -10 6 -8 3M1473 2917l-6 1 -3 -2 -1 -1 -1 -13 3 -10 5 -7 9 -7 9 -5 4 -1 3 1 2 3 1 8 -1 8 -2 6 -4 6 -5 5 -13 8M1346 2966l-4 0 -2 -4 0 -12 1 -6 3 -6 3 -4 5 -3 4 0 3 2 1 3 1 9 -1 6 -6 9 -4 4 -4 2M1287 3007l-3 0 -3 -1 -3 -6 -1 -14 1 -10 3 -6 5 -6 6 -3 6 -1 2 2 2 6 1 13 -1 7 -2 6 -4 6 -4 4 -5 3M1204 3047l-4 0 -3 -5 0 -13 1 -7 3 -6 6 -6 7 -5 4 0 3 2 1 5 0 12 -1 8 -2 4 -4 6 -5 4 -6 1M1114 3092l-4 0 -2 -1 -1 -2 -1 -5 1 -13 3 -6 3 -5 9 -7 16 -7 18 -17 10 -3 4 1 3 1 2 2 1 5 0 15 -2 8 -5 7 -5 4 -6 3 -20 5 -14 11 -10 4M1058 3128l-5 1 -1 -2 -1 -8 1 -6 2 -6 5 -5 5 -2 2 -1 2 2 1 3 -1 12 -4 8 -6 4M933 3205l-3 -1 -1 -4 0 -10 1 -6 3 -5 5 -5 6 -3 4 1 2 2 1 4 0 8 -2 6 -3 5 -3 3 -10 5M892 3278l-8 -3 -16 3 -6 -1 -3 -2 -5 -8 -5 -4 -6 -3 -12 -2 -3 -2 0 -2 3 -4 13 -11 16 -15 15 -22 16 -10 3 -1 14 2 3 1 2 4 1 14 -2 10 -8 24 -4 21 -4 8 -4 3M1266 3248l-3 0 -3 -3 -2 -3 -1 -4 2 -8 3 -3 2 -1 4 0 2 2 2 4 1 4 -2 8 -2 3 -3 1M630 3406l-8 1 -4 -3 -2 -4 0 -10 0 -12 2 -7 5 -7 7 -8 8 -4 8 -4 23 -2 23 -18 8 -5 8 -3 6 -2 6 0 5 2 7 4 3 -3 10 -16 11 -11 6 -3 6 -2 6 0 3 3 2 4 1 6 0 16 -1 10 -4 12 -9 9 -8 5 -10 2 -6 -1 -8 -5 -2 1 -12 19 -7 6 -7 4 -8 4 -10 2 -19 0 -21 14 -8 3 -10 3M537 3320l-3 0 -2 -2 -3 -6 1 -4 1 -3 1 -2 4 -1 4 2 3 6 -1 7 -2 2 -3 1M472 3512l-6 -1 -4 -5 -2 -6 0 -10 1 -23 2 -12 5 -12 5 -9 13 -12 16 -9 11 -4 19 -5 20 -13 9 -4 9 -1 6 2 3 4 1 4 0 23 -3 12 -6 11 -13 11 -8 4 -10 5 -6 3 -22 23 -16 13 -13 8 -11 3M771 3452l-2 -2 -1 -2 1 -5 2 -1 2 1 1 5 -1 2 -2 2M1695 2738l-8 -2 -3 -2 -1 -4 0 -20 1 -5 3 -6 7 -9 8 -6 8 -3 10 0 4 -2 15 -23 16 -16 15 -10 21 -9 21 -18 16 -10 8 -3 8 0 13 6 3 -1 11 -13 7 -5 9 -2 5 1 2 3 2 5 1 7 0 18 -1 9 -1 6 -3 7 -4 5 -6 5 -6 4 -4 1 -14 0 -2 3 -14 21 -14 14 -16 10 -21 7 -18 14 -9 5 -12 5 -10 2 -8 -1 -9 -5 -3 0 -15 13 -6 3 -6 1M1620 2768l-8 1 -1 -1 -2 -3 -1 -17 4 -10 7 -9 10 -8 11 -5 4 0 3 0 3 4 1 6 0 15 -2 9 -3 4 -5 4 -21 10M1554 2807l-4 -2 -2 -5 0 -16 1 -4 3 -6 6 -8 11 -8 12 -6 6 0 2 2 1 4 1 10 -1 9 -3 7 -6 8 -9 7 -10 6 -8 2M1611 2833l-6 0 -2 -1 -2 -2 -1 -16 2 -8 6 -8 9 -8 11 -6 4 -1 3 0 3 3 1 6 -1 14 -2 7 -5 6 -5 5 -8 5 -7 4M1558 2866l-6 0 -2 -2 -1 -3 0 -17 3 -8 7 -10 11 -8 11 -4 6 0 3 4 1 8 -1 10 -3 7 -5 7 -7 6 -9 6 -8 4M1473 2860l-6 1 -3 -3 -1 -14 3 -7 5 -7 9 -8 8 -4 6 -1 2 2 1 5 0 10 -2 6 -4 6 -4 4 -8 6 -6 4M1474 2912l-4 0 -2 -3 0 -12 2 -6 4 -6 5 -4 6 -3 5 0 1 1 1 5 0 8 -1 6 -3 5 -4 4 -10 5M1160 3065l-6 1 -4 -2 0 -5 0 -9 1 -6 4 -6 3 -3 4 -1 4 1 1 3 0 15 -2 7 -5 5M873 3275l-6 0 -4 -1 -3 -4 -3 -7 -3 -7 0 -6 1 -6 2 -10 13 -22 6 -8 16 -10 5 0 7 1 4 2 2 5 0 19 -2 9 -10 36 -2 4 -4 3 -7 -1 -12 3M1266 3242l-3 -1 -1 -3 0 -4 2 -2 3 1 2 3 -1 4 -2 2M754 3350l-6 -1 -3 -5 -1 -14 1 -13 4 -9 5 -7 8 -5 6 -1 4 3 2 6 0 18 -1 8 -3 8 -4 5 -6 5 -6 2M537 3315l-3 -1 -1 -2 0 -2 3 -3 1 0 2 3 0 2 -2 3M692 3382l-5 0 -5 -1 -3 -3 -2 -2 -1 -6 0 -11 2 -11 7 -10 11 -9 10 -5 5 -1 5 1 3 4 2 7 0 18 -2 9 -5 8 -6 5 -8 4 -8 3M638 3400l-10 1 -2 -1 -2 -3 -1 -5 0 -9 1 -12 4 -8 8 -6 10 -4 8 1 4 2 2 6 1 12 -2 8 -3 6 -5 5 -6 4 -7 3M484 3502l-6 1 -4 -2 -3 -4 -2 -7 1 -22 1 -13 3 -11 5 -8 10 -10 12 -8 7 -2 8 -2 16 1 5 -3 10 -11 8 -7 9 -3 6 1 3 3 1 5 1 20 -3 11 -5 9 -6 6 -7 5 -6 1 -10 1 -4 2 -17 21 -9 9 -12 10 -12 7M1878 2637l-3 0 -3 0 -2 -3 -2 -2 -1 -10 1 -18 1 -7 4 -7 5 -5 6 -2 4 2 2 6 0 25 -1 6 -3 6 -4 5 -4 4M1748 2723l-8 0 -5 -3 -3 -4 -2 -8 0 -18 1 -10 4 -12 6 -11 11 -11 12 -10 9 -4 13 -4 5 -2 18 -18 12 -8 7 -4 6 -1 5 0 5 1 4 6 2 7 0 29 -3 16 -4 9 -5 7 -9 10 -11 8 -10 4 -17 4 -24 20 -11 5 -8 2M1701 2731l-6 1 -3 -2 -2 -2 -1 -6 1 -14 2 -8 4 -6 5 -4 6 -1 3 1 2 4 0 22 -1 4 -3 5 -3 4 -4 2M1618 2767l-4 -1 -2 -2 -1 -4 0 -14 4 -10 6 -7 9 -7 10 -4 2 0 4 1 2 4 1 6 0 13 -3 8 -3 4 -5 4 -20 9M1558 2804l-5 0 -1 -2 -1 -2 -1 -16 3 -8 6 -8 9 -7 10 -6 6 0 3 3 1 7 -1 12 -2 7 -5 6 -6 6 -8 5 -8 3M1614 2830l-6 0 -2 0 -2 -4 0 -13 1 -7 5 -8 7 -6 9 -5 4 -1 3 0 2 3 1 5 0 12 -2 6 -4 6 -4 4 -12 8M1562 2863l-6 0 -2 -1 -2 -2 0 -16 2 -8 6 -8 9 -7 9 -5 3 0 3 1 2 2 1 6 0 11 -2 7 -4 6 -6 6 -7 5 -6 3M1476 2854l-4 0 -2 -2 0 -9 1 -6 3 -6 5 -4 6 -3 3 0 2 1 0 3 0 9 -1 5 -5 7 -8 5M1480 2900l-1 1 -1 -4 1 -6 1 -2 2 1 0 4 0 4 -2 2M876 3272l-4 1 -5 -1 -3 -3 -2 -5 -2 -7 0 -9 0 -9 2 -7 7 -16 7 -9 16 -10 5 -1 5 1 2 2 3 4 1 18 -2 11 -8 25 -2 7 -4 3 -16 5M759 3338l-3 0 -2 -3 0 -17 2 -7 3 -3 3 -1 2 1 1 3 0 17 -1 6 -5 4M698 3374l-7 0 -3 -2 -1 -2 -1 -10 1 -12 3 -7 6 -6 6 -3 6 -1 3 3 2 4 0 14 -1 7 -2 5 -3 4 -5 4 -4 2M642 3389l-4 1 -3 -1 -1 -3 -1 -4 2 -12 3 -4 4 -3 3 1 1 2 1 10 -1 7 -1 3 -3 3M556 3440l-4 1 -3 -4 -1 -6 1 -15 2 -6 3 -5 4 -4 4 0 3 1 2 5 0 18 -3 9 -3 3 -5 3M492 3490l-4 1 -4 -1 -2 -2 -2 -4 0 -23 3 -13 5 -10 7 -8 9 -5 4 -1 5 1 4 3 2 6 1 16 -2 11 -4 9 -6 8 -8 7 -8 5M1750 2719l-6 0 -4 -3 -3 -5 -1 -6 0 -18 0 -11 4 -10 5 -9 10 -10 12 -9 7 -2 12 1 5 -2 16 -20 7 -6 7 -6 11 -3 4 0 3 1 3 5 2 6 0 28 -2 16 -3 7 -4 6 -9 10 -12 7 -8 2 -12 -2 -4 1 -12 15 -8 8 -9 5 -11 4M1622 2764l-5 -1 -2 -4 -1 -13 2 -8 6 -8 7 -6 7 -3 6 0 3 3 1 6 0 12 -2 8 -4 4 -4 3 -14 7M1562 2801l-5 1 -1 -1 -2 -3 -1 -14 2 -8 5 -6 8 -7 7 -4 6 -1 3 2 1 5 0 12 -2 6 -4 6 -4 5 -7 5 -6 2M1614 2827l-4 -1 -2 -2 -1 -12 2 -8 4 -6 5 -4 6 -4 5 -1 2 1 1 5 0 11 -1 6 -2 4 -4 4 -5 4 -6 3M1563 2860l-5 0 -1 0 -2 -4 0 -13 2 -7 4 -6 6 -6 8 -4 5 -1 2 1 1 5 0 12 -1 6 -3 5 -4 4 -6 5 -6 3M878 3269l-5 1 -3 -1 -3 -2 -2 -4 -1 -7 0 -12 2 -16 5 -12 7 -7 13 -9 3 -1 4 0 5 3 2 7 0 17 -2 13 -5 13 -4 8 -4 4 -12 5M1812 2681l-4 0 -4 -1 -3 -4 -2 -4 -1 -21 2 -13 4 -12 8 -11 10 -7 5 -2 5 0 4 4 2 8 1 24 -2 12 -3 9 -7 9 -7 6 -8 3M1756 2713l-4 0 -4 0 -4 -2 -2 -5 -1 -6 0 -13 2 -15 4 -10 8 -11 11 -7 4 -1 4 0 5 3 2 8 1 21 -2 11 -3 8 -5 8 -8 7 -8 4M1626 2760l-4 0 -4 -2 0 -12 1 -8 4 -6 6 -5 6 -3 4 0 3 4 0 4 0 10 -1 6 -5 6 -10 6M1563 2798l-5 -1 -1 -3 0 -12 1 -6 4 -6 5 -5 7 -3 4 -1 2 3 1 2 0 11 -1 6 -2 5 -4 4 -6 4 -5 2M1616 2822l-3 -2 -1 -2 0 -10 1 -4 3 -4 3 -4 4 -2 3 0 1 2 1 4 0 8 -1 5 -5 6 -6 3M1568 2855l-6 1 -3 -2 0 -11 0 -6 3 -5 4 -5 6 -3 4 -1 2 2 1 3 0 14 -4 7 -7 6M879 3266l-5 1 -2 -1 -4 -6 -1 -20 2 -13 4 -9 5 -6 13 -9 3 -1 3 0 3 2 3 8 0 15 -2 12 -4 10 -5 8 -7 6 -6 3M1818 2671l-3 1 -3 -1 -2 -2 -2 -3 -1 -9 1 -19 2 -8 4 -8 6 -5 6 -2 2 2 3 5 0 28 -1 6 -3 7 -5 5 -4 3M1756 2705l-4 -1 -3 -5 -1 -15 1 -12 3 -8 4 -6 5 -4 6 -2 3 2 2 6 1 16 -1 11 -2 6 -4 6 -5 4 -5 2M1629 2755l-3 0 -3 -1 -1 -6 1 -8 2 -5 3 -3 4 -3 3 0 2 1 1 4 -1 12 -2 4 -6 5M1568 2793l-4 0 -1 0 -1 -3 0 -13 2 -5 3 -2 3 -3 4 -1 1 1 1 3 0 12 -2 6 -6 5M1569 2848l-1 1 -2 -1 -1 -10 3 -5 2 -2 2 0 1 1 0 8 -1 5 -3 3M880 3262l-2 1 -4 -1 -2 -2 -1 -3 -1 -17 1 -12 3 -7 5 -6 11 -8 2 -1 4 0 2 3 2 7 0 12 -1 11 -3 7 -4 6 -7 7 -5 3M882 3256l-4 0 -3 -4 -1 -13 1 -11 3 -5 2 -4 8 -6 4 -1 3 2 1 4 1 10 -1 10 -2 5 -3 5 -5 6 -4 2"/>
<path fill="#ffc8f0" fill-rule="evenodd" stroke="none" d="M876 3206l-13 -10 -1 -6 3 -6 -4 -22 2 -52 3 -24 -2 -24 0 -20 4 -34 -5 -58 4 -86 -4 -84 7 -39 -1 -13 3 -12 -5 -29 3 -33 0 -33 -9 -60 3 -15 6 -1 8 1 3 12 -2 52 4 29 2 42 -2 18 -7 19 -2 20 9 30 2 14 -3 68 2 46 1 49 -3 61 4 24 1 18 -3 36 2 23 -2 31 4 26 -4 18 12 5 1 5 -2 5 -15 5 -4 4M1497 2575l-6 -1 -4 -7 2 -7 5 -5 5 1 3 6 0 8 -5 5M1476 2578l-6 -3 -2 -7 1 -7 5 -4 6 3 3 6 -2 7 -5 5M1424 2615l-6 -3 -2 -10 2 -10 2 -3 4 0 4 3 2 10 -1 8 -5 5M1586 2732l-17 -2 -17 2 -16 -6 -15 6 -18 -3 -15 3 -8 -2 -6 -5 -4 -8 -3 -9 -2 -20 4 -16 13 -20 -10 -6 -7 -7 -3 -7 -2 -11 2 -15 8 -12 9 -4 15 2 14 -2 13 2 12 -2 7 2 6 4 6 8 2 11 0 12 -3 9 -5 7 -6 5 -20 3 14 9 5 0 13 -4 17 2 17 -3 13 4 15 -4 8 3 6 5 7 13 3 16 -2 16 -5 14 -7 6 -6 3 -6 1 -13 -3 -13 3M1400 2620l-4 0 -2 -1 -4 -10 1 -11 5 -4 6 3 2 7 -1 10 -3 6M1317 2674l-9 1 -27 -1 -9 -5 -8 -9 -6 -16 1 -18 6 -16 10 -9 12 -4 29 1 10 5 8 9 6 18 -2 20 -8 15 -6 5 -7 4M1617 2644l-6 1 -9 -6 -10 6 -5 -1 -3 -2 -4 -8 -2 -8 2 -10 4 -7 8 -2 10 5 10 -5 8 3 4 8 1 9 -2 9 -6 8M742 2655l-4 -4 -2 -11 2 -11 4 -4 4 5 2 10 -1 10 -5 5M1507 2656l3 -4 -5 -1 -9 -2 -5 2 3 3 6 2 7 0M1886 2881l-8 1 -14 -2 -14 2 -16 -2 -14 2 -16 -2 -14 2 -16 -2 -14 2 -16 -2 -13 2 -9 -2 -9 -8 -5 -14 -1 -14 5 -20 -4 -3 -10 0 -8 -3 -6 -6 -5 -10 -2 -16 4 -15 8 -10 9 -3 16 1 17 -2 13 2 17 -2 13 2 16 -2 24 0 8 2 8 6 5 7 5 16 8 -8 4 -2 8 1 9 8 9 -9 8 0 6 6 2 11 -2 9 -8 10 0 2 9 8 5 7 4 9 1 10 -1 11 -4 9 -6 7 -6 4M1846 2818l5 -4 -11 -17 -6 11 -1 8 5 3 8 -1M1871 2819l8 -5 -10 -13 -13 13 0 2 7 3 8 0M1924 2925l-6 -1 -8 -5 -10 6 -6 -1 -6 -6 0 -6 1 -4 3 -4 4 -3 6 1 8 5 10 -6 6 1 4 4 2 8 -2 7 -6 4M1872 3013l-38 0 -10 -5 -9 -9 -6 -15 0 -18 6 -15 11 -10 13 -5 30 1 12 4 10 10 4 9 2 9 -2 19 -3 10 -6 7 -6 5 -8 3M572 2995l-6 0 -5 -7 1 -8 5 -5 5 1 3 6 0 6 -3 7M1204 2996l-6 1 -6 -3 -2 -6 2 -5 8 -2 8 3 2 3 0 5 -6 4M945 3015l-1 0 -2 -2 -2 -11 1 -10 3 -7 2 4 2 9 -1 10 -2 7M532 3054l-6 0 -5 -4 -4 -6 -2 -9 0 -9 3 -9 4 -6 6 -3 6 1 4 4 4 7 2 9 -3 15 -4 6 -5 4M568 3054l-6 0 -5 -4 -5 -8 -2 -8 1 -10 3 -8 4 -5 6 -3 4 0 6 4 3 6 2 10 -2 16 -4 6 -5 4M782 3054l-6 0 -5 -3 -9 -14 -2 0 -5 10 -5 6 -6 1 -6 -2 -5 -8 -3 -12 1 -10 5 -10 6 -4 6 1 5 3 7 12 2 0 6 -10 4 -5 6 -1 7 3 6 11 1 12 -4 13 -6 7M945 3065l-1 1 -3 -6 -2 -14 2 -12 4 -7 6 6 2 9 -1 8 -7 15M1252 3070l-14 0 -7 -2 -2 -3 2 -3 5 -2 15 0 6 2 2 3 -2 3 -5 2M945 3115l-1 0 -2 -2 -2 -11 1 -12 3 -5 2 4 2 7 -1 11 -2 8M945 3215l-1 0 -2 -2 -2 -10 1 -12 3 -6 2 4 2 8 -1 11 -2 7M1234 3256l-34 -4 -10 -3 -11 -7 -2 -4 0 -5 7 -7 13 -6 36 -3 7 1 6 3 5 6 2 12 -2 6 -5 6 -6 3 -6 2M586 3254l-109 -1 -6 -2 -5 -4 -2 -5 0 -6 2 -6 5 -5 6 -2 12 0 162 0 11 3 4 4 2 4 0 6 -2 6 -3 4 -6 2 -71 2M878 3554l-5 -2 -3 -5 -4 -20 -2 -77 4 -34 -8 -51 2 -17 4 -24 -4 -20 -2 -24 7 -35 6 -19 3 -2 3 5 6 17 1 22 10 6 1 4 -1 5 -14 5 -5 32 5 24 2 18 -3 54 6 30 -1 12 -6 24 6 24 2 16 -3 23 -3 6 -4 3M594 3337l-12 1 -20 -2 -10 -4 -7 -6 -6 -10 -1 -12 2 -11 8 -10 12 -6 18 -1 19 4 12 8 4 6 3 8 -1 15 -7 13 -6 4 -8 3M1864 3325l-8 0 -10 -7 -6 4 -2 -3 -3 -8 -1 -13 2 -12 3 -6 3 0 2 6 4 23 8 -4 6 0 6 2 3 4 0 7 -7 7M1228 3338l-10 1 -10 -3 -9 -8 -4 -11 -1 -12 4 -11 6 -7 11 -6 11 0 8 3 8 8 5 10 1 12 -3 10 -7 9 -10 5M945 3415l-1 0 -2 -2 -2 -11 1 -12 3 -5 2 4 2 7 -1 11 -2 8M783 3430l-7 -1 -5 -4 -1 -5 0 -6 2 -4 6 -5 8 2 4 7 -1 10 -6 6M786 3491l-9 -1 -7 -5 -5 -6 -5 -15 -2 -2 -14 7 -9 2 -9 -2 -9 -7 -6 -10 -2 -12 3 -12 7 -10 11 -6 12 1 7 3 6 6 10 22 17 -6 7 1 7 6 7 11 0 16 -2 7 -4 6 -5 4 -6 2M1228 3470l-10 1 -10 -3 -9 -7 -6 -11 -1 -12 3 -10 8 -9 11 -5 12 -1 10 4 8 7 5 10 1 12 -3 10 -8 9 -11 5M1316 3452l-5 1 -3 -1 -5 -9 2 -11 3 -4 3 -1 6 2 4 8 -1 9 -4 6M1284 3458l-3 0 -4 -3 -3 -9 2 -10 6 -4 4 0 3 4 3 8 -2 10 -6 4M945 3465l-1 0 -2 -2 -2 -11 1 -10 3 -7 2 4 2 9 -1 10 -2 7M945 3515l-1 0 -2 -2 -2 -10 1 -12 3 -6 2 4 2 8 -1 11 -2 7M1218 3548l-8 -1 -4 -7 1 -7 7 -5 7 1 5 7 -1 8 -7 4M1284 3551l-6 -1 -4 -8 2 -8 6 -3 7 2 3 7 -2 8 -6 3M1314 3551l-8 -2 -3 -7 2 -8 6 -3 6 1 4 7 -1 7 -6 5"/>
<path fill="#ffa6e8" fill-rule="evenodd" stroke="none" d="M872 2564l0 -2 0 2M1533 2639l-12 -2 -13 2 -14 -2 -12 2 -6 -1 -6 -5 -3 -7 -1 -10 2 -8 5 -6 6 -3 13 3 14 -3 14 3 13 -3 6 2 5 4 3 5 1 14 -6 11 -4 3 -5 1M1316 2663l-30 1 -8 -3 -6 -5 -5 -11 -1 -13 4 -12 6 -8 11 -4 24 0 9 3 6 5 6 12 0 16 -6 12 -4 4 -6 3M1592 2633l-5 -1 -2 -6 1 -6 4 -3 4 3 2 4 -1 6 -3 3M1614 2633l-4 -1 -3 -6 2 -6 3 -3 4 1 2 6 -1 6 -3 3M1618 2720l-6 1 -13 -4 -13 4 -17 -3 -15 3 -6 -2 -12 -7 -15 9 -6 0 -12 -4 -11 3 -6 1 -7 -5 -5 -8 -2 -12 1 -12 6 -12 5 -4 4 -1 15 4 12 -4 6 0 15 9 12 -7 6 -2 15 3 17 -3 13 4 12 -4 6 0 6 4 4 5 4 17 -3 17 -4 6 -6 4M1816 2813l-25 1 -17 -5 -13 4 -15 -4 -15 4 -17 -4 -16 2 -6 -3 -6 -7 -2 -9 0 -9 6 -12 10 -4 14 2 17 -3 13 3 17 -3 13 3 17 -3 25 0 6 3 5 5 3 8 1 7 -1 7 -3 8 -5 6 -6 3M874 2796l-1 0 -1 -4 -2 -8 0 -7 3 -4 3 3 1 6 -3 14M1857 2801l-5 0 -2 -5 0 -6 4 -4 4 2 2 4 0 5 -3 4M1884 2801l-4 0 -3 -5 0 -6 4 -3 4 1 2 4 0 5 -3 4M1884 2872l-6 0 -14 -2 -14 3 -16 -3 -14 3 -16 -3 -14 3 -16 -3 -14 3 -16 -3 -16 2 -6 -3 -6 -7 -2 -7 0 -9 5 -13 5 -4 6 -3 14 4 16 -4 14 4 16 -5 14 4 16 -3 14 4 16 -3 14 3 17 -2 6 2 4 4 4 6 1 8 0 7 -2 7 -5 6 -5 4M874 2958l-1 -1 -1 -3 -1 -8 1 -7 2 -3 3 10 -3 12M1870 3002l-32 1 -8 -3 -6 -5 -6 -11 -1 -12 3 -10 7 -10 12 -5 25 0 11 2 7 7 6 13 0 15 -7 12 -11 6M1203 2992l-6 0 -1 -2 0 -3 4 -2 3 1 2 2 -2 4M530 3044l-6 -3 -3 -11 3 -9 6 -3 5 4 2 8 -2 10 -5 4M566 3044l-6 -3 -3 -11 3 -9 6 -3 5 4 2 8 -2 10 -5 4M746 3044l-6 -3 -4 -9 2 -9 6 -5 6 3 3 9 -2 10 -5 4M778 3044l-6 -3 -2 -11 2 -9 6 -3 6 4 2 8 -2 10 -6 4M876 3072l-3 -2 -1 -4 -2 -13 2 -18 1 -5 3 -1 3 7 1 17 -1 12 -3 7M945 3053l-1 -1 -2 -6 1 -6 2 -4 3 1 1 5 -1 6 -3 5M878 3179l-5 1 -3 -3 -3 -5 -1 -8 5 -24 -1 -32 2 -7 2 -3 4 2 1 7 -3 33 6 14 2 8 -2 10 -4 7M888 3197l-10 1 -8 -1 -3 -3 -1 -4 3 -4 5 -2 16 3 2 3 0 4 -4 3M1238 3250l-41 -4 -9 -6 -2 -6 5 -5 9 -4 38 -3 7 5 3 9 -3 9 -7 5M872 3287l-7 -5 -1 -6 2 -3 5 -5 3 -11 3 3 1 9 13 5 1 6 -2 3 -18 4M1222 3331l-7 -1 -6 -4 -5 -6 -2 -9 1 -7 4 -8 5 -4 8 -3 7 1 6 4 5 6 2 8 0 8 -4 7 -6 5 -8 3M591 3320l-17 1 -13 -3 -4 -4 -3 -4 1 -10 6 -5 7 -2 16 0 8 3 6 4 2 8 -2 8 -7 4M873 3383l-4 -5 -2 -10 1 -14 4 -6 3 4 2 13 -1 13 -3 5M780 3418l0 -2 0 2M740 3460l-6 0 -7 -2 -5 -5 -3 -7 -1 -8 2 -7 5 -6 7 -3 6 0 6 2 5 6 3 7 0 7 -2 6 -4 6 -6 4M1224 3463l-8 -1 -7 -3 -6 -7 -3 -8 1 -7 3 -7 6 -6 8 -3 8 1 7 3 6 6 2 7 0 10 -3 7 -6 5 -8 3M876 3460l-3 -2 -2 -9 1 -9 4 -4 3 3 2 9 -2 8 -3 4M786 3481l-6 0 -4 -3 -4 -5 -2 -6 0 -6 2 -6 5 -5 5 -1 4 0 4 3 4 4 2 6 -2 12 -8 7M878 3532l-3 -2 -1 -6 0 -8 2 -4 3 3 1 6 0 7 -2 4"/>
<path fill="none" stroke="#e800c4" stroke-width="1.60" stroke-linejoin="round" d="M876 3206l-2 0 -3 -4 -5 -3 -3 -3 -1 -6 3 -6 -3 -12 -1 -10 2 -18 -1 -18 1 -16 3 -24 -2 -24 0 -20 4 -34 -5 -58 3 -35 1 -51 -4 -84 1 -12 6 -27 -1 -13 3 -12 -4 -18 -1 -11 3 -33 0 -33 -4 -29 -4 -20 -1 -11 1 -7 2 -8 6 -1 8 1 3 12 1 10 -3 42 4 29 2 42 -2 18 -7 19 -2 20 1 6 8 24 2 14 -3 68 2 46 1 49 -3 61 4 24 1 18 -1 17 -2 19 2 23 -2 31 3 18 1 8 -1 8 -3 10 1 2 11 3 1 3 0 2 -1 4 -1 1 -15 5 -4 4M1497 2575l-3 1 -3 -2 -2 -2 -2 -5 0 -3 2 -4 2 -4 3 -1 3 0 2 1 3 6 0 8 -2 3 -3 2M1476 2578l-3 -1 -3 -2 -2 -7 1 -7 3 -3 2 -1 4 0 2 3 3 6 -2 7 -2 3 -3 2M1424 2615l-4 0 -2 -3 -2 -4 0 -6 2 -10 2 -3 4 0 2 1 2 2 2 10 -1 8 -3 4 -2 1M1586 2732l-17 -2 -17 2 -16 -6 -15 6 -6 0 -12 -3 -15 3 -8 -2 -6 -5 -4 -8 -3 -9 -2 -10 0 -10 1 -7 3 -9 4 -8 8 -10 1 -2 -10 -6 -7 -7 -3 -7 -2 -11 0 -7 2 -8 4 -7 4 -5 4 -3 5 -1 15 2 14 -2 13 2 12 -2 7 2 6 4 6 8 2 11 0 12 -3 9 -5 7 -6 5 -7 2 -13 1 1 1 13 8 5 0 9 -4 4 0 17 2 17 -3 13 4 15 -4 8 3 6 5 4 6 3 7 3 16 -2 16 -2 8 -3 6 -7 6 -6 3 -6 1 -13 -3 -13 3M1400 2620l-4 0 -2 -1 -3 -4 -1 -6 0 -6 1 -5 3 -3 2 -1 4 0 2 3 2 7 -1 10 -3 6M1317 2674l-9 1 -20 0 -7 -1 -9 -5 -8 -9 -4 -8 -2 -8 0 -10 1 -8 2 -8 4 -8 4 -5 6 -4 6 -3 6 -1 29 1 6 2 4 3 8 9 4 8 2 10 0 10 -2 10 -2 7 -6 8 -6 5 -7 4M1617 2644l-3 1 -3 0 -9 -6 -3 1 -7 5 -5 -1 -3 -2 -4 -8 -2 -8 2 -10 4 -7 3 -2 5 0 10 5 8 -5 2 0 5 1 3 2 4 8 1 9 -2 9 -3 4 -3 4M742 2655l-2 -2 -2 -2 -2 -11 2 -11 2 -2 2 -2 3 2 1 3 2 10 -1 10 -2 2 -3 3M1507 2656l2 -2 1 -2 -5 -1 -9 -2 -5 2 1 1 2 2 6 2 3 1 4 -1M1886 2881l-8 1 -14 -2 -14 2 -16 -2 -14 2 -16 -2 -14 2 -16 -2 -14 2 -16 -2 -13 2 -9 -2 -4 -4 -5 -4 -4 -8 -1 -6 -1 -14 5 -18 0 -2 -4 -3 -10 0 -8 -3 -6 -6 -5 -10 -2 -7 0 -9 1 -8 3 -7 3 -5 5 -5 5 -2 4 -1 6 0 10 1 17 -2 13 2 17 -2 13 2 16 -2 24 0 8 2 8 6 5 7 5 16 8 -8 4 -2 5 0 3 1 8 8 1 0 9 -9 3 -1 5 1 2 2 4 4 1 6 1 5 -2 9 -4 5 -4 5 0 2 9 8 5 7 4 9 1 10 -1 11 -4 9 -6 7 -6 4M1846 2818l5 -4 -11 -17 -1 1 -5 10 -1 5 0 3 1 2 4 1 8 -1M1871 2819l7 -3 1 -2 -10 -13 -1 1 -6 7 -6 5 0 2 7 3 8 0M1924 2925l-6 -1 -8 -5 -10 6 -6 -1 -2 -2 -4 -4 0 -6 1 -4 3 -4 4 -3 6 1 8 5 10 -6 6 1 4 4 2 8 -1 4 -1 3 -6 4M1872 3013l-10 1 -20 0 -8 -1 -10 -5 -4 -4 -5 -5 -3 -7 -3 -8 0 -9 0 -9 3 -8 3 -7 5 -6 6 -4 6 -3 7 -2 30 1 6 1 6 3 5 4 5 6 4 9 2 9 0 11 -2 8 -3 10 -6 7 -6 5 -8 3M572 2995l-4 1 -2 -1 -4 -3 -1 -4 0 -4 1 -4 2 -4 3 -1 3 0 2 1 3 6 0 6 -3 7M1204 2996l-6 1 -6 -3 -2 -2 0 -4 2 -5 4 -1 4 -1 4 1 4 2 2 3 0 5 -2 2 -4 2M945 3015l-1 0 -2 -2 -2 -11 1 -10 3 -7 1 0 1 4 2 9 -1 10 -2 7M532 3054l-6 0 -5 -4 -4 -6 -2 -9 0 -9 3 -9 4 -6 6 -3 6 1 4 4 4 7 2 9 0 7 -3 8 -4 6 -5 4M568 3054l-6 0 -5 -4 -5 -8 -2 -8 1 -10 3 -8 4 -5 6 -3 4 0 6 4 3 6 2 10 0 8 -2 8 -4 6 -5 4M782 3054l-6 0 -5 -3 -4 -4 -5 -10 -2 0 -5 10 -5 6 -6 1 -3 0 -3 -2 -5 -8 -3 -12 1 -10 3 -6 2 -4 6 -4 6 1 5 3 7 12 2 0 6 -10 4 -5 6 -1 4 0 3 3 4 5 2 6 1 12 -1 7 -3 6 -3 5 -3 2M945 3065l-1 1 -3 -6 -2 -14 2 -12 2 -5 2 -2 3 2 3 4 2 9 -1 8 -7 15M1252 3070l-7 1 -7 -1 -7 -2 -2 -3 2 -3 5 -2 8 -1 7 1 6 2 2 3 -2 3 -5 2M945 3115l-1 0 -2 -2 -2 -11 1 -12 3 -5 1 0 1 4 2 7 -1 11 -2 8M945 3215l-1 0 -2 -2 -2 -10 1 -12 3 -6 1 0 1 4 2 8 -1 11 -2 7M1234 3256l-14 -3 -20 -1 -10 -3 -6 -3 -5 -4 -2 -4 0 -5 3 -5 4 -2 13 -6 23 -1 13 -2 7 1 6 3 5 6 2 6 0 6 -2 6 -5 6 -6 3 -6 2M586 3254l-109 -1 -6 -2 -5 -4 -2 -5 0 -6 2 -6 5 -5 6 -2 12 0 162 0 6 1 5 2 4 4 2 4 0 6 -2 6 -3 4 -6 2 -11 1 -60 1M878 3554l-5 -2 -3 -5 -2 -8 -2 -12 0 -33 -2 -44 4 -34 -6 -36 -2 -15 2 -17 4 -24 -4 -20 -2 -24 0 -5 7 -30 6 -19 1 -2 2 0 3 5 6 17 1 11 0 11 0 1 10 5 1 4 0 3 -1 2 -4 1 -9 3 -1 1 -5 32 0 6 5 18 2 18 -3 54 5 20 1 10 -1 12 -5 18 -1 6 6 24 2 16 -1 12 -2 11 -3 6 -4 3M594 3337l-12 1 -20 -2 -10 -4 -7 -6 -3 -4 -3 -6 -1 -12 2 -11 3 -5 5 -5 6 -4 6 -2 7 -1 11 0 10 1 9 3 6 3 6 5 4 6 3 8 0 8 -1 7 -3 7 -4 6 -6 4 -8 3M1864 3325l-4 0 -4 0 -10 -7 -6 4 -2 -3 -3 -8 -1 -13 2 -12 3 -6 1 -1 2 1 2 6 2 19 2 4 8 -4 6 0 6 2 3 4 1 3 -1 4 -2 4 -5 3M1228 3338l-10 1 -10 -3 -9 -8 -4 -11 -1 -12 4 -11 6 -7 5 -3 6 -3 11 0 8 3 8 8 5 10 1 12 -3 10 -7 9 -10 5M945 3415l-1 0 -2 -2 -2 -11 1 -12 3 -5 1 0 1 4 2 7 -1 11 -2 8M783 3430l-3 1 -4 -2 -5 -4 -1 -5 0 -6 2 -4 2 -3 4 -2 5 1 3 1 2 3 2 4 0 5 -1 5 -3 4 -3 2M786 3491l-4 0 -5 -1 -7 -5 -5 -6 -5 -15 -2 -2 -14 7 -9 2 -9 -2 -9 -7 -3 -4 -3 -6 -2 -12 3 -12 3 -6 4 -4 5 -4 6 -2 6 -1 6 2 7 3 6 6 4 8 4 12 2 2 12 -5 5 -1 7 1 7 6 4 5 3 6 1 8 -1 8 -2 7 -4 6 -5 4 -6 2M1228 3470l-10 1 -10 -3 -9 -7 -4 -6 -2 -5 -1 -6 0 -6 3 -10 3 -5 5 -4 11 -5 6 -1 6 0 10 4 8 7 5 10 1 6 0 6 -3 10 -8 9 -11 5M1316 3452l-5 1 -3 -1 -3 -4 -2 -5 0 -6 2 -5 3 -4 3 -1 3 0 3 2 2 3 2 5 -1 9 -2 3 -2 3M1284 3458l-3 0 -4 -3 -2 -5 -1 -4 1 -6 1 -4 4 -3 2 -1 4 0 3 4 2 4 1 4 -2 10 -3 3 -3 1M945 3465l-1 0 -2 -2 -2 -11 1 -10 3 -7 1 0 1 4 2 9 -1 10 -2 7M945 3515l-1 0 -2 -2 -2 -10 1 -12 3 -6 1 0 1 4 2 8 -1 11 -2 7M1218 3548l-4 0 -4 -1 -2 -3 -2 -4 0 -2 1 -5 2 -3 5 -2 4 0 3 1 3 3 2 4 0 4 -1 4 -3 2 -4 2M1284 3551l-3 0 -3 -1 -3 -4 -1 -4 1 -4 1 -4 3 -2 3 -1 4 0 3 2 2 3 1 4 -1 5 -1 3 -3 2 -3 1M1314 3551l-4 0 -4 -2 -2 -3 -1 -4 1 -4 1 -4 3 -2 3 -1 3 0 3 1 3 4 1 3 0 5 -1 2 -3 4 -3 1M876 2708l-2 0 -1 -1 -2 -3 -2 -8 -1 -9 1 -11 2 -19 3 -41 -4 -12 -7 -30 -1 -10 0 -9 3 -7 0 -2 5 0 7 0 3 8 1 8 -1 11 -5 43 4 13 2 10 2 47 -2 14 -2 5 -3 3M1498 2573l-2 1 -4 0 -3 -6 0 -7 2 -3 3 -2 4 1 3 5 0 6 -3 5M1476 2577l-4 -2 -3 -3 -1 -4 1 -4 1 -3 2 -2 2 -1 5 2 3 6 -2 7 -1 2 -3 2M1424 2614l-4 -1 -2 -3 -1 -4 -1 -4 1 -5 2 -4 1 -2 4 -1 2 2 2 2 2 8 -2 8 -2 2 -2 2M1509 2648l-15 -2 -10 2 -5 0 -7 -4 -6 -6 -4 -11 -1 -7 0 -6 3 -11 3 -5 5 -3 4 -2 4 -1 14 2 12 -2 15 2 13 -2 8 2 6 6 4 9 1 11 -1 10 -6 10 -4 4 -6 3 -6 0 -9 -1 -12 2M1400 2618l-4 1 -1 -1 -3 -3 -1 -5 0 -6 1 -4 2 -3 2 -2 4 1 1 2 2 6 0 8 -3 6M1316 2672l-26 1 -9 -1 -9 -5 -7 -9 -3 -6 -2 -8 0 -16 2 -8 3 -6 4 -6 6 -5 6 -3 6 -1 27 1 6 1 4 3 5 4 4 6 4 8 2 10 0 8 -2 10 -3 7 -5 7 -6 5 -7 3M1616 2642l-5 0 -9 -6 -2 1 -8 6 -5 -1 -3 -2 -4 -7 -1 -7 1 -8 4 -7 3 -2 5 -1 10 6 9 -6 5 1 2 2 5 7 1 9 -3 9 -3 4 -2 2M742 2653l-2 -1 -2 -2 -1 -10 2 -10 2 -3 1 0 2 1 2 4 1 8 -1 10 -4 3M1618 2729l-6 1 -13 -3 -13 3 -17 -2 -15 2 -4 -1 -11 -4 -3 -1 -12 5 -4 1 -16 -3 -13 3 -7 -1 -5 -2 -5 -5 -3 -6 -3 -8 -2 -8 0 -8 3 -16 3 -7 4 -5 4 -5 6 -2 5 0 12 3 12 -3 5 0 4 1 12 5 3 0 9 -4 4 -1 17 2 17 -2 13 3 13 -3 6 0 8 5 5 7 5 12 1 12 -1 12 -4 11 -6 8 -8 4M882 3200l-4 1 -5 0 -6 -2 -4 -3 0 -6 3 -6 -3 -11 -1 -9 2 -20 0 -32 4 -26 -3 -24 0 -21 1 -12 4 -21 -6 -57 0 -12 3 -24 2 -53 -5 -82 2 -18 2 -7 4 -5 1 0 1 1 6 13 3 8 1 10 -4 70 1 15 2 29 1 50 -3 60 3 22 1 12 0 22 -2 22 2 23 -2 31 4 26 -1 9 -3 9 1 2 10 3 2 4 0 3 -2 3 -12 3M1884 2879l-6 1 -14 -2 -14 2 -16 -2 -14 2 -16 -2 -14 2 -16 -2 -14 2 -16 -2 -13 2 -5 0 -4 -2 -4 -4 -5 -6 -3 -6 -2 -7 1 -13 6 -17 -1 -4 -2 -2 -12 0 -8 -2 -6 -5 -6 -10 -1 -7 -1 -9 2 -8 3 -7 3 -5 4 -4 5 -2 5 -1 14 2 17 -2 13 2 17 -2 13 2 16 -3 22 0 6 1 4 2 5 3 5 6 3 7 2 7 1 6 -1 6 -6 18 1 5 2 2 4 0 14 -2 14 3 12 -3 4 0 10 6 6 7 2 6 2 8 0 8 -2 7 -2 6 -4 6 -4 4 -6 2M1884 2811l-4 0 -4 -3 -3 -4 -4 -9 -9 14 -4 2 -5 -1 -5 -6 -3 -8 0 -6 3 -6 5 -4 6 -1 6 4 5 9 1 1 3 -7 4 -5 4 -2 2 0 5 2 3 3 2 4 1 8 -3 9 -3 3 -3 3M1926 2923l-3 1 -5 -1 -7 -6 -1 0 -8 6 -4 1 -4 -1 -2 -2 -3 -5 0 -7 3 -5 4 -1 6 0 8 6 1 0 7 -6 6 0 5 3 2 6 -1 6 -4 5M1870 3011l-26 1 -10 -1 -8 -4 -9 -8 -4 -7 -2 -8 -1 -9 1 -7 2 -8 2 -6 5 -6 6 -5 6 -3 7 -2 30 0 6 2 6 3 5 4 4 5 3 8 2 9 1 11 -2 8 -3 8 -6 8 -7 5 -8 2M568 2995l-4 -2 -2 -3 -1 -4 1 -5 2 -3 2 -2 2 0 4 1 1 2 2 7 -2 6 -5 3M1203 2996l-6 0 -5 -3 -1 -5 1 -2 2 -3 3 -1 5 -1 4 2 2 3 1 2 0 4 -3 2 -3 2M944 3013l-2 -5 -1 -8 1 -8 2 -5 1 1 1 4 1 8 -1 10 -1 2 -1 1M532 3052l-6 0 -4 -3 -4 -5 -2 -9 0 -9 2 -8 4 -6 6 -3 4 1 5 4 4 6 2 8 0 7 -3 7 -3 6 -5 4M568 3052l-6 0 -4 -3 -4 -7 -3 -8 1 -8 3 -9 5 -6 4 -2 4 1 5 4 3 6 2 8 0 7 -2 7 -3 6 -5 4M748 3052l-6 0 -4 -2 -4 -6 -3 -9 1 -9 2 -9 4 -5 6 -3 4 1 5 4 4 8 2 7 0 6 -3 7 -3 6 -5 4M782 3052l-6 0 -6 -4 -4 -7 -3 -9 1 -8 4 -7 4 -6 5 -2 5 1 4 4 3 6 2 8 0 7 -2 7 -3 6 -4 4M945 3063l-1 0 -2 -3 -2 -14 1 -12 3 -4 1 -1 3 1 3 4 1 8 -2 10 -5 11M1250 3070l-12 0 -5 -2 -2 -3 0 -1 3 -3 8 -1 9 1 6 3 0 1 -1 3 -6 2M945 3112l-1 1 -2 -3 -1 -8 0 -8 3 -7 2 2 1 7 0 10 -2 6M945 3212l-1 1 -2 -3 -1 -7 0 -11 3 -5 1 1 1 2 1 7 0 9 -2 6M1238 3254l-5 1 -13 -3 -17 0 -12 -3 -6 -3 -4 -4 -3 -4 1 -5 2 -3 4 -4 12 -5 24 -1 12 -3 7 2 5 2 4 5 2 6 1 6 -2 6 -2 4 -4 4 -6 2M602 3251l-122 -1 -6 -1 -4 -3 -3 -4 0 -6 1 -4 4 -4 6 -2 11 -1 161 0 6 1 4 2 3 3 2 3 0 6 -2 5 -3 3 -4 2 -10 1 -44 0M878 3551l-4 -1 -3 -5 -2 -7 -2 -11 0 -41 -2 -37 4 -33 -6 -36 -2 -15 2 -19 5 -23 -5 -18 -1 -18 -2 -7 1 -5 2 -6 5 -23 5 -12 3 -2 3 4 5 12 1 8 0 13 10 5 1 4 0 3 -2 2 -12 4 -2 1 -2 17 -4 17 1 4 5 15 2 13 1 20 -4 40 1 6 5 16 1 10 -1 14 -6 16 -1 6 0 4 8 23 1 11 0 10 -4 15 -3 5 -2 1M585 3335l-15 -1 -10 -2 -10 -4 -6 -7 -4 -10 0 -11 4 -9 8 -8 6 -3 8 -1 22 1 8 2 6 3 4 3 4 5 3 7 1 8 -1 8 -3 6 -4 5 -6 5 -8 2 -7 1M1228 3337l-10 1 -9 -3 -8 -7 -5 -11 -1 -11 4 -10 7 -9 9 -4 11 0 8 3 7 7 5 9 1 10 -3 11 -6 8 -10 6M1842 3319l-3 0 -1 -2 -2 -6 -1 -7 1 -16 2 -4 1 -2 1 0 3 2 1 6 2 21 0 3 -4 5M1864 3323l-7 1 -6 -4 -3 -6 3 -4 5 -3 4 -1 4 1 5 3 1 2 0 5 -1 3 -5 3M945 3412l-1 1 -2 -3 -1 -8 0 -8 3 -7 2 2 1 7 0 10 -2 6M783 3428l-3 1 -4 -2 -4 -3 -1 -4 0 -4 1 -4 2 -4 4 -1 6 1 4 3 1 3 -1 8 -2 4 -3 2M786 3490l-4 0 -5 -1 -5 -3 -3 -4 -5 -10 -4 -18 -11 10 -9 4 -5 1 -6 -1 -6 -3 -5 -4 -5 -9 -2 -12 1 -6 2 -6 6 -9 6 -4 8 -2 7 1 7 4 6 6 3 6 2 7 3 15 9 -8 9 -4 8 1 8 5 3 4 3 8 0 6 0 8 -2 6 -4 6 -4 3 -6 3M1228 3469l-10 1 -10 -4 -9 -6 -5 -10 -1 -10 3 -10 7 -9 5 -3 6 -3 10 -1 10 4 9 7 5 9 1 10 -3 11 -7 8 -5 3 -6 3M1316 3451l-4 1 -4 -2 -2 -2 -2 -5 0 -5 1 -4 3 -4 3 -2 3 0 3 3 3 6 -1 7 -3 7M1284 3457l-3 0 -3 -3 -2 -4 -1 -4 0 -4 2 -5 3 -3 2 -1 4 1 2 2 2 4 1 4 -2 8 -2 3 -3 2M944 3463l-2 -5 -1 -8 1 -8 2 -5 1 1 1 4 1 8 -1 10 -1 2 -1 1M945 3512l-1 1 -2 -3 -1 -7 0 -11 3 -5 1 1 1 2 1 7 0 9 -2 6M1220 3547l-4 0 -4 -1 -4 -4 -1 -3 0 -5 2 -2 3 -2 3 -1 5 0 2 2 3 3 0 5 -1 3 -2 3 -2 2M1286 3550l-4 0 -2 -1 -3 -3 -2 -2 0 -5 1 -3 5 -4 3 0 3 1 3 3 1 3 -1 6 -2 3 -2 2M1314 3550l-3 0 -3 -1 -2 -3 -2 -4 1 -6 3 -3 3 -1 3 0 3 2 3 5 0 5 -2 2 -4 4M873 2594l-1 -1 -4 -7 -5 -19 1 -12 2 -5 2 -4 6 0 4 5 1 9 0 8 -1 10 -4 14 -1 2M1496 2573l-4 -1 -1 -1 -2 -5 2 -7 1 -1 4 -1 3 3 2 6 -2 4 -3 3M1476 2575l-3 0 -1 -2 -3 -5 1 -6 2 -1 2 -2 5 2 2 5 -1 6 -4 3M1424 2612l-4 -1 -1 -2 -2 -7 2 -7 1 -2 4 -1 1 0 2 4 2 6 -2 7 -3 3M1534 2645l-13 -1 -13 2 -14 -3 -12 3 -4 -1 -5 -2 -6 -7 -4 -10 -1 -12 4 -11 6 -6 7 -3 15 1 14 -2 13 2 13 -1 8 2 4 5 4 7 2 7 0 9 -2 8 -5 7 -5 4 -6 2M1398 2617l-3 0 -1 -2 -3 -6 1 -7 2 -4 2 -1 4 1 1 2 2 6 -2 8 -3 3M1312 2671l-24 0 -7 -1 -9 -5 -7 -9 -3 -8 -1 -8 0 -7 1 -7 2 -6 4 -7 4 -5 4 -4 5 -2 6 -1 23 0 6 1 6 2 4 3 7 9 3 10 1 8 0 10 -3 8 -4 7 -4 6 -6 4 -8 2M1614 2641l-4 -1 -8 -6 -2 0 -6 5 -2 1 -4 0 -2 -1 -4 -6 -2 -7 1 -8 4 -6 3 -2 4 0 2 1 6 5 2 1 9 -7 5 0 2 3 4 7 0 8 -2 8 -3 3 -3 2M742 2651l-1 0 -2 -1 -2 -10 2 -8 2 -3 1 0 4 4 1 7 -1 7 -4 4M876 2703l-3 -2 -1 -3 -2 -12 0 -10 4 -18 2 -15 2 2 4 39 -2 12 -2 4 -2 3M1617 2728l-6 0 -12 -3 -13 3 -17 -3 -15 3 -4 -1 -11 -5 -3 0 -12 5 -4 1 -16 -3 -13 3 -7 -1 -5 -3 -4 -4 -6 -12 -1 -8 -1 -8 3 -16 3 -6 5 -5 4 -4 4 -1 5 0 12 3 12 -3 6 0 15 6 3 0 9 -5 4 -1 5 0 12 3 17 -3 13 3 13 -3 6 1 8 4 5 9 3 8 2 12 -2 12 -4 11 -6 7 -7 4M879 3200l-5 0 -4 -1 -6 -3 0 -6 4 -6 -4 -11 -1 -9 2 -21 0 -33 4 -24 -3 -24 0 -22 2 -14 4 -18 -7 -57 6 -89 -6 -82 1 -9 2 -7 2 -5 3 -2 3 3 3 6 3 8 0 8 -1 32 -3 44 3 38 0 25 1 29 -2 40 -2 16 5 20 1 12 0 24 -3 24 3 21 -2 31 4 18 0 8 -1 8 -3 10 0 2 12 4 1 3 0 5 -2 1 -14 3M1884 2878l-6 0 -14 -2 -14 2 -16 -2 -14 2 -16 -2 -14 2 -16 -2 -14 2 -16 -2 -13 2 -7 -1 -6 -4 -4 -6 -3 -6 -1 -7 1 -14 7 -16 0 -4 -2 -2 -3 -1 -12 0 -6 -1 -6 -3 -4 -5 -4 -8 -2 -10 1 -10 3 -8 3 -4 4 -4 5 -2 5 -1 14 2 17 -2 13 2 17 -2 13 2 16 -3 22 0 6 1 4 2 5 3 4 5 3 7 2 8 -1 12 -7 18 1 4 7 3 14 -2 14 3 14 -3 4 1 8 3 7 9 3 12 -1 14 -2 6 -4 6 -5 4 -4 2M1856 2809l-4 -1 -3 -2 -3 -5 -1 -6 0 -6 3 -5 3 -3 3 -1 4 1 4 3 2 4 2 6 -1 4 -3 6 -4 4 -2 1M1882 2809l-4 -2 -3 -3 -2 -4 -2 -6 1 -5 3 -5 3 -3 4 -1 4 1 3 3 2 5 1 5 -1 6 -2 4 -3 4 -4 1M1902 2921l-3 1 -3 0 -3 -2 -2 -4 -1 -4 1 -3 2 -3 3 -2 3 0 3 1 5 5 0 5 -2 3 -3 3M1924 2922l-2 0 -4 -1 -2 -2 -3 -4 0 -3 1 -3 2 -3 4 -2 3 0 3 1 2 3 2 2 -1 7 -5 5M1868 3010l-26 0 -8 -1 -8 -4 -9 -9 -3 -6 -2 -8 0 -7 0 -7 2 -8 3 -6 5 -6 5 -4 6 -3 6 -1 30 1 11 4 4 3 5 6 4 9 1 9 0 9 -3 9 -3 8 -6 6 -7 4 -7 2M568 2993l-2 -1 -2 -1 -2 -5 2 -7 2 -1 2 -1 4 3 2 6 -1 4 -5 3M1204 2995l-6 1 -4 -2 -2 -4 1 -4 3 -3 2 -1 4 0 4 2 2 3 0 3 -1 3 -3 2M944 3010l-2 -4 0 -6 0 -6 2 -4 1 1 1 2 0 7 -1 8 -1 2M531 3051l-5 -1 -4 -3 -4 -6 -1 -7 0 -8 3 -8 4 -5 4 -2 4 1 5 4 3 6 1 7 0 7 -2 6 -3 6 -5 3M567 3051l-5 -1 -4 -3 -4 -6 -1 -7 0 -8 2 -8 5 -5 4 -2 4 1 5 4 3 6 1 7 0 7 -2 6 -3 6 -5 3M747 3050l-5 1 -5 -4 -3 -6 -2 -7 1 -8 2 -8 5 -5 4 -2 4 1 4 4 4 6 1 7 0 7 -2 6 -3 5 -5 3M780 3051l-4 -1 -5 -3 -4 -6 -2 -7 1 -8 2 -8 4 -5 5 -2 5 1 4 4 3 6 1 7 0 7 -2 6 -4 6 -4 3M945 3061l-1 0 -2 -3 -2 -12 2 -11 2 -4 1 -1 3 2 2 2 1 4 1 4 -2 8 -5 11M1245 3070l-10 -2 -2 -2 0 -1 0 -1 5 -3 6 -1 7 1 4 3 0 1 0 1 -2 2 -8 2M945 3109l-1 1 -2 -8 0 -7 2 -5 1 1 1 7 -1 11M945 3209l-1 1 -2 -7 0 -9 2 -4 1 1 1 6 0 6 -1 6M1239 3253l-7 1 -11 -3 -18 0 -9 -2 -6 -3 -5 -4 -3 -4 1 -5 2 -3 3 -3 12 -5 22 -1 12 -3 7 1 5 2 4 5 2 4 1 6 -1 6 -2 4 -4 5 -5 2M654 3247l-14 0 -156 0 -6 0 -4 -2 -3 -3 -1 -4 1 -4 3 -3 4 -2 6 0 164 0 9 2 3 2 2 3 0 3 -1 3 -3 3 -4 2M873 3314l-1 1 -2 0 -4 -7 -5 -30 1 -4 2 -5 5 -21 4 -8 3 -1 3 2 3 9 2 7 0 12 10 5 1 1 1 3 -1 3 -1 1 -12 4 -3 2 -3 17 -3 9M588 3332l-14 0 -12 -2 -7 -3 -7 -5 -5 -10 0 -8 2 -10 5 -6 6 -4 6 -2 18 0 16 3 6 3 4 5 4 6 1 6 0 7 -2 6 -4 6 -5 5 -6 2 -6 1M1227 3335l-9 1 -9 -3 -7 -7 -5 -10 0 -11 3 -9 8 -8 8 -4 10 0 8 4 7 6 4 10 0 10 -3 9 -6 8 -9 4M1840 3317l-1 -1 -2 -4 -2 -12 2 -12 2 -4 1 0 2 2 2 6 1 13 -1 7 -1 4 -3 1M1864 3322l-6 1 -5 -3 -2 -3 0 -3 2 -4 4 -3 3 0 4 1 4 2 1 4 0 3 -2 3 -3 2M879 3547l-3 1 -3 -3 -3 -7 -2 -10 1 -20 3 -24 -5 -20 -1 -16 2 -12 4 -17 1 -5 -8 -30 -2 -16 0 -14 2 -12 3 -9 4 -3 2 2 4 6 3 15 1 12 -1 12 -5 37 1 5 6 15 2 12 0 8 -2 7 -10 21 1 3 8 17 3 14 1 11 -2 9 -2 7 -3 4M945 3409l-1 1 -2 -8 0 -7 2 -5 1 1 1 7 -1 11M782 3427l-4 0 -2 -2 -3 -3 -1 -3 0 -5 2 -2 4 -4 4 0 2 1 3 4 1 3 0 4 -2 4 -4 3M742 3466l-8 1 -10 -3 -7 -7 -4 -9 0 -11 3 -11 7 -7 7 -3 10 0 7 3 7 7 3 10 1 8 -1 8 -6 8 -9 6M1228 3467l-10 1 -10 -4 -8 -6 -4 -9 -1 -11 3 -8 6 -8 10 -5 10 -1 9 3 8 6 5 9 1 10 -2 10 -3 4 -4 4 -10 5M1314 3450l-3 0 -2 -1 -4 -6 0 -5 1 -4 2 -2 3 -2 5 1 2 3 1 4 -1 8 -4 4M1284 3455l-3 0 -2 -1 -2 -4 -1 -4 2 -8 2 -2 2 -1 4 0 1 2 2 3 1 4 -2 7 -1 3 -3 1M944 3460l-2 -4 0 -6 0 -6 2 -4 1 1 1 2 0 7 -1 8 -1 2M789 3487l-7 1 -8 -3 -6 -7 -3 -10 -1 -8 3 -8 5 -6 8 -4 6 0 7 4 5 6 3 8 0 8 -2 8 -4 6 -6 5M945 3509l-1 1 -2 -7 0 -9 2 -4 1 1 1 6 0 6 -1 6M1220 3545l-6 1 -5 -4 -1 -6 2 -3 2 -2 6 -1 3 2 2 2 1 6 -2 4 -2 1M1286 3548l-4 1 -2 -1 -4 -4 1 -6 4 -5 3 0 3 1 3 5 -1 6 -3 3M1314 3549l-3 0 -3 -2 -3 -5 2 -6 4 -3 5 1 3 5 -1 6 -4 4M873 2583l-1 0 -4 -4 -2 -7 -1 -8 0 -6 2 -6 1 -3 4 -1 2 2 2 3 2 9 -1 12 -3 7 -1 2M1496 2572l-4 -2 -2 -4 1 -5 2 -1 3 -1 3 2 1 5 -2 3 -2 3M1476 2573l-3 0 -3 -5 2 -5 2 -2 4 1 2 4 -1 4 -3 3M1425 2610l-3 0 -2 -1 -1 -5 0 -6 3 -4 3 0 2 6 0 6 -2 4M1508 2644l-14 -3 -10 2 -5 0 -6 -2 -5 -5 -4 -9 -1 -11 3 -10 6 -7 4 -3 4 -1 14 2 14 -2 13 2 12 -2 6 1 6 6 4 7 2 11 -2 10 -4 8 -5 3 -4 2 -4 0 -11 -2 -13 3M1398 2615l-3 0 -2 -6 1 -7 2 -3 4 1 2 6 -1 6 -3 3M1316 2668l-8 1 -20 0 -6 -1 -7 -4 -7 -7 -3 -6 -2 -7 -1 -8 1 -8 2 -7 3 -6 4 -5 4 -3 5 -2 6 -2 27 1 9 4 7 7 3 6 2 9 1 9 -2 7 -2 8 -4 6 -6 5 -6 3M1616 2638l-4 1 -2 -1 -8 -9 -2 0 -7 9 -3 1 -3 -1 -4 -5 -1 -6 0 -6 3 -6 3 -3 4 0 3 2 5 7 2 0 8 -8 4 -1 3 1 4 7 0 7 -1 6 -4 5M742 2649l-1 0 -1 -2 -2 -7 2 -7 1 -2 1 0 3 3 1 6 -1 6 -3 3M1618 2725l-6 1 -13 -4 -13 4 -5 0 -12 -3 -15 3 -4 -1 -11 -6 -3 0 -15 7 -6 -1 -12 -3 -12 4 -6 -1 -5 -2 -3 -3 -3 -4 -3 -8 -2 -15 2 -13 2 -6 5 -6 4 -4 4 -2 5 0 12 4 12 -4 6 0 15 7 3 0 9 -5 6 -2 15 3 12 -3 5 0 13 4 13 -4 6 1 6 4 6 7 3 8 1 12 -1 11 -3 9 -6 7 -6 4M876 2696l-2 -1 -1 -2 -1 -7 1 -10 1 -4 2 -1 2 4 1 9 0 8 -3 4M1882 2876l-6 0 -12 -2 -14 3 -16 -3 -14 3 -14 -3 -16 3 -14 -3 -16 3 -14 -3 -15 2 -7 -1 -5 -3 -5 -6 -2 -8 -1 -8 0 -6 2 -7 9 -15 0 -3 -2 -3 -6 -2 -12 2 -6 -1 -4 -2 -4 -4 -5 -8 -2 -9 0 -9 3 -9 6 -8 5 -2 5 -1 14 2 16 -3 14 3 16 -3 16 3 16 -3 22 0 7 2 5 3 4 6 3 7 1 8 -1 10 -3 8 -6 10 0 3 1 1 5 4 6 1 14 -2 14 3 14 -3 4 1 8 4 5 6 3 6 1 6 0 6 -1 8 -2 6 -4 5 -5 3 -5 2M874 2837l-1 -2 -3 -13 -4 -39 2 -13 2 -5 3 -3 3 2 3 6 2 12 -2 36 -1 10 -4 9M1857 2806l-3 1 -3 -2 -3 -4 -2 -5 0 -4 2 -4 3 -5 3 -1 3 0 3 2 2 4 2 4 0 4 -2 5 -2 3 -3 2M1884 2806l-3 1 -3 -2 -3 -4 -2 -5 0 -4 2 -4 3 -5 3 -1 3 0 3 2 2 4 1 4 0 4 -1 5 -2 3 -3 2M1748 2822l2 -3 -2 -2 -5 -1 -3 3 0 1 3 3 5 -1M1778 2822l2 -3 -2 -2 -5 -1 -3 3 0 1 3 3 5 -1M874 2995l-1 -3 -1 -6 -5 -28 0 -12 3 -30 1 -26 2 -9 1 -3 2 1 2 4 1 9 0 29 2 25 -3 42 -2 6 -2 1M1900 2920l-2 0 -3 0 -3 -5 1 -6 3 -3 4 0 5 4 0 4 -1 2 -4 4M1924 2920l-2 0 -3 0 -4 -5 0 -3 1 -3 4 -3 4 0 4 4 0 6 -4 4M1872 3007l-9 1 -25 -1 -10 -3 -7 -6 -4 -6 -2 -8 -1 -14 1 -7 3 -6 3 -5 5 -4 6 -4 6 -1 28 -1 10 3 5 3 4 4 5 8 2 8 0 8 -1 10 -3 7 -4 6 -6 5 -6 3M568 2992l-3 -2 -2 -4 1 -5 2 -1 2 -1 4 2 1 5 -1 3 -4 3M1202 2995l-5 -1 -4 -2 0 -5 4 -3 6 0 4 3 0 5 -3 2 -2 1M944 3005l-1 -5 1 -6 1 2 0 4 0 4 -1 1M531 3049l-5 -1 -3 -2 -3 -5 -2 -7 0 -8 2 -6 4 -4 4 -3 4 1 4 3 3 6 1 6 0 6 -2 6 -3 5 -4 3M567 3049l-5 -1 -3 -2 -3 -5 -2 -7 0 -8 2 -6 4 -4 4 -3 4 1 4 3 3 6 1 6 0 6 -2 6 -3 5 -4 3M746 3049l-5 -1 -4 -4 -3 -6 0 -6 0 -8 2 -5 4 -4 4 -2 4 1 4 4 3 6 1 6 -1 6 -2 6 -3 4 -4 3M780 3049l-4 -1 -4 -2 -3 -5 -2 -7 0 -8 2 -6 3 -4 5 -3 5 1 3 3 3 6 1 6 0 6 -2 6 -3 5 -4 3M885 3199l-7 1 -6 -1 -5 -2 -2 -1 -1 -4 1 -4 4 -4 -4 -12 -1 -10 2 -19 0 -18 0 -17 6 -22 -4 -21 -1 -23 3 -16 2 -6 2 -4 2 0 2 1 2 7 2 8 1 12 0 21 -5 21 5 20 -3 34 4 15 1 9 -1 9 -4 9 1 2 11 3 3 4 -1 3 -2 3 -7 2M945 3058l-1 0 -2 -3 -1 -9 1 -10 2 -3 1 -1 1 0 3 3 2 7 -2 8 -4 8M1248 3068l-9 0 -3 -2 -1 -1 3 -3 4 -1 6 1 4 2 1 1 -1 1 -4 2M944 3106l-1 -6 1 -5 1 1 0 4 0 4 -1 2M944 3205l-1 -5 1 -5 1 1 0 4 0 4 -1 1M1234 3253l-14 -3 -17 0 -11 -3 -6 -3 -2 -4 -2 -2 1 -5 2 -3 4 -3 9 -4 22 -1 13 -3 6 1 5 3 3 4 2 5 1 6 -2 6 -3 4 -5 3 -6 2M650 3241l-12 1 -148 0 -9 -2 -2 -1 0 -1 3 -3 7 -1 153 0 10 2 1 2 0 1 -3 2M872 3309l-2 -1 -2 -1 -1 -4 -2 -16 -3 -6 0 -5 1 -2 3 -5 4 -18 3 -5 3 -2 3 3 2 5 1 17 11 5 2 2 0 4 -1 1 -3 2 -13 4 -4 17 -2 5M586 3329l-12 0 -10 -2 -8 -2 -5 -5 -4 -8 -1 -7 2 -9 5 -6 5 -3 6 -2 16 0 14 3 6 3 4 3 2 5 2 6 0 6 -2 6 -3 5 -5 4 -6 2 -6 1M1227 3334l-9 0 -9 -3 -6 -7 -4 -8 0 -11 3 -9 7 -7 7 -3 10 0 7 3 7 7 3 8 1 8 -3 10 -6 7 -8 5M1840 3314l-1 -1 -1 -3 -2 -10 2 -10 1 -2 1 -1 3 6 1 9 -1 9 -3 3M1864 3320l-4 1 -5 -1 -2 -4 1 -5 3 -2 3 0 3 0 3 2 1 5 -1 2 -2 2M874 3399l-1 0 -1 -1 -4 -7 -3 -11 -1 -10 0 -11 2 -12 2 -8 4 -3 2 1 4 6 2 19 -1 20 -1 9 -4 8M944 3406l-1 -6 1 -5 1 1 0 4 0 4 -1 2M783 3424l-5 1 -2 -2 -2 -3 -1 -2 1 -4 2 -2 2 -2 5 0 3 4 0 6 -3 4M740 3464l-10 0 -6 -3 -6 -6 -3 -9 0 -9 3 -9 6 -8 8 -3 8 1 7 3 5 7 4 9 0 9 -3 8 -6 7 -7 3M1227 3466l-9 0 -9 -3 -8 -7 -4 -8 0 -10 3 -8 6 -7 9 -5 9 0 9 3 7 5 5 10 0 8 -2 10 -7 7 -9 5M874 3470l-2 -1 -2 -2 -2 -7 -1 -10 2 -14 3 -7 2 -3 4 1 3 5 2 8 1 8 -1 7 -2 6 -3 7 -4 2M1314 3448l-3 0 -1 -1 -3 -3 0 -2 0 -6 4 -4 3 0 3 5 0 6 -3 5M1286 3452l-2 1 -3 0 -2 -3 -1 -2 0 -5 1 -3 3 -3 4 1 2 5 0 6 -2 3M788 3485l-8 1 -6 -3 -5 -7 -3 -8 0 -7 2 -7 5 -6 7 -4 6 0 6 3 4 6 3 7 0 8 -2 8 -4 6 -5 3M944 3455l-1 -5 1 -6 1 2 0 4 0 4 -1 1M944 3505l-1 -5 1 -5 1 1 0 4 0 4 -1 1M878 3544l-4 -1 -2 -4 -2 -13 1 -20 1 -6 2 -3 4 1 2 5 3 7 1 10 0 8 -1 8 -3 5 -2 3M1218 3544l-4 0 -4 -4 0 -4 4 -4 4 0 2 1 2 3 0 4 -4 4M1286 3547l-5 0 -3 -3 0 -5 3 -4 5 0 2 4 0 5 -2 3M1314 3547l-4 0 -2 -2 -1 -3 0 -4 4 -3 5 1 1 3 0 5 -3 3M873 2575l-1 0 -3 -2 -2 -9 1 -9 2 -2 2 -1 2 4 2 6 -1 8 -2 5M1497 2569l-3 0 -2 -2 0 -3 2 -3 2 0 2 1 0 4 -1 3M1474 2572l-1 -2 -1 -3 1 -3 1 -1 3 1 1 3 -1 3 -3 2M1424 2608l-2 -1 -1 -1 -1 -4 0 -4 2 -1 2 -1 1 2 1 4 -1 4 -1 2M1536 2641l-4 0 -11 -2 -15 2 -12 -2 -14 2 -6 -2 -6 -6 -3 -7 0 -11 3 -9 5 -6 6 -3 5 0 8 2 14 -2 14 2 13 -2 6 2 5 3 3 6 2 6 0 7 -1 7 -3 6 -5 5 -4 2M1398 2612l-2 1 -1 -2 -1 -3 1 -5 1 -2 2 1 1 1 1 3 0 4 -2 2M1312 2666l-22 0 -8 0 -7 -4 -6 -6 -3 -6 -1 -6 -1 -14 4 -12 4 -5 4 -4 5 -2 6 -1 25 0 10 3 7 7 3 8 2 8 0 8 -2 8 -3 7 -5 6 -6 4 -6 1M1590 2636l-3 -1 -2 -2 -2 -7 2 -8 2 -3 3 -1 3 1 3 3 2 8 -3 7 -2 2 -3 1M1614 2636l-3 0 -3 -3 -2 -3 -1 -4 2 -8 3 -3 2 -1 4 1 1 1 3 8 -2 8 -1 2 -3 2M742 2646l-1 -1 -2 -5 2 -6 1 0 2 2 1 4 -1 4 -2 2M1617 2723l-6 0 -12 -3 -13 3 -5 0 -12 -3 -15 3 -4 -1 -11 -6 -3 0 -15 7 -6 0 -12 -3 -12 3 -6 0 -5 -3 -2 -3 -4 -5 -2 -6 -2 -13 2 -12 3 -7 4 -5 5 -3 4 -1 4 0 11 3 12 -3 6 0 15 7 3 0 11 -7 4 0 15 3 12 -3 5 0 13 3 13 -3 6 0 6 4 5 7 3 8 1 10 -2 11 -3 9 -5 6 -6 3M1852 2875l-6 -1 -12 -2 -14 3 -14 -3 -16 3 -14 -3 -16 3 -14 -3 -15 2 -7 -1 -5 -4 -4 -5 -2 -6 -1 -8 1 -6 2 -7 3 -6 6 -6 4 -3 3 0 11 4 4 1 14 -6 12 5 4 1 11 -5 2 -2 0 -1 -7 -5 -6 -2 -4 1 -12 5 -14 -6 -4 1 -11 4 -3 0 -12 -5 -15 2 -6 -2 -5 -2 -2 -4 -5 -10 0 -12 3 -10 6 -7 8 -2 14 2 17 -3 13 3 17 -3 13 3 16 -3 22 0 6 1 4 2 7 7 4 10 -1 11 -4 10 -4 7 -6 5 -4 0 -13 -1 -8 3 0 1 7 5 4 1 14 -4 16 6 16 -3 14 3 12 -2 6 0 5 2 4 3 3 5 3 6 1 7 -1 9 -3 8 -6 5 -7 3 -17 -2 -12 3M874 2820l-1 -1 -1 -5 -4 -31 1 -11 3 -4 1 -1 3 2 2 3 1 10 -2 30 -3 8M1856 2804l-4 0 -2 -3 -2 -7 1 -5 2 -3 5 -2 4 3 2 7 -2 7 -2 2 -2 1M1882 2804l-2 0 -3 -3 -2 -7 1 -5 2 -3 4 -2 5 3 2 7 -2 7 -5 3M1899 2918l-3 0 -2 -4 0 -4 4 -2 2 1 3 3 -1 4 -3 2M1923 2918l-3 0 -2 -1 -1 -3 1 -4 4 -2 2 1 2 3 0 3 -3 3M874 2971l-1 -1 -3 -9 -2 -15 2 -13 4 -13 4 9 1 17 -1 17 -4 8M1868 3005l-24 1 -8 -1 -9 -4 -6 -7 -3 -6 -2 -6 0 -12 3 -12 3 -4 5 -5 6 -3 6 -1 27 0 10 3 5 3 4 5 4 7 1 7 0 10 -1 7 -3 7 -5 5 -6 4 -7 2M570 2989l-3 0 -2 -2 0 -5 2 -1 1 0 3 1 0 4 -1 3M1203 2993l-5 1 -2 -2 -2 -4 2 -2 4 -2 4 2 2 4 -3 3M531 3046l-5 0 -2 -2 -3 -4 -1 -6 0 -6 1 -6 4 -5 3 -1 3 0 4 2 2 5 2 6 -1 6 -1 5 -3 4 -3 2M567 3046l-5 0 -2 -2 -3 -4 -2 -6 1 -6 1 -6 4 -5 3 -1 3 0 4 2 2 5 1 6 0 6 -1 5 -3 4 -3 2M747 3046l-5 0 -2 -2 -4 -4 -1 -6 0 -6 2 -6 3 -4 4 -3 3 1 3 2 3 5 1 6 0 6 -1 5 -3 4 -3 2M780 3046l-4 0 -4 -2 -2 -4 -2 -6 1 -6 1 -6 4 -5 3 -1 3 0 4 2 2 5 1 6 0 6 -1 5 -3 4 -3 2M876 3079l-2 0 -1 -2 -3 -6 -1 -7 -1 -11 2 -23 3 -6 3 -2 3 4 1 6 2 20 -2 16 -1 6 -3 5M945 3056l-1 0 -2 -3 -1 -7 1 -8 3 -4 1 0 3 2 1 6 -2 8 -3 6M1248 3067l-6 0 -3 -1 -1 -1 2 -2 6 0 3 1 1 1 -2 2M880 3199l-6 0 -4 -1 -4 -2 -1 -4 1 -4 6 -4 -6 -11 -1 -11 3 -20 -1 -17 1 -18 2 -9 4 -6 2 0 2 3 3 9 0 8 -3 26 1 6 4 11 1 7 -1 11 -3 5 -3 4 1 2 13 3 2 3 1 1 -1 3 -2 3 -11 2M1238 3251l-6 0 -11 -2 -15 0 -9 -2 -6 -2 -4 -3 -2 -3 -1 -5 2 -2 3 -4 9 -4 8 -1 15 0 12 -3 6 1 4 3 3 4 3 5 0 5 -1 4 -3 4 -3 3 -4 2M872 3300l-2 0 -2 -3 -1 -10 -4 -6 0 -5 1 -2 4 -5 4 -15 1 -3 3 -1 2 1 2 5 0 13 11 5 2 1 1 5 -3 3 -15 4 -1 1 -2 10 -1 2M591 3325l-9 1 -12 -1 -8 -2 -6 -3 -4 -4 -2 -6 0 -8 3 -6 7 -5 8 -3 18 2 6 1 5 3 3 2 3 5 1 5 0 5 -1 5 -3 4 -4 3 -5 2M1226 3332l-10 0 -7 -3 -5 -6 -4 -9 1 -9 2 -7 7 -8 8 -2 8 0 7 4 6 6 3 8 -1 10 -3 7 -5 6 -7 3M1840 3310l-1 -2 -2 -8 2 -7 0 -1 1 -1 2 3 1 6 -1 7 -2 3M1863 3319l-3 0 -3 -1 -2 -2 1 -4 2 -1 5 0 1 2 1 3 -2 3M874 3389l-1 1 -1 0 -4 -5 -3 -15 0 -10 2 -10 1 -5 4 -4 2 2 2 3 3 16 -1 16 -4 11M782 3422l-4 0 -2 -3 0 -5 2 -2 5 1 1 3 0 3 -2 3M738 3463l-8 -1 -7 -4 -5 -6 -2 -9 1 -9 4 -8 5 -4 8 -3 7 1 6 4 5 7 2 7 0 8 -3 8 -5 5 -8 4M1226 3464l-10 0 -7 -3 -7 -6 -3 -9 0 -9 3 -7 7 -7 7 -3 10 0 7 3 7 7 3 7 0 9 -3 9 -7 6 -7 3M876 3464l-3 0 -2 -2 -1 -6 -1 -7 1 -7 1 -6 2 -4 3 -1 3 3 1 3 2 11 -2 10 -4 6M1314 3445l-3 1 -1 -2 -2 -2 1 -5 2 -3 3 1 2 3 0 4 -2 3M1284 3451l-3 -1 -2 -4 1 -4 2 -3 4 2 1 3 -1 5 -2 2M784 3484l-6 -1 -4 -3 -4 -6 -2 -7 0 -7 3 -6 5 -5 6 -3 6 1 4 3 3 5 3 7 -1 8 -2 6 -5 5 -6 3M879 3538l-3 1 -2 -2 -1 -4 -2 -7 1 -16 2 -4 2 -2 2 1 2 4 2 9 0 12 -3 8M1218 3542l-3 0 -3 -2 0 -2 2 -4 2 0 4 2 0 3 -2 3M1284 3545l-3 0 -2 -3 1 -3 2 -2 4 1 1 2 -1 4 -2 1M1312 3545l-2 -1 -2 -2 1 -3 2 -2 3 0 2 3 -1 4 -3 1M1509 2639l-5 0 -10 -3 -14 3 -4 -1 -3 -2 -5 -6 -2 -9 1 -11 5 -6 2 -3 5 -2 5 1 10 2 14 -3 13 3 13 -3 5 2 3 2 4 6 2 9 -1 9 -4 7 -4 3 -5 2 -13 -3 -12 3M1316 2663l-8 1 -22 0 -8 -3 -6 -5 -5 -11 -1 -7 0 -6 1 -6 3 -6 6 -8 5 -3 6 -1 24 0 9 3 6 5 4 6 1 6 1 8 -1 8 -1 6 -4 6 -4 4 -6 3M1592 2633l-4 0 -1 -1 -2 -6 1 -6 4 -3 4 3 2 4 -1 6 -3 3M1614 2633l-2 0 -2 -1 -3 -6 2 -6 3 -3 4 1 2 6 -1 6 -3 3M1617 2720l-6 0 -12 -3 -13 4 -5 0 -12 -4 -15 4 -6 -2 -9 -6 -3 -1 -10 7 -5 2 -6 -1 -12 -3 -11 3 -6 1 -4 -2 -3 -3 -5 -8 -2 -12 1 -12 2 -6 4 -6 5 -4 4 -1 4 1 11 3 12 -3 6 -1 5 2 10 7 3 -1 9 -6 6 -2 15 4 12 -4 5 0 13 4 12 -3 6 0 6 3 4 5 3 8 1 10 -1 10 -3 7 -4 6 -6 3M1816 2813l-13 0 -12 1 -17 -5 -13 4 -5 0 -10 -4 -4 1 -11 3 -5 0 -12 -4 -10 2 -6 0 -6 -3 -6 -7 -2 -9 1 -10 2 -6 3 -5 5 -3 5 -1 14 2 17 -3 13 3 17 -3 13 3 17 -3 25 0 6 3 5 5 3 8 1 7 -1 7 -3 8 -5 6 -6 3M874 2795l-1 0 -1 -4 -2 -7 1 -7 2 -3 1 0 2 2 1 6 -1 7 -2 6M1857 2801l-3 0 -2 0 -2 -5 0 -6 4 -3 3 1 3 4 0 4 -3 5M1882 2802l-4 -2 -1 -6 1 -5 2 -1 2 -1 4 2 1 5 -1 6 -4 2M1882 2872l-6 0 -12 -2 -14 3 -16 -3 -14 3 -16 -3 -14 3 -16 -3 -14 3 -16 -3 -10 2 -6 0 -6 -3 -5 -7 -3 -7 0 -9 2 -6 3 -7 5 -4 6 -3 4 1 10 3 16 -4 14 4 16 -4 14 4 16 -4 14 4 16 -3 14 3 12 -2 5 0 6 2 5 4 3 8 1 7 -1 7 -2 8 -5 5 -6 3M874 2956l-1 0 -1 -2 -1 -8 2 -7 0 -1 1 -1 2 4 0 5 0 6 -2 4M1870 3002l-7 1 -25 0 -8 -3 -6 -5 -3 -5 -2 -6 -2 -12 3 -10 7 -10 6 -3 6 -2 24 0 11 2 7 5 4 6 3 8 1 7 -1 7 -3 8 -4 6 -5 3 -6 3M1203 2992l-3 1 -3 -1 -1 -2 0 -3 4 -2 3 1 1 2 -1 4M532 3043l-2 1 -4 -1 -2 -3 -3 -5 0 -6 1 -5 3 -4 3 -2 3 0 2 2 2 3 2 5 -1 8 -4 7M568 3043l-2 1 -4 -1 -2 -3 -3 -5 0 -6 1 -5 3 -4 3 -2 3 0 2 2 2 3 2 5 -1 8 -4 7M747 3043l-3 1 -3 -2 -3 -4 -1 -4 0 -6 1 -5 3 -4 3 -1 3 1 3 3 2 7 -1 9 -4 5M782 3043l-4 1 -2 -1 -4 -3 -2 -5 0 -6 1 -5 3 -4 3 -2 3 0 2 2 2 3 2 5 -1 8 -3 7M874 3071l-1 -1 -2 -5 -1 -15 2 -15 2 -5 2 0 2 2 1 5 1 19 -2 12 -2 3 -2 0M945 3053l-1 -1 -2 -6 1 -6 2 -4 1 0 2 2 1 4 -1 6 -3 5M876 3180l-3 0 -4 -4 -2 -6 -1 -6 1 -9 4 -15 -1 -14 0 -18 2 -6 2 -4 2 1 2 1 1 8 -4 32 7 14 1 8 -1 11 -3 5 -3 2M886 3197l-10 1 -6 -1 -3 -3 -1 -4 4 -4 4 -1 16 3 2 2 0 4 -1 2 -5 1M1238 3250l-6 0 -11 -2 -15 0 -9 -2 -5 -2 -4 -4 -1 -2 0 -4 1 -2 3 -3 9 -4 20 -1 12 -2 6 0 4 2 3 3 2 5 1 4 -1 4 -2 5 -3 3 -4 2M876 3286l-4 1 -4 -1 -3 -4 -1 -2 1 -6 6 -6 2 -8 1 -2 2 2 0 8 1 1 13 5 2 2 0 5 -2 1 -14 4M1222 3331l-7 -1 -6 -4 -5 -6 -2 -9 1 -7 4 -8 5 -4 8 -3 7 1 6 4 5 6 2 8 -1 8 -3 7 -6 5 -8 3M590 3320l-8 1 -9 0 -7 -2 -5 -2 -4 -3 -2 -4 0 -6 1 -5 6 -4 8 -2 15 1 9 3 4 6 2 7 -3 6 -3 2 -4 2M873 3382l-1 0 -3 -4 -2 -10 1 -14 4 -5 1 0 2 4 2 12 -1 12 -3 5M740 3460l-6 0 -7 -2 -5 -4 -3 -8 -1 -8 3 -7 5 -6 6 -3 6 0 6 3 4 5 3 7 1 7 -2 6 -4 6 -6 4M1222 3463l-7 -1 -7 -4 -6 -8 -2 -7 1 -7 5 -8 6 -5 8 -2 7 1 7 4 5 6 3 8 -1 8 -4 7 -7 6 -8 2M876 3459l-2 0 -1 -1 -1 -4 -1 -5 1 -9 2 -3 2 -1 3 4 1 8 -1 7 -3 4M786 3481l-6 0 -4 -3 -4 -5 -2 -6 0 -6 3 -6 4 -5 5 -1 4 0 4 3 4 4 2 6 -1 6 -1 6 -4 4 -4 3M878 3531l-3 -1 -1 -6 0 -8 2 -3 2 0 1 3 1 5 -1 7 -1 3M1536 2636l-4 0 -11 -3 -13 4 -14 -4 -12 3 -4 0 -6 -4 -3 -6 -1 -8 1 -8 4 -5 6 -3 5 0 10 3 12 -4 4 1 10 3 12 -3 6 1 2 2 4 4 2 5 0 6 -1 6 -2 4 -3 4 -4 2M1316 2660l-8 1 -22 0 -6 -2 -6 -5 -5 -9 -1 -12 3 -11 5 -7 5 -3 6 -1 23 0 8 2 6 5 3 4 2 6 1 6 0 8 -2 6 -4 6 -4 4 -4 2M1590 2629l-2 -1 0 -2 0 -4 2 0 2 0 0 4 0 2 -2 1M1612 2629l-1 -3 0 -3 1 -1 2 0 1 4 -1 2 -2 1M1617 2718l-6 -1 -9 -4 -3 0 -13 5 -5 0 -12 -4 -12 4 -5 0 -4 -2 -9 -8 -3 0 -10 8 -5 2 -6 -1 -9 -4 -3 0 -11 4 -6 1 -6 -4 -4 -8 -2 -10 1 -10 2 -6 2 -5 5 -4 4 -1 4 1 11 4 3 0 9 -4 6 -1 5 2 10 8 3 -1 9 -7 4 -2 5 0 12 4 12 -4 5 0 13 5 3 0 9 -4 6 -1 5 3 4 6 2 7 1 8 0 8 -3 8 -4 5 -5 3M1815 2810l-25 1 -16 -5 -13 4 -5 0 -12 -4 -13 4 -5 0 -12 -4 -10 3 -6 0 -6 -4 -4 -5 -2 -8 0 -9 5 -9 4 -4 5 -1 4 0 10 3 17 -3 13 3 17 -3 13 3 17 -4 25 1 6 3 4 5 3 6 0 7 -1 8 -3 6 -4 4 -6 2M1856 2797l-2 -1 -1 -2 1 -3 2 0 1 3 0 1 -1 2M1882 2797l-1 -1 -1 -2 1 -3 1 0 2 3 0 1 -2 2M1852 2870l-6 0 -12 -3 -13 3 -17 -3 -13 3 -17 -3 -13 3 -17 -3 -10 3 -6 0 -6 -4 -4 -5 -2 -7 0 -10 2 -6 3 -4 4 -3 5 -2 4 1 10 3 16 -4 14 4 16 -4 14 4 12 -4 5 0 13 4 16 -3 14 3 16 -3 4 1 4 3 5 8 1 8 -1 10 -5 6 -2 2 -5 2 -5 0 -12 -3 -12 3M1870 2999l-7 1 -24 0 -6 -2 -6 -4 -6 -8 -1 -11 1 -11 6 -8 6 -4 6 -2 24 0 9 1 8 5 3 6 2 6 1 6 0 7 -2 6 -4 6 -5 4 -5 2M1200 2990l-1 0 -1 -2 2 0 2 0 -1 2 -1 0M531 3040l-3 0 -2 0 -3 -6 1 -8 2 -3 2 -1 3 0 1 1 3 6 -1 7 -3 4M567 3040l-3 0 -2 0 -3 -6 1 -8 2 -3 2 -1 3 0 1 1 3 6 -1 7 -3 4M747 3040l-1 0 -4 0 -1 -2 -2 -4 1 -8 1 -3 3 -2 3 1 1 2 2 5 0 6 -3 5M780 3040l-3 0 -1 0 -4 -6 1 -8 2 -3 2 -1 3 0 2 1 2 6 -1 7 -3 4M945 3049l-1 -2 -1 -3 2 -5 1 0 2 3 -1 5 -2 2M874 3057l0 -8 2 1 0 3 0 3 -2 1M874 3112l0 -2 0 2M878 3176l-4 1 -2 -1 -4 -4 -1 -5 0 -6 1 -6 2 -5 3 -3 1 0 4 2 2 5 2 6 0 8 -2 5 -2 3M884 3197l-10 1 -4 -2 -2 -2 0 -4 2 -3 4 -1 14 2 2 2 1 4 -3 2 -4 1M1239 3248l-7 1 -11 -2 -13 -1 -8 -1 -5 -1 -4 -4 -2 -2 0 -4 4 -4 9 -4 19 -1 11 -2 6 0 6 4 2 7 -1 8 -3 4 -3 2M879 3284l-7 1 -5 -2 -2 -3 2 -6 3 -3 4 -1 12 3 4 2 1 3 -1 3 -3 1 -8 2M1226 3328l-8 0 -6 -2 -5 -6 -3 -6 0 -8 2 -6 6 -6 6 -2 6 0 6 2 5 5 3 7 0 8 -3 6 -4 4 -5 4M582 3314l-9 0 -6 -2 -4 -4 1 -4 3 -3 6 -1 7 0 7 2 3 3 1 5 -3 2 -6 2M873 3371l-1 1 -2 -4 2 -8 1 1 1 3 -1 7M740 3457l-6 0 -5 -1 -5 -4 -3 -6 0 -8 2 -6 3 -4 6 -3 6 0 4 2 4 4 3 6 0 6 -1 6 -4 5 -4 3M1226 3460l-8 0 -6 -2 -6 -5 -3 -7 0 -8 2 -6 5 -5 6 -3 8 0 6 2 6 5 3 6 0 7 -2 6 -5 6 -6 4M786 3478l-4 0 -5 -2 -3 -4 -1 -5 0 -6 2 -5 3 -2 4 -2 4 0 3 2 3 4 1 4 0 5 -1 5 -3 4 -3 2M1536 2633l-4 1 -11 -4 -11 4 -4 0 -12 -4 -10 3 -5 1 -5 -3 -2 -4 -2 -6 1 -7 3 -6 5 -3 5 0 10 3 12 -4 4 1 11 3 11 -3 4 0 3 1 3 4 2 5 0 5 0 4 -2 4 -3 4 -3 1M1314 2657l-6 1 -21 0 -6 -2 -5 -3 -4 -8 -2 -9 2 -9 4 -8 6 -4 8 -1 22 0 5 2 5 3 3 5 2 6 1 6 -1 6 -2 6 -3 4 -4 3 -4 2M1617 2714l-6 0 -9 -5 -3 0 -13 6 -5 0 -12 -5 -12 5 -5 0 -6 -4 -7 -9 -3 -2 -9 11 -6 3 -6 0 -9 -5 -3 0 -11 5 -6 0 -5 -3 -3 -6 -2 -7 0 -10 2 -6 2 -4 4 -3 4 -2 4 1 11 5 3 0 9 -5 6 0 6 3 9 11 3 -2 7 -9 6 -4 5 0 12 5 12 -5 5 0 13 6 3 0 9 -5 5 -1 4 2 4 5 2 6 1 7 0 7 -2 6 -3 5 -5 3M1815 2807l-25 1 -16 -5 -13 4 -5 -1 -12 -3 -13 4 -5 -1 -12 -4 -10 4 -4 0 -6 -2 -4 -4 -2 -8 0 -8 4 -8 3 -3 5 -1 4 0 10 4 12 -4 5 0 13 4 12 -4 5 0 13 4 16 -5 25 0 5 2 4 4 3 6 0 6 0 6 -3 6 -4 5 -5 1M1881 2867l-5 0 -12 -4 -10 4 -4 1 -16 -5 -10 4 -4 1 -16 -5 -10 4 -4 1 -16 -5 -10 4 -4 1 -16 -5 -10 4 -4 0 -5 -1 -5 -5 -2 -6 0 -7 1 -6 3 -5 3 -3 5 -2 4 1 10 3 16 -4 4 1 10 3 16 -4 4 1 10 3 16 -4 4 1 10 4 16 -5 4 1 10 4 12 -4 5 0 5 2 3 3 3 6 0 6 -1 6 -2 5 -3 4 -5 2M1870 2996l-7 1 -23 0 -6 -1 -4 -3 -5 -6 -3 -9 1 -9 4 -9 6 -5 9 -2 24 0 6 2 4 2 4 5 3 6 1 6 0 6 -2 6 -3 4 -4 4 -5 2M530 3035l-3 -1 0 -4 1 -2 2 -1 1 3 0 3 -1 2M566 3035l-3 -1 0 -4 1 -2 2 -1 1 3 0 3 -1 2M746 3035l-2 0 -2 -3 0 -3 2 -2 2 1 1 2 -1 5M778 3035l-2 -1 0 -4 1 -2 1 -1 2 3 0 3 -2 2M874 3175l-2 -2 -2 -2 -2 -9 2 -7 2 -3 2 -1 4 2 1 2 2 9 -2 7 -1 2 -4 2M886 3196l-8 1 -6 -1 -2 -2 -1 -4 3 -2 2 -1 11 1 3 2 1 1 0 3 -3 2M1238 3247l-6 1 -11 -3 -19 -1 -8 -4 -2 -2 0 -4 5 -4 6 -2 18 -1 11 -3 6 1 5 3 1 4 1 4 -1 4 -1 4 -5 3M873 3284l-3 0 -3 -3 0 -6 3 -3 4 0 5 0 7 2 3 2 0 4 -1 1 -15 3M1226 3325l-6 1 -6 -2 -4 -4 -3 -6 -1 -6 2 -6 4 -4 6 -3 6 0 4 1 5 4 2 6 0 6 -2 6 -3 4 -4 3M1227 3457l-6 1 -6 -1 -5 -3 -4 -6 -1 -6 2 -6 3 -5 5 -4 6 -1 6 1 5 4 3 5 2 6 -1 6 -4 6 -5 3M738 3454l-4 0 -5 -2 -3 -3 -2 -6 0 -6 2 -4 3 -3 5 -2 4 0 3 2 4 4 1 4 0 5 -1 5 -3 3 -4 3M786 3474l-3 0 -3 0 -3 -3 -1 -4 0 -5 1 -2 5 -4 2 0 4 1 2 5 0 6 -2 4 -2 2M1534 2630l-4 0 -9 -5 -3 0 -6 4 -4 2 -5 -1 -9 -5 -3 0 -7 5 -5 0 -3 -2 -3 -4 -1 -4 1 -5 3 -5 4 -2 5 1 6 4 3 0 8 -4 4 -2 4 1 8 5 3 0 9 -5 4 0 4 1 2 3 2 8 -3 7 -5 3M1312 2654l-24 1 -4 -1 -5 -3 -4 -6 -2 -7 1 -10 4 -6 4 -3 8 -2 21 0 5 2 3 2 3 5 2 4 1 10 -2 5 -3 5 -3 2 -5 2M1522 2710l-2 1 -5 -1 -9 -7 -3 0 -12 7 -3 1 -3 -1 -5 -5 -2 -9 1 -9 3 -6 4 -3 5 0 12 7 3 0 6 -5 4 -3 5 1 3 1 5 7 2 8 -3 10 -2 3 -4 3M1586 2711l-6 -1 -8 -4 -3 -1 -12 6 -5 0 -2 -2 -5 -5 -3 -8 1 -8 3 -6 4 -3 4 -2 4 1 11 5 11 -5 6 -1 4 2 9 6 3 0 6 -5 4 -3 5 1 4 3 3 6 1 7 -1 8 -4 6 -3 2 -5 1 -4 -3 -6 -5 -3 0 -9 6 -4 2M1814 2804l-11 0 -13 0 -5 -1 -7 -4 -4 -1 -13 6 -5 -1 -8 -5 -4 0 -13 6 -5 -1 -8 -5 -4 0 -10 5 -4 0 -5 -2 -3 -4 -2 -5 0 -6 4 -7 2 -3 4 -1 4 0 10 5 4 0 8 -5 5 0 13 5 4 0 8 -5 5 0 13 5 4 0 7 -5 5 -1 13 1 11 -1 4 1 4 3 2 5 1 6 -1 6 -2 5 -4 3 -4 1M1880 2864l-5 -1 -7 -4 -4 0 -13 5 -5 0 -8 -5 -4 0 -13 5 -5 0 -8 -5 -4 0 -13 5 -5 0 -8 -5 -4 0 -13 5 -5 0 -8 -5 -4 0 -10 5 -4 0 -5 -2 -3 -4 -2 -4 0 -6 1 -5 3 -4 2 -2 4 -1 4 0 10 5 16 -6 4 1 10 5 16 -6 4 1 10 5 16 -6 4 1 10 5 4 0 10 -5 6 0 10 5 4 0 7 -4 5 -1 4 1 3 3 2 4 1 6 -1 5 -2 5 -3 3 -4 1M1868 2993l-28 1 -4 -1 -4 -3 -5 -6 -2 -6 1 -8 3 -7 5 -5 8 -2 24 0 4 2 4 2 4 4 2 5 1 5 -1 6 -1 4 -3 4 -4 4 -4 1M876 3171l-2 0 -2 -1 -2 -6 2 -7 2 -2 4 2 1 5 0 5 -3 4M879 3196l-5 -1 -2 -1 0 -4 4 -2 9 2 1 1 -1 3 -6 2M1238 3245l-6 1 -11 -3 -18 -1 -6 -3 -1 -1 0 -4 3 -2 5 -3 16 0 12 -3 4 0 5 2 3 6 -1 6 -3 4 -2 1M878 3283l-6 0 -3 -2 -1 -3 1 -3 3 -2 4 0 9 2 1 1 0 4 -1 0 -7 3M1226 3322l-5 1 -5 -1 -4 -4 -2 -4 -1 -6 2 -4 3 -4 4 -2 4 -1 5 2 3 3 2 4 1 5 -1 5 -4 4 -2 2M1226 3454l-5 1 -5 -1 -4 -4 -3 -4 -1 -4 1 -5 3 -4 4 -3 5 -1 5 1 4 3 3 4 1 6 -2 5 -2 3 -4 3M736 3449l-2 0 -4 -1 -2 -5 0 -3 1 -4 5 -3 2 0 4 1 2 6 -1 6 -5 3M783 3466l-1 0 1 -3 1 3 -1 0M1484 2624l-4 1 -3 -3 -1 -4 1 -3 2 -2 4 1 3 2 0 5 -2 3M1509 2626l-5 -1 -3 -4 -1 -3 2 -3 4 -3 5 2 3 4 -1 4 -4 4M1536 2624l-2 1 -2 0 -4 -4 0 -5 4 -3 2 0 4 3 0 5 -2 3M1312 2650l-22 0 -8 -2 -3 -3 -2 -6 0 -6 2 -6 3 -3 6 -2 22 0 6 2 4 5 1 9 -3 7 -6 5M1491 2705l-3 1 -3 -2 -3 -4 -1 -4 0 -4 2 -5 2 -3 3 -2 3 1 3 2 2 3 2 5 0 3 -2 4 -5 5M1521 2705l-5 0 -2 -1 -3 -4 -2 -4 0 -4 2 -5 4 -4 3 -1 3 1 3 2 3 7 0 4 -1 4 -5 5M1557 2705l-5 1 -2 -2 -2 -4 -2 -4 0 -4 2 -5 3 -4 3 -1 3 1 4 3 4 7 0 3 -2 4 -6 5M1587 2705l-3 1 -4 -1 -5 -5 -2 -4 0 -4 3 -5 4 -4 2 -1 4 0 3 2 3 3 2 5 0 2 -1 5 -3 4 -3 2M1616 2705l-4 0 -2 -2 -4 -4 -1 -5 1 -4 1 -3 4 -4 3 -1 3 1 2 3 3 7 -1 5 -1 4 -4 3M1815 2800l-13 -1 -10 2 -4 -1 -4 -3 -4 -3 -1 -4 0 -2 4 -6 7 -4 13 1 12 -1 5 4 1 2 1 5 -1 5 -1 2 -5 4M1704 2798l-3 1 -3 -1 -3 -3 -1 -3 0 -8 2 -3 4 -2 2 0 4 2 3 3 2 4 0 2 -2 4 -5 4M1734 2798l-4 1 -4 0 -3 -3 -3 -4 -1 -3 1 -3 3 -4 3 -3 5 0 4 1 3 3 3 5 0 2 -1 4 -6 4M1764 2798l-4 1 -4 0 -3 -3 -3 -4 -1 -3 1 -3 3 -4 3 -3 5 0 4 1 3 3 3 5 0 2 -1 4 -6 4M1762 2860l-4 0 -4 -2 -4 -4 -1 -4 0 -2 2 -4 3 -2 4 -2 4 0 4 2 3 2 2 5 0 3 -2 3 -3 3 -4 2M1792 2860l-4 0 -4 -2 -4 -4 -1 -4 0 -2 2 -4 3 -2 4 -2 4 0 4 2 3 2 2 5 0 3 -2 3 -3 3 -4 2M1822 2860l-4 0 -4 -2 -4 -4 -1 -4 0 -2 2 -4 3 -2 4 -2 4 0 4 2 3 2 2 5 0 3 -2 3 -3 3 -4 2M1852 2860l-4 0 -4 -2 -4 -4 -1 -4 0 -2 2 -4 4 -2 3 -2 4 0 4 2 3 2 2 5 0 3 -2 3 -3 3 -4 2M1732 2860l-2 0 -4 -2 -3 -6 1 -8 2 -2 4 -2 2 0 4 2 3 2 2 5 0 3 -2 3 -3 3 -4 2M1881 2860l-3 0 -4 -2 -3 -3 -2 -5 0 -2 2 -4 4 -2 3 -2 5 2 3 2 1 4 -1 7 -2 3 -3 2M1868 2989l-24 0 -8 -1 -4 -4 -2 -4 -1 -6 2 -6 3 -5 6 -2 23 0 7 2 4 2 2 4 1 7 -3 8 -3 3 -3 2M874 3164l0 -2 0 2M1236 3244l-6 0 -10 -3 -14 0 -4 -2 -2 -3 2 -3 4 -2 14 0 10 -3 6 0 4 3 2 5 -2 5 -4 3M878 3281l-5 0 -1 -1 -1 -2 1 -2 4 -2 5 2 0 4 -3 1M1221 3319l-3 -1 -3 -2 -2 -4 0 -2 1 -4 2 -2 5 -3 5 3 2 2 1 4 0 2 -2 4 -3 2 -3 1M1221 3451l-3 -1 -3 -2 -2 -4 -1 -2 3 -6 3 -2 3 -1 3 1 3 2 3 6 -1 2 -2 4 -3 2 -3 1M1310 2644l-23 -1 -3 -2 -1 -2 0 -6 2 -3 3 -2 23 1 4 3 1 6 -2 3 -4 3M1584 2696l-2 -2 0 -1 2 -1 1 2 -1 2M1814 2794l-4 0 -7 -3 -9 3 -3 1 -4 -3 -1 -4 2 -3 3 -1 3 0 9 3 7 -3 4 0 2 2 1 3 -1 3 -2 2M1731 2791l-1 0 -2 -1 0 -2 2 -1 1 0 1 2 -1 2M1761 2791l-1 0 -2 -1 0 -2 2 -1 1 0 1 2 -1 2M1761 2852l-1 0 -2 -2 0 -1 2 -1 2 1 -1 3M1791 2852l-1 0 -2 -2 0 -1 2 -1 2 1 -1 3M1821 2852l-1 0 -2 -2 0 -1 2 -1 2 1 -1 3M1851 2852l-1 0 -2 -2 0 -1 2 -1 2 1 -1 3M1864 2983l-24 -1 -2 -1 -3 -3 0 -6 3 -3 4 -2 24 1 3 2 1 2 1 4 -2 4 -5 3M1233 3242l-5 -1 -3 -2 -2 -3 0 -2 4 -2 5 -2 2 0 4 1 1 3 0 4 -3 3 -3 1M1233 3238l-2 0 0 -2 1 -2 2 1 0 2 -1 1"/>
</g></g>
<path d="M1286.7,1488 L1864.9,1488" fill="none" stroke="#ff0000" stroke-width="8" stroke-dasharray="31 25" stroke-dashoffset="13.7"/>
<path d="M1286.7,1840 L1864.9,1840" fill="none" stroke="#ff0000" stroke-width="8" stroke-dasharray="31 25" stroke-dashoffset="21.5"/>
<path d="M1286.7,1488 L1286.7,1840" fill="none" stroke="#ff0000" stroke-width="8" stroke-dasharray="31 25" stroke-dashoffset="15.7"/>
<path d="M1864.9,1488 L1864.9,1840" fill="none" stroke="#ff0000" stroke-width="8" stroke-dasharray="31 25" stroke-dashoffset="31.8"/>
<path d="M558.8,1896 L1221,1896" fill="none" stroke="#ff0000" stroke-width="8" stroke-dasharray="31 25" stroke-dashoffset="34"/>
<path d="M558.8,1896 L558.8,2322" fill="none" stroke="#ff0000" stroke-width="8" stroke-dasharray="31 25" stroke-dashoffset="51.2"/>
<path d="M558.8,2322 L1221,2322" fill="none" stroke="#ff0000" stroke-width="8" stroke-dasharray="31 25" stroke-dashoffset="38"/>
<path d="M1221,1896 L1221,2322" fill="none" stroke="#ff0000" stroke-width="8" stroke-dasharray="31 25" stroke-dashoffset="23.7"/>
<path d="M558.8,2180 L752.3,2180" fill="none" stroke="#ff0000" stroke-width="8" stroke-dasharray="31 25" stroke-dashoffset="29"/>
<path d="M752.3,2180 L752.3,2322" fill="none" stroke="#ff0000" stroke-width="8" stroke-dasharray="31 25" stroke-dashoffset="0"/>
<text x="1402.4" y="1458.8" font-size="65" fill="#1a1a1a" textLength="333.6" lengthAdjust="spacingAndGlyphs">G 54Hα2-C</text>
<text x="1407.6" y="1991.2" font-size="65" fill="#1a1a1a" textLength="332" lengthAdjust="spacingAndGlyphs">G 54Hα3-C</text>
<text x="564.3" y="2070.6" font-size="65" fill="#1a1a1a" textLength="317.7" lengthAdjust="spacingAndGlyphs">G 54Hα3-T</text>
<text x="699.7" y="2421.5" font-size="65" fill="#1a1a1a" textLength="320.5" lengthAdjust="spacingAndGlyphs">G 54Hα2-T</text>
<line x1="1736" y1="1411.5" x2="1864.9" y2="1487.7" stroke="#333" stroke-width="2.6"/>
<line x1="1286.7" y1="1840" x2="1373.8" y2="1922.6" stroke="#333" stroke-width="2.6"/>
<line x1="622.3" y1="2076.2" x2="741.1" y2="2181.1" stroke="#333" stroke-width="2.6"/>
<line x1="564.3" y1="2316.5" x2="694.2" y2="2399.4" stroke="#333" stroke-width="2.6"/>
<path d="M547.3,2631 L1848.6,2631" fill="none" stroke="#000" stroke-width="8" stroke-dasharray="31 25" stroke-dashoffset="23"/>
<path d="M547.3,2631 L547.3,3439.5" fill="none" stroke="#000" stroke-width="8" stroke-dasharray="31 25" stroke-dashoffset="0"/>
<path d="M547.3,3439.5 L1848.6,3439.5" fill="none" stroke="#000" stroke-width="8" stroke-dasharray="31 25" stroke-dashoffset="0"/>
<path d="M1848.6,2631 L1848.6,3439.5" fill="none" stroke="#000" stroke-width="8" stroke-dasharray="31 25" stroke-dashoffset="0"/>
<path d="M752.2,2979.5 L1288.2,2979.5" fill="none" stroke="#000" stroke-width="8" stroke-dasharray="31 25" stroke-dashoffset="0"/>
<path d="M752.2,2979.5 L752.2,3319.5" fill="none" stroke="#000" stroke-width="8" stroke-dasharray="31 25" stroke-dashoffset="28"/>
<path d="M752.2,3319.5 L1288.2,3319.5" fill="none" stroke="#000" stroke-width="8" stroke-dasharray="31 25" stroke-dashoffset="0"/>
<path d="M1288.2,2979.5 L1288.2,3319.5" fill="none" stroke="#000" stroke-width="8" stroke-dasharray="31 25" stroke-dashoffset="0"/>
<text x="462.8" y="2621.7" font-size="65" fill="#1a1a1a" textLength="384" lengthAdjust="spacingAndGlyphs">C/T G 54Hα2</text>
<text x="455.1" y="2875.2" font-size="65" fill="#1a1a1a" textLength="384" lengthAdjust="spacingAndGlyphs">C/T G 54Hα3</text>
<line x1="565.2" y1="2893.1" x2="752.2" y2="3021.2" stroke="#333" stroke-width="2.6"/>
<rect x="449.5" y="1388.5" width="1518.5" height="1055.0" fill="none" stroke="#000" stroke-width="9"/>
<line x1="1968.0" y1="1410.3" x2="1986.0" y2="1410.3" stroke="#000" stroke-width="5"/>
<line x1="1968.0" y1="1444.2" x2="1977.5" y2="1444.2" stroke="#000" stroke-width="5"/>
<line x1="1968.0" y1="1478.0" x2="1977.5" y2="1478.0" stroke="#000" stroke-width="5"/>
<line x1="1968.0" y1="1511.9" x2="1977.5" y2="1511.9" stroke="#000" stroke-width="5"/>
<line x1="1968.0" y1="1545.7" x2="1986.0" y2="1545.7" stroke="#000" stroke-width="5"/>
<line x1="1968.0" y1="1579.5" x2="1977.5" y2="1579.5" stroke="#000" stroke-width="5"/>
<line x1="1968.0" y1="1613.4" x2="1977.5" y2="1613.4" stroke="#000" stroke-width="5"/>
<line x1="1968.0" y1="1647.2" x2="1977.5" y2="1647.2" stroke="#000" stroke-width="5"/>
<line x1="1968.0" y1="1681.1" x2="1986.0" y2="1681.1" stroke="#000" stroke-width="5"/>
<line x1="1968.0" y1="1714.9" x2="1977.5" y2="1714.9" stroke="#000" stroke-width="5"/>
<line x1="1968.0" y1="1748.7" x2="1977.5" y2="1748.7" stroke="#000" stroke-width="5"/>
<line x1="1968.0" y1="1782.6" x2="1977.5" y2="1782.6" stroke="#000" stroke-width="5"/>
<line x1="1968.0" y1="1816.4" x2="1986.0" y2="1816.4" stroke="#000" stroke-width="5"/>
<line x1="1968.0" y1="1850.3" x2="1977.5" y2="1850.3" stroke="#000" stroke-width="5"/>
<line x1="1968.0" y1="1884.1" x2="1977.5" y2="1884.1" stroke="#000" stroke-width="5"/>
<line x1="1968.0" y1="1917.9" x2="1977.5" y2="1917.9" stroke="#000" stroke-width="5"/>
<line x1="1968.0" y1="1951.8" x2="1986.0" y2="1951.8" stroke="#000" stroke-width="5"/>
<line x1="1968.0" y1="1985.6" x2="1977.5" y2="1985.6" stroke="#000" stroke-width="5"/>
<line x1="1968.0" y1="2019.5" x2="1977.5" y2="2019.5" stroke="#000" stroke-width="5"/>
<line x1="1968.0" y1="2053.3" x2="1977.5" y2="2053.3" stroke="#000" stroke-width="5"/>
<line x1="1968.0" y1="2087.1" x2="1986.0" y2="2087.1" stroke="#000" stroke-width="5"/>
<line x1="1968.0" y1="2121.0" x2="1977.5" y2="2121.0" stroke="#000" stroke-width="5"/>
<line x1="1968.0" y1="2154.8" x2="1977.5" y2="2154.8" stroke="#000" stroke-width="5"/>
<line x1="1968.0" y1="2188.7" x2="1977.5" y2="2188.7" stroke="#000" stroke-width="5"/>
<line x1="1968.0" y1="2222.5" x2="1986.0" y2="2222.5" stroke="#000" stroke-width="5"/>
<line x1="1968.0" y1="2256.3" x2="1977.5" y2="2256.3" stroke="#000" stroke-width="5"/>
<line x1="1968.0" y1="2290.2" x2="1977.5" y2="2290.2" stroke="#000" stroke-width="5"/>
<line x1="1968.0" y1="2324.0" x2="1977.5" y2="2324.0" stroke="#000" stroke-width="5"/>
<line x1="1968.0" y1="2357.9" x2="1986.0" y2="2357.9" stroke="#000" stroke-width="5"/>
<line x1="1968.0" y1="2391.7" x2="1977.5" y2="2391.7" stroke="#000" stroke-width="5"/>
<line x1="1968.0" y1="2425.5" x2="1977.5" y2="2425.5" stroke="#000" stroke-width="5"/>
<line x1="498.7" y1="2443.5" x2="498.7" y2="2459.0" stroke="#000" stroke-width="5"/>
<line x1="551.0" y1="2443.5" x2="551.0" y2="2459.0" stroke="#000" stroke-width="5"/>
<line x1="603.4" y1="2443.5" x2="603.4" y2="2459.0" stroke="#000" stroke-width="5"/>
<line x1="655.7" y1="2443.5" x2="655.7" y2="2459.0" stroke="#000" stroke-width="5"/>
<line x1="708.0" y1="2443.5" x2="708.0" y2="2459.0" stroke="#000" stroke-width="5"/>
<line x1="760.3" y1="2443.5" x2="760.3" y2="2459.0" stroke="#000" stroke-width="5"/>
<line x1="812.7" y1="2443.5" x2="812.7" y2="2459.0" stroke="#000" stroke-width="5"/>
<line x1="865.0" y1="2443.5" x2="865.0" y2="2459.0" stroke="#000" stroke-width="5"/>
<line x1="917.3" y1="2443.5" x2="917.3" y2="2459.0" stroke="#000" stroke-width="5"/>
<line x1="969.7" y1="2443.5" x2="969.7" y2="2459.0" stroke="#000" stroke-width="5"/>
<line x1="1022.0" y1="2443.5" x2="1022.0" y2="2459.0" stroke="#000" stroke-width="5"/>
<line x1="1074.3" y1="2443.5" x2="1074.3" y2="2459.0" stroke="#000" stroke-width="5"/>
<line x1="1126.7" y1="2443.5" x2="1126.7" y2="2459.0" stroke="#000" stroke-width="5"/>
<line x1="1179.0" y1="2443.5" x2="1179.0" y2="2459.0" stroke="#000" stroke-width="5"/>
<line x1="1231.3" y1="2443.5" x2="1231.3" y2="2459.0" stroke="#000" stroke-width="5"/>
<line x1="1283.6" y1="2443.5" x2="1283.6" y2="2459.0" stroke="#000" stroke-width="5"/>
<line x1="1336.0" y1="2443.5" x2="1336.0" y2="2459.0" stroke="#000" stroke-width="5"/>
<line x1="1388.3" y1="2443.5" x2="1388.3" y2="2459.0" stroke="#000" stroke-width="5"/>
<line x1="1440.6" y1="2443.5" x2="1440.6" y2="2459.0" stroke="#000" stroke-width="5"/>
<line x1="1493.0" y1="2443.5" x2="1493.0" y2="2459.0" stroke="#000" stroke-width="5"/>
<line x1="1545.3" y1="2443.5" x2="1545.3" y2="2459.0" stroke="#000" stroke-width="5"/>
<line x1="1597.6" y1="2443.5" x2="1597.6" y2="2459.0" stroke="#000" stroke-width="5"/>
<line x1="1650.0" y1="2443.5" x2="1650.0" y2="2459.0" stroke="#000" stroke-width="5"/>
<line x1="1702.3" y1="2443.5" x2="1702.3" y2="2459.0" stroke="#000" stroke-width="5"/>
<line x1="1754.6" y1="2443.5" x2="1754.6" y2="2459.0" stroke="#000" stroke-width="5"/>
<line x1="1807.0" y1="2443.5" x2="1807.0" y2="2459.0" stroke="#000" stroke-width="5"/>
<line x1="1859.3" y1="2443.5" x2="1859.3" y2="2459.0" stroke="#000" stroke-width="5"/>
<line x1="1911.6" y1="2443.5" x2="1911.6" y2="2459.0" stroke="#000" stroke-width="5"/>
<line x1="1963.9" y1="2443.5" x2="1963.9" y2="2459.0" stroke="#000" stroke-width="5"/>
<text transform="translate(2098,1538.7) rotate(-90)" font-size="71" font-weight="bold" text-anchor="middle">2.8</text>
<text transform="translate(2098,1672.8) rotate(-90)" font-size="71" font-weight="bold" text-anchor="middle">3.0</text>
<text transform="translate(2098,1806.8) rotate(-90)" font-size="71" font-weight="bold" text-anchor="middle">3.2</text>
<text transform="translate(2098,1940.9) rotate(-90)" font-size="71" font-weight="bold" text-anchor="middle">3.4</text>
<text transform="translate(2098,2074.9) rotate(-90)" font-size="71" font-weight="bold" text-anchor="middle">3.6</text>
<text transform="translate(2098,2208.9) rotate(-90)" font-size="71" font-weight="bold" text-anchor="middle">3.8</text>
<text transform="translate(2098,2343.0) rotate(-90)" font-size="71" font-weight="bold" text-anchor="middle">4.0</text>
<text transform="translate(2213.5,1954.6) rotate(-90)" font-size="66" font-weight="bold" text-anchor="middle" textLength="741" lengthAdjust="spacing"><tspan font-size="40" dy="-19">1</tspan><tspan dy="19">H Chemical  Shift (ppm)</tspan></text>
<rect x="449.5" y="2552" width="1515.2" height="1002" fill="none" stroke="#000" stroke-width="8"/>
<line x1="1964.7" y1="2568.6" x2="1984.0" y2="2568.6" stroke="#000" stroke-width="5"/>
<line x1="1964.7" y1="2601.0" x2="1977.0" y2="2601.0" stroke="#000" stroke-width="5"/>
<line x1="1964.7" y1="2633.4" x2="1977.0" y2="2633.4" stroke="#000" stroke-width="5"/>
<line x1="1964.7" y1="2665.7" x2="1977.0" y2="2665.7" stroke="#000" stroke-width="5"/>
<line x1="1964.7" y1="2698.1" x2="1984.0" y2="2698.1" stroke="#000" stroke-width="5"/>
<line x1="1964.7" y1="2730.5" x2="1977.0" y2="2730.5" stroke="#000" stroke-width="5"/>
<line x1="1964.7" y1="2762.8" x2="1977.0" y2="2762.8" stroke="#000" stroke-width="5"/>
<line x1="1964.7" y1="2795.2" x2="1977.0" y2="2795.2" stroke="#000" stroke-width="5"/>
<line x1="1964.7" y1="2827.6" x2="1984.0" y2="2827.6" stroke="#000" stroke-width="5"/>
<line x1="1964.7" y1="2859.9" x2="1977.0" y2="2859.9" stroke="#000" stroke-width="5"/>
<line x1="1964.7" y1="2892.3" x2="1977.0" y2="2892.3" stroke="#000" stroke-width="5"/>
<line x1="1964.7" y1="2924.7" x2="1977.0" y2="2924.7" stroke="#000" stroke-width="5"/>
<line x1="1964.7" y1="2957.1" x2="1984.0" y2="2957.1" stroke="#000" stroke-width="5"/>
<line x1="1964.7" y1="2989.4" x2="1977.0" y2="2989.4" stroke="#000" stroke-width="5"/>
<line x1="1964.7" y1="3021.8" x2="1977.0" y2="3021.8" stroke="#000" stroke-width="5"/>
<line x1="1964.7" y1="3054.2" x2="1977.0" y2="3054.2" stroke="#000" stroke-width="5"/>
<line x1="1964.7" y1="3086.5" x2="1984.0" y2="3086.5" stroke="#000" stroke-width="5"/>
<line x1="1964.7" y1="3118.9" x2="1977.0" y2="3118.9" stroke="#000" stroke-width="5"/>
<line x1="1964.7" y1="3151.3" x2="1977.0" y2="3151.3" stroke="#000" stroke-width="5"/>
<line x1="1964.7" y1="3183.6" x2="1977.0" y2="3183.6" stroke="#000" stroke-width="5"/>
<line x1="1964.7" y1="3216.0" x2="1984.0" y2="3216.0" stroke="#000" stroke-width="5"/>
<line x1="1964.7" y1="3248.4" x2="1977.0" y2="3248.4" stroke="#000" stroke-width="5"/>
<line x1="1964.7" y1="3280.8" x2="1977.0" y2="3280.8" stroke="#000" stroke-width="5"/>
<line x1="1964.7" y1="3313.1" x2="1977.0" y2="3313.1" stroke="#000" stroke-width="5"/>
<line x1="1964.7" y1="3345.5" x2="1984.0" y2="3345.5" stroke="#000" stroke-width="5"/>
<line x1="1964.7" y1="3377.9" x2="1977.0" y2="3377.9" stroke="#000" stroke-width="5"/>
<line x1="1964.7" y1="3410.2" x2="1977.0" y2="3410.2" stroke="#000" stroke-width="5"/>
<line x1="1964.7" y1="3442.6" x2="1977.0" y2="3442.6" stroke="#000" stroke-width="5"/>
<line x1="1964.7" y1="3475.0" x2="1984.0" y2="3475.0" stroke="#000" stroke-width="5"/>
<line x1="1964.7" y1="3507.3" x2="1977.0" y2="3507.3" stroke="#000" stroke-width="5"/>
<line x1="1964.7" y1="3539.7" x2="1977.0" y2="3539.7" stroke="#000" stroke-width="5"/>
<line x1="498.7" y1="3554.0" x2="498.7" y2="3576.0" stroke="#000" stroke-width="5"/>
<line x1="551.0" y1="3554.0" x2="551.0" y2="3568.0" stroke="#000" stroke-width="5"/>
<line x1="603.4" y1="3554.0" x2="603.4" y2="3568.0" stroke="#000" stroke-width="5"/>
<line x1="655.7" y1="3554.0" x2="655.7" y2="3568.0" stroke="#000" stroke-width="5"/>
<line x1="708.0" y1="3554.0" x2="708.0" y2="3576.0" stroke="#000" stroke-width="5"/>
<line x1="760.3" y1="3554.0" x2="760.3" y2="3568.0" stroke="#000" stroke-width="5"/>
<line x1="812.7" y1="3554.0" x2="812.7" y2="3568.0" stroke="#000" stroke-width="5"/>
<line x1="865.0" y1="3554.0" x2="865.0" y2="3568.0" stroke="#000" stroke-width="5"/>
<line x1="917.3" y1="3554.0" x2="917.3" y2="3576.0" stroke="#000" stroke-width="5"/>
<line x1="969.7" y1="3554.0" x2="969.7" y2="3568.0" stroke="#000" stroke-width="5"/>
<line x1="1022.0" y1="3554.0" x2="1022.0" y2="3568.0" stroke="#000" stroke-width="5"/>
<line x1="1074.3" y1="3554.0" x2="1074.3" y2="3568.0" stroke="#000" stroke-width="5"/>
<line x1="1126.7" y1="3554.0" x2="1126.7" y2="3576.0" stroke="#000" stroke-width="5"/>
<line x1="1179.0" y1="3554.0" x2="1179.0" y2="3568.0" stroke="#000" stroke-width="5"/>
<line x1="1231.3" y1="3554.0" x2="1231.3" y2="3568.0" stroke="#000" stroke-width="5"/>
<line x1="1283.6" y1="3554.0" x2="1283.6" y2="3568.0" stroke="#000" stroke-width="5"/>
<line x1="1336.0" y1="3554.0" x2="1336.0" y2="3576.0" stroke="#000" stroke-width="5"/>
<line x1="1388.3" y1="3554.0" x2="1388.3" y2="3568.0" stroke="#000" stroke-width="5"/>
<line x1="1440.6" y1="3554.0" x2="1440.6" y2="3568.0" stroke="#000" stroke-width="5"/>
<line x1="1493.0" y1="3554.0" x2="1493.0" y2="3568.0" stroke="#000" stroke-width="5"/>
<line x1="1545.3" y1="3554.0" x2="1545.3" y2="3576.0" stroke="#000" stroke-width="5"/>
<line x1="1597.6" y1="3554.0" x2="1597.6" y2="3568.0" stroke="#000" stroke-width="5"/>
<line x1="1650.0" y1="3554.0" x2="1650.0" y2="3568.0" stroke="#000" stroke-width="5"/>
<line x1="1702.3" y1="3554.0" x2="1702.3" y2="3568.0" stroke="#000" stroke-width="5"/>
<line x1="1754.6" y1="3554.0" x2="1754.6" y2="3576.0" stroke="#000" stroke-width="5"/>
<line x1="1807.0" y1="3554.0" x2="1807.0" y2="3568.0" stroke="#000" stroke-width="5"/>
<line x1="1859.3" y1="3554.0" x2="1859.3" y2="3568.0" stroke="#000" stroke-width="5"/>
<line x1="1911.6" y1="3554.0" x2="1911.6" y2="3568.0" stroke="#000" stroke-width="5"/>
<line x1="1963.9" y1="3554.0" x2="1963.9" y2="3576.0" stroke="#000" stroke-width="5"/>
<text transform="translate(2089.4,2682.2) rotate(-90)" font-size="71" font-weight="bold" text-anchor="middle">2.8</text>
<text transform="translate(2089.4,2816.4) rotate(-90)" font-size="71" font-weight="bold" text-anchor="middle">3.0</text>
<text transform="translate(2089.4,2950.6) rotate(-90)" font-size="71" font-weight="bold" text-anchor="middle">3.2</text>
<text transform="translate(2089.4,3084.8) rotate(-90)" font-size="71" font-weight="bold" text-anchor="middle">3.4</text>
<text transform="translate(2089.4,3219.0) rotate(-90)" font-size="71" font-weight="bold" text-anchor="middle">3.6</text>
<text transform="translate(2089.4,3353.2) rotate(-90)" font-size="71" font-weight="bold" text-anchor="middle">3.8</text>
<text transform="translate(2089.4,3487.4) rotate(-90)" font-size="71" font-weight="bold" text-anchor="middle">4.0</text>
<text transform="translate(2200.5,3096) rotate(-90)" font-size="66" font-weight="bold" text-anchor="middle" textLength="753" lengthAdjust="spacing"><tspan font-size="40" dy="-19">1</tspan><tspan dy="19">H Chemical  Shift (ppm)</tspan></text>
<text x="506.6" y="3676.8" font-size="69" text-anchor="middle" font-weight="bold" fill="#000" >4.0</text>
<text x="715.0" y="3676.8" font-size="69" text-anchor="middle" font-weight="bold" fill="#000" >3.8</text>
<text x="919.7" y="3676.8" font-size="69" text-anchor="middle" font-weight="bold" fill="#000" >3.6</text>
<text x="1127.0" y="3676.8" font-size="69" text-anchor="middle" font-weight="bold" fill="#000" >3.4</text>
<text x="1332.3" y="3676.8" font-size="69" text-anchor="middle" font-weight="bold" fill="#000" >3.2</text>
<text x="1558.8" y="3676.8" font-size="69" text-anchor="middle" font-weight="bold" fill="#000" >3.0</text>
<text x="1763.3" y="3676.8" font-size="69" text-anchor="middle" font-weight="bold" fill="#000" >2.8</text>
<text x="894" y="3776" font-size="66" font-weight="bold" textLength="760" lengthAdjust="spacing"><tspan font-size="40" dy="-19">1</tspan><tspan dy="19">H Chemical  Shift (ppm)</tspan></text>
</svg>
</body></html>
